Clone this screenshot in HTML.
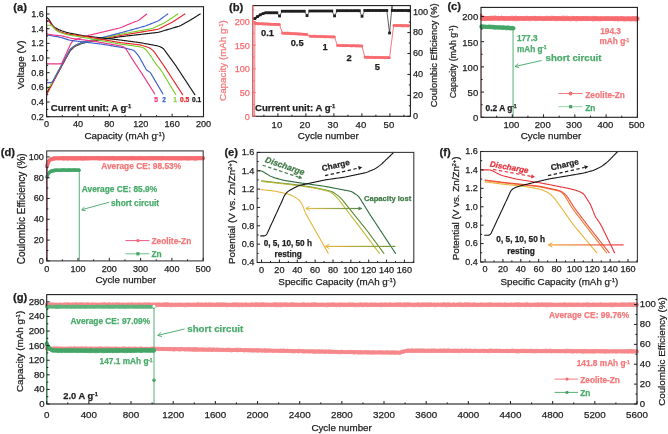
<!DOCTYPE html>
<html><head><meta charset="utf-8"><style>html,body{margin:0;padding:0;background:#fff;width:668px;height:434px;overflow:hidden}</style></head>
<body>
<svg width="668" height="434" viewBox="0 0 668 434" style="display:block;will-change:transform">
<rect width="668" height="434" fill="#fff"/>
<g font-family='"Liberation Sans", sans-serif'>
<text x="13.3" y="11.4" font-size="11.2" fill="#1e1e1e" stroke="#1e1e1e" stroke-width="0.25" font-weight="bold" text-anchor="start">(a)</text>
<path d="M46.6 93.23 L46.99 92.53 L47.38 91.83 L47.77 91.12 L48.16 90.42 L48.55 89.72 L48.93 89.02 L49.32 88.31 L49.71 87.61 L50.1 86.91 L50.49 86.2 L50.88 85.5 L51.27 84.8 L51.66 84.09 L52.05 83.39 L52.44 82.69 L52.82 81.98 L53.21 81.28 L53.6 80.58 L53.99 79.88 L54.38 79.17 L54.77 78.47 L55.16 77.77 L55.55 77.06 L55.94 76.36 L56.33 75.66 L56.71 74.95 L57.1 74.25 L57.49 73.55 L57.88 72.85 L58.27 72.14 L58.66 71.44 L59.05 70.74 L59.44 70.03 L59.83 69.33 L60.22 68.63 L60.6 67.92 L60.99 67.22 L61.38 66.52 L61.77 65.82 L62.16 65.11 L62.55 64.41 L62.94 63.71 L63.33 63 L63.72 62.3 L64.11 61.6 L64.49 60.89 L64.88 60.19 L65.27 59.49 L65.66 58.78 L66.05 58.08 L66.44 57.38 L66.83 56.68 L67.22 55.97 L67.61 55.27 L68 54.57 L68.38 53.86 L68.77 53.16 L69.16 52.46 L69.56 51.76 L70.01 51.1 L70.5 50.48 L71.03 49.88 L71.61 49.32 L72.19 48.77 L72.78 48.22 L73.37 47.67 L73.97 47.14 L74.6 46.66 L75.27 46.23 L75.97 45.85 L76.7 45.53 L77.44 45.22 L78.19 44.91 L78.93 44.6 L79.67 44.29 L80.42 43.98 L81.17 43.7 L81.93 43.44 L82.69 43.22 L83.47 43.02 L84.26 42.85 L85.04 42.68 L85.83 42.51 L86.61 42.34 L87.39 42.17 L88.18 42 L88.96 41.83 L89.75 41.66 L90.53 41.48 L91.32 41.31 L92.1 41.14 L92.89 40.98 L93.68 40.83 L94.47 40.69 L95.27 40.56 L96.07 40.43 L96.87 40.31 L97.66 40.19 L98.46 40.07 L99.26 39.94 L100.06 39.82 L100.86 39.7 L101.66 39.58 L102.46 39.46 L103.26 39.33 L104.05 39.21 L104.85 39.09 L105.65 38.97 L106.45 38.84 L107.25 38.72 L108.05 38.6 L108.85 38.48 L109.65 38.36 L110.44 38.23 L111.24 38.11 L112.04 37.99 L112.84 37.87 L113.64 37.74 L114.44 37.62 L115.24 37.5 L116.04 37.38 L116.83 37.26 L117.63 37.13 L118.43 37.01 L119.23 36.89 L120.03 36.78 L120.82 36.68 L121.62 36.58 L122.42 36.49 L123.21 36.4 L124.01 36.31 L124.8 36.22 L125.6 36.12 L126.4 36.03 L127.19 35.94 L127.99 35.85 L128.78 35.76 L129.58 35.67 L130.38 35.57 L131.17 35.48 L131.97 35.39 L132.76 35.3 L133.56 35.21 L134.36 35.12 L135.15 35.02 L135.95 34.93 L136.74 34.84 L137.54 34.75 L138.34 34.66 L139.13 34.57 L139.93 34.47 L140.72 34.38 L141.52 34.29 L142.32 34.2 L143.11 34.11 L143.91 34.02 L144.7 33.92 L145.5 33.83 L146.3 33.74 L147.09 33.65 L147.89 33.56 L148.68 33.47 L149.48 33.37 L150.27 33.28 L151.07 33.19 L151.87 33.1 L152.66 33.01 L153.46 32.92 L154.25 32.82 L155.05 32.73 L155.85 32.64 L156.64 32.55 L157.43 32.44 L158.22 32.29 L159 32.12 L159.78 31.91 L160.55 31.68 L161.32 31.46 L162.09 31.23 L162.86 31 L163.63 30.77 L164.4 30.54 L165.17 30.32 L165.94 30.09 L166.71 29.86 L167.48 29.63 L168.25 29.4 L169.02 29.18 L169.79 28.95 L170.56 28.72 L171.33 28.49 L172.1 28.27 L172.87 28.04 L173.64 27.81 L174.41 27.58 L175.19 27.35 L175.96 27.13 L176.73 26.9 L177.5 26.67 L178.27 26.44 L179.03 26.19 L179.77 25.9 L180.5 25.57 L181.21 25.21 L181.92 24.82 L182.62 24.43 L183.32 24.04 L184.03 23.65 L184.73 23.26 L185.43 22.87 L186.14 22.48 L186.84 22.09 L187.54 21.7 L188.25 21.31 L188.95 20.92 L189.65 20.52 L190.34 20.12 L191.03 19.7 L191.71 19.28 L192.39 18.85 L193.07 18.43 L193.75 18 L194.43 17.58 L195.11 17.15 L195.79 16.72 L196.47 16.3 L197.15 15.87 L197.83 15.45 L198.51 15.02 L199.19 14.6 L199.87 14.17 L200.21 13.96" fill="none" stroke="#161616" stroke-width="1.15" stroke-linejoin="round" stroke-linecap="round"/>
<path d="M46.6 94.7 L46.97 93.99 L47.35 93.28 L47.72 92.57 L48.09 91.86 L48.47 91.15 L48.84 90.44 L49.22 89.73 L49.59 89.02 L49.96 88.31 L50.34 87.6 L50.71 86.89 L51.08 86.18 L51.46 85.47 L51.83 84.76 L52.2 84.05 L52.58 83.34 L52.95 82.63 L53.32 81.92 L53.7 81.21 L54.07 80.5 L54.45 79.79 L54.82 79.08 L55.19 78.37 L55.57 77.66 L55.94 76.95 L56.31 76.24 L56.69 75.53 L57.06 74.82 L57.43 74.11 L57.81 73.4 L58.18 72.69 L58.55 71.98 L58.93 71.27 L59.3 70.56 L59.68 69.85 L60.05 69.14 L60.42 68.43 L60.8 67.72 L61.17 67.01 L61.54 66.3 L61.92 65.59 L62.29 64.88 L62.66 64.17 L63.04 63.46 L63.41 62.75 L63.78 62.04 L64.16 61.33 L64.53 60.62 L64.91 59.91 L65.28 59.2 L65.65 58.49 L66.03 57.78 L66.4 57.07 L66.77 56.36 L67.15 55.65 L67.52 54.94 L67.89 54.23 L68.27 53.52 L68.64 52.81 L69.01 52.1 L69.39 51.39 L69.8 50.71 L70.28 50.06 L70.8 49.46 L71.39 48.89 L72.02 48.35 L72.65 47.82 L73.27 47.28 L73.91 46.75 L74.57 46.27 L75.25 45.82 L75.96 45.42 L76.7 45.06 L77.44 44.72 L78.19 44.37 L78.93 44.02 L79.67 43.68 L80.42 43.33 L81.17 43.01 L81.94 42.74 L82.73 42.51 L83.53 42.33 L84.34 42.18 L85.15 42.03 L85.96 41.87 L86.77 41.72 L87.58 41.57 L88.39 41.42 L89.21 41.27 L90.02 41.12 L90.83 40.96 L91.64 40.81 L92.45 40.66 L93.26 40.51 L94.07 40.36 L94.87 40.21 L95.67 40.07 L96.47 39.92 L97.26 39.77 L98.06 39.63 L98.86 39.48 L99.66 39.33 L100.46 39.19 L101.26 39.04 L102.06 38.89 L102.86 38.75 L103.65 38.6 L104.45 38.45 L105.25 38.31 L106.05 38.16 L106.85 38.01 L107.65 37.87 L108.45 37.72 L109.25 37.57 L110.04 37.43 L110.84 37.28 L111.64 37.13 L112.44 36.99 L113.24 36.84 L114.04 36.69 L114.84 36.55 L115.64 36.4 L116.43 36.25 L117.23 36.11 L118.03 35.96 L118.83 35.81 L119.63 35.67 L120.43 35.53 L121.22 35.39 L122.02 35.26 L122.81 35.13 L123.61 35 L124.41 34.86 L125.2 34.73 L126 34.6 L126.79 34.46 L127.59 34.33 L128.39 34.2 L129.18 34.06 L129.98 33.93 L130.77 33.8 L131.57 33.67 L132.37 33.53 L133.16 33.4 L133.96 33.27 L134.75 33.13 L135.55 33 L136.35 32.87 L137.14 32.74 L137.94 32.6 L138.73 32.47 L139.53 32.34 L140.33 32.2 L141.12 32.07 L141.92 31.94 L142.71 31.81 L143.51 31.67 L144.31 31.54 L145.1 31.41 L145.9 31.27 L146.69 31.14 L147.49 31.01 L148.29 30.87 L149.08 30.74 L149.88 30.61 L150.67 30.48 L151.47 30.34 L152.26 30.21 L153.06 30.08 L153.86 29.94 L154.65 29.81 L155.45 29.68 L156.24 29.55 L157.04 29.4 L157.81 29.21 L158.57 28.96 L159.3 28.66 L160.02 28.32 L160.74 27.96 L161.46 27.61 L162.17 27.25 L162.89 26.89 L163.61 26.53 L164.32 26.18 L165.04 25.82 L165.75 25.46 L166.47 25.1 L167.19 24.75 L167.9 24.39 L168.62 24.03 L169.33 23.68 L170.05 23.32 L170.77 22.96 L171.48 22.59 L172.18 22.2 L172.88 21.78 L173.57 21.35 L174.26 20.9 L174.95 20.45 L175.63 20.01 L176.32 19.56 L177.01 19.11 L177.69 18.66 L178.38 18.22 L179.07 17.77 L179.76 17.32 L180.44 16.87 L181.13 16.42 L181.82 15.98 L182.5 15.53 L183.19 15.08 L183.88 14.63 L184.56 14.18 L184.91 13.96" fill="none" stroke="#e8262a" stroke-width="1.15" stroke-linejoin="round" stroke-linecap="round"/>
<path d="M46.6 88.83 L47.38 88.59 L48.1 88.27 L48.73 87.84 L49.27 87.32 L49.72 86.69 L50.11 85.98 L50.49 85.27 L50.88 84.57 L51.26 83.86 L51.65 83.15 L52.03 82.45 L52.42 81.74 L52.8 81.03 L53.19 80.33 L53.57 79.62 L53.96 78.91 L54.35 78.21 L54.73 77.5 L55.12 76.79 L55.5 76.09 L55.89 75.38 L56.27 74.67 L56.66 73.97 L57.04 73.26 L57.43 72.55 L57.81 71.85 L58.2 71.14 L58.58 70.43 L58.97 69.73 L59.35 69.02 L59.74 68.31 L60.12 67.61 L60.51 66.9 L60.89 66.19 L61.28 65.49 L61.66 64.78 L62.05 64.07 L62.43 63.37 L62.82 62.66 L63.2 61.95 L63.59 61.25 L63.97 60.54 L64.36 59.83 L64.74 59.13 L65.13 58.42 L65.51 57.71 L65.9 57.01 L66.28 56.3 L66.67 55.59 L67.05 54.89 L67.44 54.18 L67.82 53.47 L68.21 52.77 L68.59 52.06 L68.98 51.35 L69.36 50.65 L69.8 49.97 L70.29 49.33 L70.86 48.74 L71.48 48.19 L72.15 47.66 L72.82 47.14 L73.5 46.61 L74.18 46.13 L74.88 45.69 L75.6 45.29 L76.33 44.95 L77.07 44.64 L77.81 44.33 L78.56 44.02 L79.3 43.71 L80.04 43.41 L80.79 43.1 L81.54 42.83 L82.31 42.59 L83.08 42.38 L83.86 42.21 L84.65 42.03 L85.43 41.86 L86.22 41.69 L87 41.52 L87.79 41.35 L88.57 41.18 L89.36 41.01 L90.14 40.84 L90.92 40.67 L91.71 40.49 L92.49 40.32 L93.28 40.15 L94.06 39.98 L94.85 39.81 L95.64 39.63 L96.42 39.46 L97.21 39.29 L98 39.12 L98.78 38.94 L99.57 38.77 L100.36 38.6 L101.14 38.42 L101.93 38.25 L102.72 38.08 L103.51 37.9 L104.29 37.73 L105.08 37.56 L105.87 37.39 L106.65 37.21 L107.44 37.04 L108.23 36.87 L109.01 36.69 L109.8 36.52 L110.59 36.35 L111.37 36.18 L112.16 36 L112.95 35.83 L113.73 35.66 L114.52 35.48 L115.31 35.31 L116.09 35.14 L116.88 34.97 L117.67 34.79 L118.46 34.62 L119.24 34.45 L120.03 34.29 L120.82 34.14 L121.62 33.99 L122.41 33.85 L123.21 33.71 L124 33.57 L124.8 33.43 L125.59 33.29 L126.38 33.14 L127.18 33 L127.97 32.86 L128.77 32.72 L129.56 32.58 L130.36 32.44 L131.15 32.3 L131.94 32.16 L132.74 32.01 L133.53 31.87 L134.33 31.73 L135.12 31.59 L135.92 31.45 L136.71 31.31 L137.5 31.17 L138.3 31.03 L139.09 30.89 L139.89 30.74 L140.68 30.6 L141.48 30.46 L142.27 30.32 L143.06 30.18 L143.86 30.04 L144.65 29.9 L145.45 29.76 L146.24 29.61 L147.04 29.47 L147.83 29.33 L148.62 29.19 L149.42 29.05 L150.21 28.91 L151 28.73 L151.78 28.52 L152.54 28.25 L153.3 27.95 L154.04 27.6 L154.79 27.26 L155.54 26.92 L156.29 26.58 L157.03 26.24 L157.78 25.9 L158.53 25.56 L159.28 25.22 L160.02 24.88 L160.77 24.54 L161.52 24.2 L162.27 23.86 L163.02 23.51 L163.75 23.16 L164.47 22.78 L165.17 22.37 L165.85 21.95 L166.52 21.5 L167.19 21.06 L167.86 20.61 L168.53 20.17 L169.21 19.73 L169.88 19.28 L170.55 18.84 L171.22 18.4 L171.89 17.95 L172.56 17.51 L173.23 17.07 L173.9 16.62 L174.57 16.18 L175.24 15.73 L175.91 15.29 L176.58 14.85 L177.25 14.4 L177.93 13.96" fill="none" stroke="#7ccd2c" stroke-width="1.15" stroke-linejoin="round" stroke-linecap="round"/>
<path d="M46.6 82.6 L47.44 82.6 L48.29 82.6 L49.13 82.6 L49.98 82.6 L50.8 82.56 L51.52 82.36 L52.13 82.01 L52.64 81.5 L53.05 80.83 L53.44 80.12 L53.82 79.41 L54.2 78.7 L54.59 77.99 L54.97 77.28 L55.35 76.57 L55.74 75.86 L56.12 75.15 L56.51 74.44 L56.89 73.73 L57.27 73.02 L57.66 72.31 L58.04 71.6 L58.43 70.89 L58.81 70.18 L59.19 69.47 L59.58 68.76 L59.96 68.05 L60.35 67.34 L60.73 66.63 L61.11 65.92 L61.5 65.21 L61.88 64.5 L62.26 63.79 L62.65 63.08 L63.03 62.37 L63.42 61.66 L63.8 60.95 L64.18 60.24 L64.57 59.53 L64.95 58.82 L65.34 58.11 L65.72 57.4 L66.1 56.69 L66.49 55.98 L66.87 55.27 L67.26 54.56 L67.64 53.85 L68.02 53.14 L68.41 52.43 L68.79 51.72 L69.18 51.01 L69.58 50.31 L70.04 49.65 L70.57 49.03 L71.16 48.46 L71.82 47.92 L72.49 47.4 L73.16 46.88 L73.84 46.36 L74.53 45.89 L75.24 45.45 L75.96 45.06 L76.7 44.7 L77.44 44.35 L78.19 44 L78.93 43.66 L79.67 43.31 L80.42 42.96 L81.17 42.64 L81.93 42.36 L82.69 42.12 L83.47 41.92 L84.26 41.75 L85.04 41.58 L85.83 41.41 L86.61 41.24 L87.39 41.07 L88.18 40.9 L88.96 40.73 L89.75 40.56 L90.53 40.38 L91.32 40.21 L92.1 40.04 L92.89 39.87 L93.67 39.68 L94.46 39.5 L95.24 39.3 L96.03 39.1 L96.82 38.9 L97.6 38.7 L98.39 38.5 L99.18 38.31 L99.96 38.11 L100.75 37.91 L101.54 37.71 L102.33 37.51 L103.11 37.31 L103.9 37.11 L104.69 36.91 L105.47 36.71 L106.26 36.51 L107.05 36.31 L107.83 36.11 L108.62 35.92 L109.41 35.72 L110.19 35.52 L110.98 35.32 L111.77 35.12 L112.55 34.92 L113.34 34.72 L114.13 34.52 L114.91 34.32 L115.7 34.12 L116.49 33.92 L117.28 33.72 L118.06 33.52 L118.85 33.32 L119.63 33.12 L120.42 32.91 L121.2 32.7 L121.98 32.49 L122.77 32.27 L123.55 32.05 L124.33 31.84 L125.11 31.62 L125.89 31.4 L126.68 31.19 L127.46 30.97 L128.24 30.75 L129.02 30.54 L129.81 30.32 L130.59 30.1 L131.37 29.89 L132.15 29.67 L132.93 29.45 L133.72 29.24 L134.5 29.02 L135.28 28.8 L136.06 28.59 L136.84 28.37 L137.63 28.15 L138.41 27.94 L139.19 27.72 L139.97 27.5 L140.75 27.29 L141.54 27.07 L142.32 26.85 L143.1 26.64 L143.88 26.42 L144.66 26.19 L145.43 25.94 L146.19 25.68 L146.95 25.39 L147.7 25.09 L148.46 24.8 L149.21 24.5 L149.96 24.2 L150.71 23.9 L151.46 23.61 L152.22 23.31 L152.97 23.01 L153.72 22.71 L154.47 22.41 L155.23 22.12 L155.98 21.82 L156.73 21.52 L157.47 21.19 L158.18 20.83 L158.87 20.42 L159.54 19.97 L160.2 19.49 L160.85 19 L161.51 18.52 L162.16 18.04 L162.82 17.56 L163.47 17.08 L164.13 16.6 L164.78 16.12 L165.44 15.64 L166.09 15.16 L166.74 14.68 L167.4 14.2 L167.73 13.96" fill="none" stroke="#3d5fcc" stroke-width="1.15" stroke-linejoin="round" stroke-linecap="round"/>
<path d="M46.6 63.9 L47.41 63.9 L48.21 63.9 L49.02 63.9 L49.82 63.9 L50.63 63.9 L51.43 63.9 L52.24 63.9 L53.05 63.9 L53.85 63.9 L54.66 63.9 L55.46 63.9 L56.27 63.9 L57.07 63.9 L57.88 63.9 L58.69 63.9 L59.49 63.9 L60.27 63.86 L60.95 63.66 L61.52 63.29 L61.98 62.76 L62.35 62.07 L62.68 61.33 L63.02 60.6 L63.35 59.87 L63.69 59.13 L64.03 58.4 L64.36 57.67 L64.7 56.93 L65.04 56.2 L65.37 55.47 L65.71 54.73 L66.04 54 L66.38 53.27 L66.72 52.53 L67.05 51.8 L67.39 51.07 L67.73 50.33 L68.06 49.6 L68.4 48.87 L68.73 48.13 L69.07 47.4 L69.41 46.67 L69.74 45.93 L70.08 45.2 L70.43 44.47 L70.81 43.76 L71.24 43.07 L71.71 42.39 L72.23 41.74 L72.79 41.15 L73.41 40.65 L74.07 40.23 L74.79 39.9 L75.56 39.63 L76.32 39.37 L77.08 39.1 L77.84 38.83 L78.6 38.57 L79.36 38.3 L80.12 38.03 L80.88 37.77 L81.64 37.5 L82.4 37.23 L83.16 36.97 L83.92 36.7 L84.69 36.44 L85.45 36.19 L86.23 35.97 L87.01 35.76 L87.79 35.57 L88.58 35.38 L89.36 35.19 L90.15 35 L90.94 34.82 L91.72 34.63 L92.51 34.44 L93.29 34.26 L94.08 34.07 L94.87 33.88 L95.65 33.69 L96.44 33.51 L97.23 33.32 L98.01 33.13 L98.8 32.95 L99.59 32.76 L100.37 32.57 L101.16 32.38 L101.94 32.2 L102.73 32.01 L103.52 31.82 L104.3 31.64 L105.09 31.45 L105.88 31.26 L106.66 31.07 L107.45 30.89 L108.23 30.7 L109.02 30.51 L109.81 30.33 L110.59 30.14 L111.38 29.95 L112.17 29.76 L112.95 29.58 L113.74 29.39 L114.53 29.2 L115.31 29.02 L116.1 28.83 L116.88 28.64 L117.67 28.45 L118.46 28.27 L119.24 28.06 L120 27.83 L120.76 27.57 L121.51 27.28 L122.26 26.97 L123 26.66 L123.74 26.36 L124.48 26.05 L125.23 25.74 L125.97 25.43 L126.71 25.12 L127.45 24.82 L128.2 24.51 L128.94 24.2 L129.68 23.89 L130.42 23.59 L131.17 23.28 L131.91 22.97 L132.65 22.66 L133.39 22.36 L134.14 22.05 L134.92 21.77 L135.72 21.51 L136.54 21.25 L137.33 20.94 L138.08 20.59 L138.77 20.16 L139.42 19.68 L140.05 19.18 L140.69 18.69 L141.32 18.19 L141.95 17.69 L142.59 17.19 L143.22 16.7 L143.85 16.2 L144.49 15.7 L145.12 15.2 L145.75 14.71 L146.39 14.21 L146.7 13.96" fill="none" stroke="#ee3589" stroke-width="1.15" stroke-linejoin="round" stroke-linecap="round"/>
<path d="M46.6 18.43 L47.12 17.85 L47.65 18.19 L48.16 18.51 L48.67 19.17 L49.15 19.9 L49.62 20.63 L50.07 21.37 L50.52 22.1 L50.97 22.83 L51.43 23.56 L51.91 24.27 L52.43 24.96 L52.98 25.62 L53.57 26.26 L54.19 26.83 L54.84 27.35 L55.52 27.82 L56.23 28.23 L56.94 28.63 L57.67 29.02 L58.41 29.39 L59.16 29.74 L59.94 30.08 L60.72 30.4 L61.51 30.71 L62.29 31 L63.07 31.27 L63.86 31.53 L64.64 31.77 L65.43 32.01 L66.21 32.25 L67 32.48 L67.79 32.68 L68.57 32.87 L69.37 33.04 L70.16 33.19 L70.95 33.35 L71.74 33.5 L72.53 33.66 L73.33 33.81 L74.12 33.96 L74.91 34.12 L75.7 34.27 L76.5 34.43 L77.29 34.58 L78.08 34.73 L78.87 34.89 L79.66 35.04 L80.46 35.19 L81.25 35.35 L82.04 35.5 L82.83 35.65 L83.63 35.79 L84.42 35.91 L85.22 36.02 L86.02 36.11 L86.82 36.21 L87.62 36.3 L88.42 36.39 L89.22 36.48 L90.02 36.57 L90.82 36.66 L91.62 36.75 L92.42 36.84 L93.22 36.94 L94.02 37.03 L94.82 37.12 L95.62 37.21 L96.42 37.3 L97.22 37.39 L98.02 37.48 L98.82 37.57 L99.62 37.67 L100.42 37.76 L101.22 37.85 L102.02 37.94 L102.83 38.03 L103.63 38.12 L104.43 38.21 L105.23 38.31 L106.03 38.4 L106.83 38.49 L107.63 38.58 L108.43 38.67 L109.23 38.76 L110.03 38.85 L110.83 38.94 L111.63 39.04 L112.43 39.13 L113.23 39.22 L114.03 39.31 L114.83 39.4 L115.63 39.49 L116.43 39.58 L117.23 39.67 L118.03 39.77 L118.83 39.86 L119.63 39.95 L120.43 40.05 L121.22 40.15 L122.02 40.26 L122.82 40.36 L123.62 40.47 L124.41 40.57 L125.21 40.68 L126.01 40.79 L126.8 40.89 L127.6 41 L128.4 41.1 L129.2 41.21 L129.99 41.31 L130.79 41.42 L131.59 41.52 L132.38 41.63 L133.18 41.74 L133.98 41.84 L134.77 41.95 L135.57 42.05 L136.37 42.16 L137.17 42.26 L137.96 42.37 L138.76 42.48 L139.56 42.59 L140.35 42.72 L141.15 42.86 L141.95 43 L142.75 43.15 L143.55 43.29 L144.34 43.44 L145.14 43.59 L145.94 43.73 L146.74 43.88 L147.54 44.03 L148.33 44.17 L149.13 44.32 L149.93 44.47 L150.73 44.61 L151.52 44.76 L152.32 44.91 L153.12 45.05 L153.92 45.2 L154.72 45.35 L155.51 45.49 L156.31 45.64 L157.11 45.79 L157.9 45.97 L158.68 46.2 L159.44 46.48 L160.2 46.81 L160.94 47.18 L161.69 47.55 L162.39 47.96 L163.03 48.44 L163.61 48.99 L164.14 49.59 L164.62 50.25 L165.1 50.91 L165.58 51.57 L166.06 52.22 L166.54 52.88 L167.02 53.54 L167.5 54.19 L167.98 54.85 L168.46 55.51 L168.94 56.16 L169.42 56.82 L169.9 57.48 L170.38 58.14 L170.86 58.79 L171.34 59.45 L171.82 60.11 L172.3 60.76 L172.78 61.42 L173.26 62.08 L173.74 62.74 L174.22 63.39 L174.69 64.05 L175.16 64.72 L175.62 65.38 L176.06 66.05 L176.51 66.73 L176.95 67.4 L177.39 68.08 L177.83 68.75 L178.28 69.42 L178.72 70.1 L179.16 70.77 L179.6 71.45 L180.05 72.12 L180.49 72.79 L180.93 73.47 L181.37 74.14 L181.82 74.82 L182.26 75.49 L182.7 76.16 L183.14 76.84 L183.59 77.51 L184.03 78.19 L184.47 78.86 L184.91 79.53 L185.36 80.21 L185.8 80.88 L186.24 81.56 L186.68 82.23 L187.13 82.9 L187.57 83.58 L188.01 84.25 L188.45 84.93 L188.9 85.6 L189.34 86.27 L189.78 86.95 L190.22 87.62 L190.67 88.3 L191.11 88.97 L191.55 89.64 L191.99 90.32 L192.44 90.99 L192.88 91.67 L193.32 92.34 L193.76 93.01 L194.21 93.69 L194.65 94.36 L194.87 94.7" fill="none" stroke="#161616" stroke-width="1.15" stroke-linejoin="round" stroke-linecap="round"/>
<path d="M46.6 20.63 L47.48 20.63 L48.21 20.88 L48.86 21.24 L49.42 21.77 L49.88 22.46 L50.34 23.17 L50.81 23.87 L51.31 24.54 L51.83 25.2 L52.37 25.84 L52.93 26.46 L53.52 27.08 L54.13 27.67 L54.76 28.26 L55.4 28.81 L56.07 29.33 L56.75 29.8 L57.46 30.22 L58.19 30.62 L58.91 31.01 L59.64 31.4 L60.38 31.74 L61.13 32.05 L61.9 32.32 L62.68 32.55 L63.47 32.77 L64.25 32.99 L65.04 33.21 L65.82 33.43 L66.6 33.65 L67.39 33.86 L68.18 34.05 L68.98 34.22 L69.79 34.36 L70.6 34.47 L71.41 34.58 L72.23 34.69 L73.04 34.79 L73.85 34.9 L74.67 35.01 L75.48 35.12 L76.29 35.23 L77.11 35.33 L77.92 35.44 L78.73 35.55 L79.55 35.66 L80.36 35.77 L81.17 35.88 L81.99 35.98 L82.8 36.09 L83.61 36.21 L84.41 36.33 L85.2 36.46 L85.99 36.6 L86.78 36.74 L87.57 36.88 L88.36 37.02 L89.15 37.15 L89.94 37.29 L90.73 37.43 L91.52 37.57 L92.31 37.71 L93.1 37.85 L93.89 37.99 L94.68 38.13 L95.47 38.26 L96.26 38.4 L97.05 38.54 L97.84 38.68 L98.63 38.82 L99.42 38.96 L100.21 39.1 L101 39.24 L101.79 39.37 L102.58 39.51 L103.37 39.65 L104.16 39.79 L104.95 39.93 L105.74 40.07 L106.52 40.21 L107.31 40.34 L108.1 40.48 L108.89 40.62 L109.68 40.76 L110.47 40.9 L111.26 41.04 L112.05 41.18 L112.84 41.32 L113.63 41.45 L114.42 41.59 L115.21 41.73 L116 41.87 L116.79 42.01 L117.58 42.15 L118.37 42.29 L119.16 42.42 L119.95 42.55 L120.75 42.66 L121.54 42.77 L122.34 42.86 L123.14 42.95 L123.95 43.04 L124.75 43.13 L125.55 43.22 L126.35 43.31 L127.15 43.4 L127.95 43.49 L128.75 43.58 L129.55 43.67 L130.35 43.76 L131.15 43.85 L131.95 43.94 L132.75 44.03 L133.55 44.11 L134.35 44.2 L135.15 44.29 L135.95 44.38 L136.75 44.47 L137.55 44.56 L138.35 44.65 L139.15 44.77 L139.94 44.92 L140.73 45.1 L141.51 45.31 L142.29 45.55 L143.07 45.8 L143.85 46.04 L144.62 46.28 L145.4 46.52 L146.18 46.76 L146.96 47 L147.74 47.24 L148.51 47.49 L149.25 47.81 L149.96 48.18 L150.64 48.61 L151.28 49.09 L151.93 49.59 L152.56 50.1 L153.15 50.65 L153.7 51.23 L154.21 51.85 L154.68 52.5 L155.14 53.16 L155.6 53.82 L156.05 54.48 L156.51 55.14 L156.97 55.8 L157.43 56.46 L157.89 57.12 L158.35 57.78 L158.81 58.44 L159.27 59.1 L159.73 59.76 L160.19 60.42 L160.65 61.08 L161.11 61.74 L161.57 62.4 L162.03 63.06 L162.49 63.72 L162.94 64.38 L163.39 65.05 L163.83 65.72 L164.27 66.39 L164.71 67.07 L165.15 67.74 L165.59 68.41 L166.03 69.09 L166.47 69.76 L166.91 70.44 L167.35 71.11 L167.79 71.78 L168.22 72.46 L168.66 73.13 L169.1 73.81 L169.54 74.48 L169.98 75.15 L170.42 75.83 L170.86 76.5 L171.3 77.18 L171.74 77.85 L172.18 78.52 L172.61 79.2 L173.05 79.87 L173.49 80.55 L173.93 81.22 L174.37 81.89 L174.81 82.57 L175.25 83.24 L175.69 83.92 L176.13 84.59 L176.57 85.26 L177 85.94 L177.44 86.61 L177.88 87.29 L178.32 87.96 L178.76 88.63 L179.2 89.31 L179.64 89.98 L180.08 90.66 L180.52 91.33 L180.95 92 L181.39 92.68 L181.83 93.35 L182.27 94.03 L182.71 94.7" fill="none" stroke="#e8262a" stroke-width="1.15" stroke-linejoin="round" stroke-linecap="round"/>
<path d="M46.6 25.25 L47.45 25.25 L48.3 25.25 L49.15 25.25 L50 25.25 L50.79 25.37 L51.5 25.63 L52.13 26.04 L52.68 26.61 L53.19 27.27 L53.74 27.92 L54.31 28.54 L54.92 29.14 L55.54 29.73 L56.2 30.28 L56.89 30.78 L57.61 31.23 L58.37 31.63 L59.15 32 L59.94 32.35 L60.72 32.68 L61.51 32.98 L62.29 33.26 L63.07 33.52 L63.86 33.78 L64.64 34.04 L65.43 34.28 L66.22 34.49 L67.01 34.68 L67.8 34.83 L68.59 34.96 L69.38 35.09 L70.17 35.22 L70.96 35.35 L71.75 35.48 L72.54 35.61 L73.34 35.74 L74.13 35.87 L74.92 36 L75.71 36.13 L76.5 36.26 L77.29 36.39 L78.08 36.52 L78.88 36.65 L79.67 36.78 L80.46 36.91 L81.25 37.04 L82.04 37.17 L82.83 37.31 L83.62 37.44 L84.41 37.58 L85.2 37.72 L85.99 37.86 L86.78 38 L87.57 38.15 L88.36 38.29 L89.15 38.43 L89.94 38.58 L90.73 38.72 L91.52 38.86 L92.31 39.01 L93.1 39.15 L93.89 39.29 L94.68 39.44 L95.47 39.58 L96.26 39.72 L97.05 39.87 L97.84 40.01 L98.63 40.15 L99.42 40.3 L100.21 40.44 L101 40.58 L101.79 40.73 L102.58 40.87 L103.37 41.02 L104.16 41.16 L104.95 41.3 L105.74 41.45 L106.52 41.59 L107.31 41.73 L108.1 41.88 L108.89 42.02 L109.68 42.16 L110.47 42.31 L111.26 42.45 L112.05 42.59 L112.84 42.74 L113.63 42.88 L114.42 43.02 L115.21 43.17 L116 43.31 L116.79 43.45 L117.58 43.6 L118.37 43.74 L119.16 43.88 L119.95 44.02 L120.75 44.14 L121.54 44.26 L122.34 44.37 L123.14 44.48 L123.95 44.58 L124.75 44.69 L125.55 44.8 L126.35 44.91 L127.15 45.02 L127.95 45.12 L128.75 45.23 L129.55 45.34 L130.35 45.45 L131.15 45.55 L131.95 45.66 L132.75 45.77 L133.55 45.88 L134.35 45.99 L135.15 46.09 L135.95 46.2 L136.75 46.31 L137.55 46.42 L138.35 46.52 L139.15 46.66 L139.93 46.82 L140.71 47.02 L141.47 47.25 L142.23 47.51 L142.99 47.77 L143.72 48.09 L144.4 48.49 L145.04 48.97 L145.64 49.54 L146.21 50.18 L146.77 50.81 L147.34 51.44 L147.87 52.08 L148.38 52.73 L148.86 53.39 L149.32 54.05 L149.77 54.72 L150.22 55.38 L150.66 56.05 L151.11 56.72 L151.56 57.38 L152.01 58.05 L152.46 58.71 L152.91 59.38 L153.36 60.05 L153.81 60.71 L154.26 61.38 L154.71 62.04 L155.16 62.71 L155.61 63.37 L156.07 64.04 L156.55 64.69 L157.05 65.35 L157.57 65.99 L158.1 66.64 L158.64 67.28 L159.17 67.93 L159.7 68.57 L160.23 69.21 L160.74 69.86 L161.23 70.53 L161.69 71.2 L162.12 71.88 L162.54 72.57 L162.95 73.27 L163.37 73.96 L163.78 74.65 L164.2 75.34 L164.61 76.03 L165.03 76.72 L165.44 77.41 L165.86 78.11 L166.27 78.8 L166.68 79.49 L167.1 80.18 L167.51 80.87 L167.93 81.56 L168.34 82.25 L168.76 82.95 L169.17 83.64 L169.59 84.33 L170 85.02 L170.42 85.71 L170.83 86.4 L171.25 87.09 L171.66 87.79 L172.08 88.48 L172.49 89.17 L172.9 89.86 L173.32 90.55 L173.73 91.24 L174.15 91.93 L174.56 92.63 L174.98 93.32 L175.39 94.01 L175.81 94.7" fill="none" stroke="#7ccd2c" stroke-width="1.15" stroke-linejoin="round" stroke-linecap="round"/>
<path d="M46.6 34.86 L47.39 35 L48.19 35.14 L48.98 35.27 L49.77 35.41 L50.57 35.55 L51.36 35.69 L52.16 35.83 L52.95 35.96 L53.74 36.1 L54.54 36.24 L55.33 36.38 L56.12 36.52 L56.92 36.65 L57.71 36.79 L58.51 36.93 L59.3 37.09 L60.09 37.26 L60.87 37.46 L61.65 37.68 L62.43 37.92 L63.21 38.16 L63.99 38.4 L64.77 38.64 L65.54 38.88 L66.32 39.12 L67.1 39.36 L67.88 39.6 L68.66 39.84 L69.44 40.07 L70.22 40.27 L71.02 40.43 L71.81 40.57 L72.61 40.67 L73.42 40.77 L74.22 40.86 L75.02 40.96 L75.82 41.05 L76.63 41.15 L77.43 41.24 L78.23 41.34 L79.04 41.43 L79.84 41.53 L80.64 41.62 L81.44 41.72 L82.25 41.81 L83.05 41.91 L83.85 42 L84.66 42.1 L85.46 42.2 L86.26 42.29 L87.06 42.39 L87.87 42.48 L88.67 42.58 L89.47 42.67 L90.28 42.77 L91.08 42.86 L91.88 42.96 L92.68 43.05 L93.49 43.15 L94.29 43.24 L95.09 43.34 L95.9 43.43 L96.7 43.53 L97.5 43.62 L98.3 43.72 L99.11 43.81 L99.91 43.91 L100.71 44.01 L101.51 44.12 L102.31 44.24 L103.11 44.36 L103.9 44.49 L104.7 44.62 L105.49 44.76 L106.29 44.89 L107.08 45.02 L107.88 45.15 L108.67 45.28 L109.47 45.41 L110.27 45.54 L111.06 45.67 L111.86 45.81 L112.65 45.94 L113.45 46.07 L114.24 46.2 L115.04 46.33 L115.83 46.46 L116.63 46.59 L117.43 46.72 L118.22 46.86 L119.02 46.99 L119.81 47.12 L120.61 47.25 L121.4 47.38 L122.2 47.51 L122.99 47.65 L123.78 47.8 L124.57 47.96 L125.35 48.14 L126.13 48.34 L126.91 48.54 L127.69 48.74 L128.47 48.94 L129.25 49.14 L130.02 49.34 L130.8 49.54 L131.58 49.73 L132.36 49.93 L133.1 50.2 L133.78 50.57 L134.41 51.02 L134.98 51.57 L135.51 52.19 L136.04 52.81 L136.57 53.43 L137.11 54.05 L137.64 54.67 L138.15 55.3 L138.62 55.96 L139.07 56.63 L139.49 57.33 L139.88 58.04 L140.28 58.75 L140.67 59.47 L141.07 60.18 L141.46 60.89 L141.85 61.6 L142.25 62.31 L142.64 63.03 L143.04 63.74 L143.43 64.45 L143.82 65.16 L144.22 65.87 L144.61 66.58 L145.01 67.3 L145.4 68.01 L145.8 68.72 L146.21 69.41 L146.72 70.03 L147.32 70.57 L148.01 71.03 L148.77 71.44 L149.46 71.89 L150.07 72.43 L150.59 73.03 L151.02 73.71 L151.44 74.41 L151.85 75.11 L152.26 75.81 L152.67 76.51 L153.08 77.2 L153.49 77.9 L153.9 78.6 L154.31 79.3 L154.72 80 L155.13 80.7 L155.54 81.4 L155.96 82.09 L156.37 82.79 L156.78 83.49 L157.19 84.19 L157.6 84.89 L158.01 85.59 L158.42 86.28 L158.83 86.98 L159.24 87.68 L159.65 88.38 L160.06 89.08 L160.48 89.78 L160.89 90.47 L161.3 91.17 L161.71 91.87 L162.12 92.57 L162.53 93.27 L162.94 93.97" fill="none" stroke="#3d5fcc" stroke-width="1.15" stroke-linejoin="round" stroke-linecap="round"/>
<path d="M46.6 26.5 L46.6 27.31 L46.6 28.13 L46.6 28.94 L46.6 29.76 L46.6 30.57 L46.6 31.39 L46.6 32.2 L46.74 32.92 L47.07 33.5 L47.59 33.94 L48.3 34.25 L49.14 34.42 L49.97 34.57 L50.79 34.7 L51.6 34.8 L52.41 34.89 L53.22 34.98 L54.03 35.07 L54.84 35.16 L55.65 35.25 L56.46 35.35 L57.27 35.44 L58.08 35.53 L58.88 35.62 L59.69 35.71 L60.5 35.8 L61.31 35.9 L62.12 36.02 L62.93 36.17 L63.73 36.34 L64.54 36.54 L65.34 36.74 L66.14 36.94 L66.95 37.14 L67.75 37.34 L68.56 37.55 L69.36 37.75 L70.16 37.95 L70.97 38.15 L71.77 38.32 L72.57 38.47 L73.37 38.6 L74.17 38.7 L74.96 38.81 L75.76 38.91 L76.55 39.01 L77.35 39.11 L78.15 39.21 L78.94 39.31 L79.74 39.41 L80.53 39.51 L81.33 39.61 L82.13 39.71 L82.92 39.81 L83.72 39.91 L84.51 40.01 L85.31 40.11 L86.11 40.21 L86.9 40.31 L87.7 40.41 L88.5 40.51 L89.29 40.61 L90.09 40.71 L90.88 40.81 L91.68 40.92 L92.48 41.02 L93.27 41.13 L94.07 41.25 L94.86 41.38 L95.66 41.52 L96.45 41.66 L97.25 41.8 L98.04 41.94 L98.84 42.08 L99.63 42.22 L100.43 42.36 L101.22 42.5 L102.02 42.64 L102.82 42.78 L103.61 42.92 L104.41 43.07 L105.2 43.21 L106 43.35 L106.79 43.49 L107.59 43.63 L108.38 43.77 L109.18 43.91 L109.97 44.05 L110.77 44.19 L111.56 44.33 L112.36 44.47 L113.15 44.61 L113.95 44.75 L114.74 44.89 L115.54 45.03 L116.33 45.17 L117.13 45.32 L117.93 45.46 L118.72 45.6 L119.52 45.74 L120.31 45.88 L121.11 46.02 L121.88 46.22 L122.64 46.51 L123.38 46.88 L124.09 47.34 L124.77 47.87 L125.4 48.45 L125.96 49.06 L126.46 49.71 L126.91 50.39 L127.34 51.09 L127.76 51.79 L128.19 52.49 L128.62 53.19 L129.05 53.89 L129.48 54.59 L129.91 55.29 L130.34 55.99 L130.77 56.69 L131.2 57.39 L131.63 58.08 L132.06 58.77 L132.5 59.46 L132.94 60.14 L133.39 60.81 L133.84 61.49 L134.29 62.16 L134.74 62.83 L135.18 63.5 L135.63 64.17 L136.08 64.84 L136.53 65.52 L136.98 66.19 L137.43 66.86 L137.88 67.53 L138.33 68.2 L138.78 68.88 L139.22 69.55 L139.67 70.22 L140.12 70.89 L140.57 71.56 L141.02 72.24 L141.46 72.91 L141.91 73.58 L142.34 74.26 L142.77 74.94 L143.2 75.62 L143.63 76.3 L144.06 76.98 L144.49 77.66 L144.92 78.34 L145.35 79.02 L145.78 79.7 L146.21 80.38 L146.63 81.06 L147.06 81.73 L147.49 82.41 L147.92 83.09 L148.35 83.77 L148.78 84.45 L149.21 85.13 L149.64 85.81 L150.07 86.49 L150.49 87.17 L150.92 87.85 L151.35 88.53 L151.78 89.21 L152.21 89.89 L152.64 90.57 L153.07 91.25 L153.5 91.93 L153.92 92.61 L154.35 93.29 L154.78 93.97" fill="none" stroke="#ee3589" stroke-width="1.15" stroke-linejoin="round" stroke-linecap="round"/>
<path d="M46.6 27.23 L46.6 33.83" fill="none" stroke="#ee3589" stroke-width="1.0" stroke-linejoin="round" stroke-linecap="round"/>
<rect x="46.6" y="6.7" width="156.9" height="110" fill="none" stroke="#1e1e1e" stroke-width="1.1"/>
<line x1="46.6" y1="116.7" x2="46.6" y2="113.7" stroke="#1e1e1e" stroke-width="1"/>
<text x="46.6" y="127" font-size="9.1" fill="#1e1e1e" stroke="#1e1e1e" stroke-width="0.25" font-weight="normal" text-anchor="middle">0</text>
<line x1="77.98" y1="116.7" x2="77.98" y2="113.7" stroke="#1e1e1e" stroke-width="1"/>
<text x="77.98" y="127" font-size="9.1" fill="#1e1e1e" stroke="#1e1e1e" stroke-width="0.25" font-weight="normal" text-anchor="middle">40</text>
<line x1="109.36" y1="116.7" x2="109.36" y2="113.7" stroke="#1e1e1e" stroke-width="1"/>
<text x="109.36" y="127" font-size="9.1" fill="#1e1e1e" stroke="#1e1e1e" stroke-width="0.25" font-weight="normal" text-anchor="middle">80</text>
<line x1="140.74" y1="116.7" x2="140.74" y2="113.7" stroke="#1e1e1e" stroke-width="1"/>
<text x="140.74" y="127" font-size="9.1" fill="#1e1e1e" stroke="#1e1e1e" stroke-width="0.25" font-weight="normal" text-anchor="middle">120</text>
<line x1="172.12" y1="116.7" x2="172.12" y2="113.7" stroke="#1e1e1e" stroke-width="1"/>
<text x="172.12" y="127" font-size="9.1" fill="#1e1e1e" stroke="#1e1e1e" stroke-width="0.25" font-weight="normal" text-anchor="middle">160</text>
<line x1="203.5" y1="116.7" x2="203.5" y2="113.7" stroke="#1e1e1e" stroke-width="1"/>
<text x="203.5" y="127" font-size="9.1" fill="#1e1e1e" stroke="#1e1e1e" stroke-width="0.25" font-weight="normal" text-anchor="middle">200</text>
<line x1="62.29" y1="116.7" x2="62.29" y2="115.1" stroke="#1e1e1e" stroke-width="1"/>
<line x1="93.67" y1="116.7" x2="93.67" y2="115.1" stroke="#1e1e1e" stroke-width="1"/>
<line x1="125.05" y1="116.7" x2="125.05" y2="115.1" stroke="#1e1e1e" stroke-width="1"/>
<line x1="156.43" y1="116.7" x2="156.43" y2="115.1" stroke="#1e1e1e" stroke-width="1"/>
<line x1="187.81" y1="116.7" x2="187.81" y2="115.1" stroke="#1e1e1e" stroke-width="1"/>
<line x1="46.6" y1="116.7" x2="49.6" y2="116.7" stroke="#1e1e1e" stroke-width="1"/>
<text x="43.8" y="119.6" font-size="9.1" fill="#1e1e1e" stroke="#1e1e1e" stroke-width="0.25" font-weight="normal" text-anchor="end">0.2</text>
<line x1="46.6" y1="102.03" x2="49.6" y2="102.03" stroke="#1e1e1e" stroke-width="1"/>
<text x="43.8" y="104.93" font-size="9.1" fill="#1e1e1e" stroke="#1e1e1e" stroke-width="0.25" font-weight="normal" text-anchor="end">0.4</text>
<line x1="46.6" y1="87.37" x2="49.6" y2="87.37" stroke="#1e1e1e" stroke-width="1"/>
<text x="43.8" y="90.27" font-size="9.1" fill="#1e1e1e" stroke="#1e1e1e" stroke-width="0.25" font-weight="normal" text-anchor="end">0.6</text>
<line x1="46.6" y1="72.7" x2="49.6" y2="72.7" stroke="#1e1e1e" stroke-width="1"/>
<text x="43.8" y="75.6" font-size="9.1" fill="#1e1e1e" stroke="#1e1e1e" stroke-width="0.25" font-weight="normal" text-anchor="end">0.8</text>
<line x1="46.6" y1="58.03" x2="49.6" y2="58.03" stroke="#1e1e1e" stroke-width="1"/>
<text x="43.8" y="60.93" font-size="9.1" fill="#1e1e1e" stroke="#1e1e1e" stroke-width="0.25" font-weight="normal" text-anchor="end">1.0</text>
<line x1="46.6" y1="43.37" x2="49.6" y2="43.37" stroke="#1e1e1e" stroke-width="1"/>
<text x="43.8" y="46.27" font-size="9.1" fill="#1e1e1e" stroke="#1e1e1e" stroke-width="0.25" font-weight="normal" text-anchor="end">1.2</text>
<line x1="46.6" y1="28.7" x2="49.6" y2="28.7" stroke="#1e1e1e" stroke-width="1"/>
<text x="43.8" y="31.6" font-size="9.1" fill="#1e1e1e" stroke="#1e1e1e" stroke-width="0.25" font-weight="normal" text-anchor="end">1.4</text>
<line x1="46.6" y1="14.03" x2="49.6" y2="14.03" stroke="#1e1e1e" stroke-width="1"/>
<text x="43.8" y="16.93" font-size="9.1" fill="#1e1e1e" stroke="#1e1e1e" stroke-width="0.25" font-weight="normal" text-anchor="end">1.6</text>
<line x1="46.6" y1="109.37" x2="48.2" y2="109.37" stroke="#1e1e1e" stroke-width="1"/>
<line x1="46.6" y1="94.7" x2="48.2" y2="94.7" stroke="#1e1e1e" stroke-width="1"/>
<line x1="46.6" y1="80.03" x2="48.2" y2="80.03" stroke="#1e1e1e" stroke-width="1"/>
<line x1="46.6" y1="65.37" x2="48.2" y2="65.37" stroke="#1e1e1e" stroke-width="1"/>
<line x1="46.6" y1="50.7" x2="48.2" y2="50.7" stroke="#1e1e1e" stroke-width="1"/>
<line x1="46.6" y1="36.03" x2="48.2" y2="36.03" stroke="#1e1e1e" stroke-width="1"/>
<line x1="46.6" y1="21.37" x2="48.2" y2="21.37" stroke="#1e1e1e" stroke-width="1"/>
<text x="84.5" y="139.4" font-size="9.8" fill="#1e1e1e" stroke="#1e1e1e" stroke-width="0.25" font-weight="normal" text-anchor="start"><tspan>Capacity (mAh g</tspan><tspan font-size="5.88" dy="-2.94" dx="-0.3">-1</tspan><tspan dy="2.94">&#8203;</tspan><tspan>)</tspan></text>
<text x="24.2" y="64.7" font-size="9.8" fill="#1e1e1e" stroke="#1e1e1e" stroke-width="0.25" font-weight="normal" text-anchor="middle" transform="rotate(-90 24.2 64.7)"><tspan>Voltage (V)</tspan></text>
<text x="50.8" y="110.9" font-size="9.6" fill="#1e1e1e" stroke="#1e1e1e" stroke-width="0.25" font-weight="bold" text-anchor="start"><tspan>Current unit: A g</tspan><tspan font-size="5.76" dy="-2.88" dx="-0.3">-1</tspan><tspan dy="2.88">&#8203;</tspan></text>
<text x="154.3" y="101.6" font-size="6.6" fill="#ee3589" stroke="#ee3589" stroke-width="0.25" font-weight="bold" text-anchor="start">5</text>
<text x="162.2" y="101.6" font-size="6.6" fill="#3d5fcc" stroke="#3d5fcc" stroke-width="0.25" font-weight="bold" text-anchor="start">2</text>
<text x="173.3" y="101.6" font-size="6.6" fill="#8fd14f" stroke="#8fd14f" stroke-width="0.25" font-weight="bold" text-anchor="start">1</text>
<text x="180" y="101.6" font-size="6.6" fill="#e8262a" stroke="#e8262a" stroke-width="0.25" font-weight="bold" text-anchor="start">0.5</text>
<text x="192" y="101.6" font-size="6.6" fill="#161616" stroke="#161616" stroke-width="0.25" font-weight="bold" text-anchor="start">0.1</text>
<text x="229" y="10.8" font-size="11.2" fill="#1e1e1e" stroke="#1e1e1e" stroke-width="0.25" font-weight="bold" text-anchor="start">(b)</text>
<line x1="254.6" y1="116.3" x2="254.9" y2="22.8" stroke="#f76a6e" stroke-width="0.9"/>
<path d="M254.8 23.6 L279.55 24.6" fill="none" stroke="#f76a6e" stroke-width="2.4800000000000004" stroke-linejoin="round" stroke-linecap="round" stroke-linecap="butt"/>
<path d="M254.8 22.58 L256.26 22.79 L257.71 22.76 L259.17 22.94 L260.62 23.01 L262.08 22.79 L263.54 22.82 L264.99 23.29 L266.45 23.06 L267.9 23.11 L269.36 23.55 L270.81 23.34 L272.27 23.58 L273.73 23.46 L275.18 23.6 L276.64 23.42 L278.09 23.72 L279.55 23.71" fill="none" stroke="#f76a6e" stroke-width="0.9" stroke-linejoin="round" stroke-linecap="round"/>
<path d="M254.8 24.67 L256.26 24.56 L257.71 24.73 L259.17 24.75 L260.62 24.51 L262.08 24.91 L263.54 24.89 L264.99 24.8 L266.45 24.73 L267.9 25.2 L269.36 25.06 L270.81 25.25 L272.27 25.39 L273.73 25.36 L275.18 25.52 L276.64 25.32 L278.09 25.58 L279.55 25.49" fill="none" stroke="#f76a6e" stroke-width="0.9" stroke-linejoin="round" stroke-linecap="round"/>
<line x1="279.55" y1="24.6" x2="282.3" y2="33" stroke="#f76a6e" stroke-width="0.9"/>
<path d="M282.3 33 L307.05 34.4" fill="none" stroke="#f76a6e" stroke-width="2.4800000000000004" stroke-linejoin="round" stroke-linecap="round" stroke-linecap="butt"/>
<path d="M282.3 32.08 L283.76 32.41 L285.21 32.46 L286.67 32.16 L288.12 32.26 L289.58 32.38 L291.04 32.84 L292.49 32.65 L293.95 32.83 L295.4 32.75 L296.86 32.94 L298.31 32.96 L299.77 33.02 L301.23 33.22 L302.68 33.31 L304.14 33.55 L305.59 33.52 L307.05 33.51" fill="none" stroke="#f76a6e" stroke-width="0.9" stroke-linejoin="round" stroke-linecap="round"/>
<path d="M282.3 34.1 L283.76 34.15 L285.21 34.3 L286.67 34.22 L288.12 34.05 L289.58 34.48 L291.04 34.62 L292.49 34.67 L293.95 34.58 L295.4 34.74 L296.86 34.57 L298.31 34.96 L299.77 34.92 L301.23 34.85 L302.68 34.82 L304.14 35.3 L305.59 35.45 L307.05 35.29" fill="none" stroke="#f76a6e" stroke-width="0.9" stroke-linejoin="round" stroke-linecap="round"/>
<line x1="307.05" y1="34.4" x2="309.8" y2="36.2" stroke="#f76a6e" stroke-width="0.9"/>
<path d="M309.8 36.2 L334.55 36.9" fill="none" stroke="#f76a6e" stroke-width="2.4800000000000004" stroke-linejoin="round" stroke-linecap="round" stroke-linecap="butt"/>
<path d="M309.8 35.1 L311.26 35.5 L312.71 35.35 L314.17 35.26 L315.62 35.37 L317.08 35.65 L318.54 35.74 L319.99 35.37 L321.45 35.7 L322.9 35.45 L324.36 35.83 L325.81 35.68 L327.27 35.99 L328.73 36.09 L330.18 35.89 L331.64 36.18 L333.09 35.87 L334.55 36.01" fill="none" stroke="#f76a6e" stroke-width="0.9" stroke-linejoin="round" stroke-linecap="round"/>
<path d="M309.8 36.88 L311.26 37.18 L312.71 36.94 L314.17 37.06 L315.62 37.21 L317.08 37.35 L318.54 37.17 L319.99 37.15 L321.45 37.6 L322.9 37.37 L324.36 37.73 L325.81 37.74 L327.27 37.52 L328.73 37.61 L330.18 37.68 L331.64 37.78 L333.09 37.8 L334.55 37.79" fill="none" stroke="#f76a6e" stroke-width="0.9" stroke-linejoin="round" stroke-linecap="round"/>
<line x1="334.55" y1="36.9" x2="337.3" y2="45.4" stroke="#f76a6e" stroke-width="0.9"/>
<path d="M337.3 45.4 L362.05 46" fill="none" stroke="#f76a6e" stroke-width="2.4800000000000004" stroke-linejoin="round" stroke-linecap="round" stroke-linecap="butt"/>
<path d="M337.3 44.54 L338.76 44.61 L340.21 44.8 L341.67 44.62 L343.12 44.62 L344.58 44.8 L346.04 44.59 L347.49 44.66 L348.95 45.03 L350.4 44.84 L351.86 44.89 L353.31 44.65 L354.77 44.89 L356.23 45.01 L357.68 44.76 L359.14 45.1 L360.59 45.14 L362.05 45.11" fill="none" stroke="#f76a6e" stroke-width="0.9" stroke-linejoin="round" stroke-linecap="round"/>
<path d="M337.3 46.07 L338.76 46.39 L340.21 46.34 L341.67 46.49 L343.12 46.36 L344.58 46.57 L346.04 46.62 L347.49 46.3 L348.95 46.35 L350.4 46.7 L351.86 46.87 L353.31 46.55 L354.77 46.69 L356.23 46.8 L357.68 46.69 L359.14 46.75 L360.59 46.76 L362.05 46.89" fill="none" stroke="#f76a6e" stroke-width="0.9" stroke-linejoin="round" stroke-linecap="round"/>
<line x1="362.05" y1="46" x2="364.8" y2="57.2" stroke="#f76a6e" stroke-width="0.9"/>
<path d="M364.8 57.2 L389.55 57.7" fill="none" stroke="#f76a6e" stroke-width="2.4800000000000004" stroke-linejoin="round" stroke-linecap="round" stroke-linecap="butt"/>
<path d="M364.8 56.24 L366.26 56.39 L367.71 56.27 L369.17 56.34 L370.62 56.56 L372.08 56.22 L373.54 56.52 L374.99 56.63 L376.45 56.45 L377.9 56.44 L379.36 56.76 L380.81 56.5 L382.27 56.51 L383.73 56.66 L385.18 56.82 L386.64 56.55 L388.09 56.69 L389.55 56.81" fill="none" stroke="#f76a6e" stroke-width="0.9" stroke-linejoin="round" stroke-linecap="round"/>
<path d="M364.8 58.01 L366.26 58.29 L367.71 58.12 L369.17 58.36 L370.62 58.04 L372.08 58.16 L373.54 58.34 L374.99 58.49 L376.45 58.3 L377.9 58.22 L379.36 58.19 L380.81 58.43 L382.27 58.29 L383.73 58.63 L385.18 58.67 L386.64 58.37 L388.09 58.45 L389.55 58.59" fill="none" stroke="#f76a6e" stroke-width="0.9" stroke-linejoin="round" stroke-linecap="round"/>
<line x1="389.55" y1="57.7" x2="393.68" y2="25.4" stroke="#f76a6e" stroke-width="0.9"/>
<path d="M393.68 25.4 L408.8 25.8" fill="none" stroke="#f76a6e" stroke-width="2.4800000000000004" stroke-linejoin="round" stroke-linecap="round" stroke-linecap="butt"/>
<path d="M393.68 24.66 L395.19 24.62 L396.7 24.74 L398.21 24.55 L399.73 24.48 L401.24 24.61 L402.75 24.9 L404.26 24.68 L405.78 24.75 L407.29 24.83 L408.8 24.91" fill="none" stroke="#f76a6e" stroke-width="0.9" stroke-linejoin="round" stroke-linecap="round"/>
<path d="M393.68 26.25 L395.19 26.28 L396.7 26.58 L398.21 26.24 L399.73 26.2 L401.24 26.71 L402.75 26.72 L404.26 26.81 L405.78 26.58 L407.29 26.88 L408.8 26.69" fill="none" stroke="#f76a6e" stroke-width="0.9" stroke-linejoin="round" stroke-linecap="round"/>
<path d="M254.8 18.6 L257.55 16.6 L260.3 14.8 L263.05 13.6 L265.8 12.8 L268.55 12.8 L271.3 12.8 L274.05 12.8 L276.8 12.8" fill="none" stroke="#1e1e1e" stroke-width="2.0" stroke-linejoin="round" stroke-linecap="round"/>
<path d="M282.3 11.2 L285.05 11.2 L287.8 11.2 L290.55 11.2 L293.3 11.2 L296.05 11.2 L298.8 11.2 L301.55 11.2 L304.3 11.2" fill="none" stroke="#1e1e1e" stroke-width="2.0" stroke-linejoin="round" stroke-linecap="round"/>
<path d="M309.8 11 L312.55 11 L315.3 11 L318.05 11 L320.8 11 L323.55 11 L326.3 11 L329.05 11 L331.8 11" fill="none" stroke="#1e1e1e" stroke-width="2.0" stroke-linejoin="round" stroke-linecap="round"/>
<path d="M337.3 10.7 L340.05 10.7 L342.8 10.7 L345.55 10.7 L348.3 10.7 L351.05 10.7 L353.8 10.7 L356.55 10.7 L359.3 10.7" fill="none" stroke="#1e1e1e" stroke-width="2.0" stroke-linejoin="round" stroke-linecap="round"/>
<path d="M364.8 10.5 L367.55 10.5 L370.3 10.5 L373.05 10.5 L375.8 10.5 L378.55 10.5 L381.3 10.5 L384.05 10.5 L386.8 10.5" fill="none" stroke="#1e1e1e" stroke-width="2.0" stroke-linejoin="round" stroke-linecap="round"/>
<path d="M392.3 10.5 L395.05 10.5 L397.8 10.5 L400.55 10.5 L403.3 10.5 L406.05 10.5 L408.8 10.5" fill="none" stroke="#1e1e1e" stroke-width="2.0" stroke-linejoin="round" stroke-linecap="round"/>
<path d="M276.8 12.8 L279.55 16 L282.3 11.2" fill="none" stroke="#1e1e1e" stroke-width="0.7" stroke-linejoin="round" stroke-linecap="round"/>
<path d="M304.3 11.2 L307.05 15.6 L309.8 11" fill="none" stroke="#1e1e1e" stroke-width="0.7" stroke-linejoin="round" stroke-linecap="round"/>
<path d="M331.8 11 L334.55 15.9 L337.3 10.7" fill="none" stroke="#1e1e1e" stroke-width="0.7" stroke-linejoin="round" stroke-linecap="round"/>
<path d="M359.3 10.7 L362.05 16.3 L364.8 10.5" fill="none" stroke="#1e1e1e" stroke-width="0.7" stroke-linejoin="round" stroke-linecap="round"/>
<path d="M386.8 10.5 L389.55 33 L392 6.1 L392.3 10.5" fill="none" stroke="#1e1e1e" stroke-width="0.7" stroke-linejoin="round" stroke-linecap="round"/>
<rect x="253.4" y="17.2" width="2.8" height="2.8" fill="#1e1e1e"/>
<rect x="256.15" y="15.2" width="2.8" height="2.8" fill="#1e1e1e"/>
<rect x="258.9" y="13.4" width="2.8" height="2.8" fill="#1e1e1e"/>
<rect x="261.65" y="12.2" width="2.8" height="2.8" fill="#1e1e1e"/>
<rect x="264.4" y="11.4" width="2.8" height="2.8" fill="#1e1e1e"/>
<rect x="267.15" y="11.4" width="2.8" height="2.8" fill="#1e1e1e"/>
<rect x="269.9" y="11.4" width="2.8" height="2.8" fill="#1e1e1e"/>
<rect x="272.65" y="11.4" width="2.8" height="2.8" fill="#1e1e1e"/>
<rect x="275.4" y="11.4" width="2.8" height="2.8" fill="#1e1e1e"/>
<rect x="278.15" y="14.6" width="2.8" height="2.8" fill="#1e1e1e"/>
<rect x="280.9" y="9.8" width="2.8" height="2.8" fill="#1e1e1e"/>
<rect x="283.65" y="9.8" width="2.8" height="2.8" fill="#1e1e1e"/>
<rect x="286.4" y="9.8" width="2.8" height="2.8" fill="#1e1e1e"/>
<rect x="289.15" y="9.8" width="2.8" height="2.8" fill="#1e1e1e"/>
<rect x="291.9" y="9.8" width="2.8" height="2.8" fill="#1e1e1e"/>
<rect x="294.65" y="9.8" width="2.8" height="2.8" fill="#1e1e1e"/>
<rect x="297.4" y="9.8" width="2.8" height="2.8" fill="#1e1e1e"/>
<rect x="300.15" y="9.8" width="2.8" height="2.8" fill="#1e1e1e"/>
<rect x="302.9" y="9.8" width="2.8" height="2.8" fill="#1e1e1e"/>
<rect x="305.65" y="14.2" width="2.8" height="2.8" fill="#1e1e1e"/>
<rect x="308.4" y="9.6" width="2.8" height="2.8" fill="#1e1e1e"/>
<rect x="311.15" y="9.6" width="2.8" height="2.8" fill="#1e1e1e"/>
<rect x="313.9" y="9.6" width="2.8" height="2.8" fill="#1e1e1e"/>
<rect x="316.65" y="9.6" width="2.8" height="2.8" fill="#1e1e1e"/>
<rect x="319.4" y="9.6" width="2.8" height="2.8" fill="#1e1e1e"/>
<rect x="322.15" y="9.6" width="2.8" height="2.8" fill="#1e1e1e"/>
<rect x="324.9" y="9.6" width="2.8" height="2.8" fill="#1e1e1e"/>
<rect x="327.65" y="9.6" width="2.8" height="2.8" fill="#1e1e1e"/>
<rect x="330.4" y="9.6" width="2.8" height="2.8" fill="#1e1e1e"/>
<rect x="333.15" y="14.5" width="2.8" height="2.8" fill="#1e1e1e"/>
<rect x="335.9" y="9.3" width="2.8" height="2.8" fill="#1e1e1e"/>
<rect x="338.65" y="9.3" width="2.8" height="2.8" fill="#1e1e1e"/>
<rect x="341.4" y="9.3" width="2.8" height="2.8" fill="#1e1e1e"/>
<rect x="344.15" y="9.3" width="2.8" height="2.8" fill="#1e1e1e"/>
<rect x="346.9" y="9.3" width="2.8" height="2.8" fill="#1e1e1e"/>
<rect x="349.65" y="9.3" width="2.8" height="2.8" fill="#1e1e1e"/>
<rect x="352.4" y="9.3" width="2.8" height="2.8" fill="#1e1e1e"/>
<rect x="355.15" y="9.3" width="2.8" height="2.8" fill="#1e1e1e"/>
<rect x="357.9" y="9.3" width="2.8" height="2.8" fill="#1e1e1e"/>
<rect x="360.65" y="14.9" width="2.8" height="2.8" fill="#1e1e1e"/>
<rect x="363.4" y="9.1" width="2.8" height="2.8" fill="#1e1e1e"/>
<rect x="366.15" y="9.1" width="2.8" height="2.8" fill="#1e1e1e"/>
<rect x="368.9" y="9.1" width="2.8" height="2.8" fill="#1e1e1e"/>
<rect x="371.65" y="9.1" width="2.8" height="2.8" fill="#1e1e1e"/>
<rect x="374.4" y="9.1" width="2.8" height="2.8" fill="#1e1e1e"/>
<rect x="377.15" y="9.1" width="2.8" height="2.8" fill="#1e1e1e"/>
<rect x="379.9" y="9.1" width="2.8" height="2.8" fill="#1e1e1e"/>
<rect x="382.65" y="9.1" width="2.8" height="2.8" fill="#1e1e1e"/>
<rect x="385.4" y="9.1" width="2.8" height="2.8" fill="#1e1e1e"/>
<rect x="388.15" y="31.6" width="2.8" height="2.8" fill="#1e1e1e"/>
<rect x="390.9" y="9.1" width="2.8" height="2.8" fill="#1e1e1e"/>
<rect x="393.65" y="9.1" width="2.8" height="2.8" fill="#1e1e1e"/>
<rect x="396.4" y="9.1" width="2.8" height="2.8" fill="#1e1e1e"/>
<rect x="399.15" y="9.1" width="2.8" height="2.8" fill="#1e1e1e"/>
<rect x="401.9" y="9.1" width="2.8" height="2.8" fill="#1e1e1e"/>
<rect x="404.65" y="9.1" width="2.8" height="2.8" fill="#1e1e1e"/>
<rect x="407.4" y="9.1" width="2.8" height="2.8" fill="#1e1e1e"/>
<rect x="252.7" y="5.6" width="157.7" height="110.7" fill="none" stroke="#1e1e1e" stroke-width="1.1"/>
<line x1="252.7" y1="5.1" x2="252.7" y2="116.8" stroke="#f76a6e" stroke-width="1.1"/>
<line x1="277.9" y1="116.3" x2="277.9" y2="113.3" stroke="#1e1e1e" stroke-width="1"/>
<line x1="305.9" y1="116.3" x2="305.9" y2="113.3" stroke="#1e1e1e" stroke-width="1"/>
<line x1="333.9" y1="116.3" x2="333.9" y2="113.3" stroke="#1e1e1e" stroke-width="1"/>
<line x1="361.9" y1="116.3" x2="361.9" y2="113.3" stroke="#1e1e1e" stroke-width="1"/>
<line x1="389.9" y1="116.3" x2="389.9" y2="113.3" stroke="#1e1e1e" stroke-width="1"/>
<line x1="263.9" y1="116.3" x2="263.9" y2="114.7" stroke="#1e1e1e" stroke-width="1"/>
<line x1="291.9" y1="116.3" x2="291.9" y2="114.7" stroke="#1e1e1e" stroke-width="1"/>
<line x1="319.9" y1="116.3" x2="319.9" y2="114.7" stroke="#1e1e1e" stroke-width="1"/>
<line x1="347.9" y1="116.3" x2="347.9" y2="114.7" stroke="#1e1e1e" stroke-width="1"/>
<line x1="375.9" y1="116.3" x2="375.9" y2="114.7" stroke="#1e1e1e" stroke-width="1"/>
<line x1="403.9" y1="116.3" x2="403.9" y2="114.7" stroke="#1e1e1e" stroke-width="1"/>
<text x="276.9" y="127.7" font-size="9.5" fill="#1e1e1e" stroke="#1e1e1e" stroke-width="0.25" font-weight="normal" text-anchor="middle">10</text>
<text x="304.9" y="127.7" font-size="9.5" fill="#1e1e1e" stroke="#1e1e1e" stroke-width="0.25" font-weight="normal" text-anchor="middle">20</text>
<text x="332.9" y="127.7" font-size="9.5" fill="#1e1e1e" stroke="#1e1e1e" stroke-width="0.25" font-weight="normal" text-anchor="middle">30</text>
<text x="360.9" y="127.7" font-size="9.5" fill="#1e1e1e" stroke="#1e1e1e" stroke-width="0.25" font-weight="normal" text-anchor="middle">40</text>
<text x="388.9" y="127.7" font-size="9.5" fill="#1e1e1e" stroke="#1e1e1e" stroke-width="0.25" font-weight="normal" text-anchor="middle">50</text>
<line x1="252.7" y1="116.3" x2="255.7" y2="116.3" stroke="#f76a6e" stroke-width="1"/>
<text x="249.9" y="119.9" font-size="9.1" fill="#f76a6e" stroke="#f76a6e" stroke-width="0.25" font-weight="normal" text-anchor="end">0</text>
<line x1="252.7" y1="92.6" x2="255.7" y2="92.6" stroke="#f76a6e" stroke-width="1"/>
<text x="249.9" y="96.2" font-size="9.1" fill="#f76a6e" stroke="#f76a6e" stroke-width="0.25" font-weight="normal" text-anchor="end">50</text>
<line x1="252.7" y1="68.89" x2="255.7" y2="68.89" stroke="#f76a6e" stroke-width="1"/>
<text x="249.9" y="72.49" font-size="9.1" fill="#f76a6e" stroke="#f76a6e" stroke-width="0.25" font-weight="normal" text-anchor="end">100</text>
<line x1="252.7" y1="45.19" x2="255.7" y2="45.19" stroke="#f76a6e" stroke-width="1"/>
<text x="249.9" y="48.79" font-size="9.1" fill="#f76a6e" stroke="#f76a6e" stroke-width="0.25" font-weight="normal" text-anchor="end">150</text>
<line x1="252.7" y1="21.48" x2="255.7" y2="21.48" stroke="#f76a6e" stroke-width="1"/>
<text x="249.9" y="25.08" font-size="9.1" fill="#f76a6e" stroke="#f76a6e" stroke-width="0.25" font-weight="normal" text-anchor="end">200</text>
<line x1="252.7" y1="104.45" x2="254.3" y2="104.45" stroke="#f76a6e" stroke-width="1"/>
<line x1="252.7" y1="80.74" x2="254.3" y2="80.74" stroke="#f76a6e" stroke-width="1"/>
<line x1="252.7" y1="57.04" x2="254.3" y2="57.04" stroke="#f76a6e" stroke-width="1"/>
<line x1="252.7" y1="33.33" x2="254.3" y2="33.33" stroke="#f76a6e" stroke-width="1"/>
<line x1="252.7" y1="9.63" x2="254.3" y2="9.63" stroke="#f76a6e" stroke-width="1"/>
<line x1="410.4" y1="116.3" x2="407.4" y2="116.3" stroke="#1e1e1e" stroke-width="1"/>
<text x="413" y="119.2" font-size="9.1" fill="#1e1e1e" stroke="#1e1e1e" stroke-width="0.25" font-weight="normal" text-anchor="start">0</text>
<line x1="410.4" y1="95.37" x2="407.4" y2="95.37" stroke="#1e1e1e" stroke-width="1"/>
<text x="413" y="98.27" font-size="9.1" fill="#1e1e1e" stroke="#1e1e1e" stroke-width="0.25" font-weight="normal" text-anchor="start">20</text>
<line x1="410.4" y1="74.45" x2="407.4" y2="74.45" stroke="#1e1e1e" stroke-width="1"/>
<text x="413" y="77.35" font-size="9.1" fill="#1e1e1e" stroke="#1e1e1e" stroke-width="0.25" font-weight="normal" text-anchor="start">40</text>
<line x1="410.4" y1="53.52" x2="407.4" y2="53.52" stroke="#1e1e1e" stroke-width="1"/>
<text x="413" y="56.42" font-size="9.1" fill="#1e1e1e" stroke="#1e1e1e" stroke-width="0.25" font-weight="normal" text-anchor="start">60</text>
<line x1="410.4" y1="32.59" x2="407.4" y2="32.59" stroke="#1e1e1e" stroke-width="1"/>
<text x="413" y="35.49" font-size="9.1" fill="#1e1e1e" stroke="#1e1e1e" stroke-width="0.25" font-weight="normal" text-anchor="start">80</text>
<line x1="410.4" y1="11.67" x2="407.4" y2="11.67" stroke="#1e1e1e" stroke-width="1"/>
<text x="413" y="14.57" font-size="9.1" fill="#1e1e1e" stroke="#1e1e1e" stroke-width="0.25" font-weight="normal" text-anchor="start">100</text>
<line x1="410.4" y1="105.84" x2="408.8" y2="105.84" stroke="#1e1e1e" stroke-width="1"/>
<line x1="410.4" y1="84.91" x2="408.8" y2="84.91" stroke="#1e1e1e" stroke-width="1"/>
<line x1="410.4" y1="63.98" x2="408.8" y2="63.98" stroke="#1e1e1e" stroke-width="1"/>
<line x1="410.4" y1="43.06" x2="408.8" y2="43.06" stroke="#1e1e1e" stroke-width="1"/>
<line x1="410.4" y1="22.13" x2="408.8" y2="22.13" stroke="#1e1e1e" stroke-width="1"/>
<text x="226.2" y="60.6" font-size="9.8" fill="#f4797b" stroke="#f4797b" stroke-width="0.25" font-weight="normal" text-anchor="middle" transform="rotate(-90 226.2 60.6)"><tspan>Capacity (mAh g</tspan><tspan font-size="5.88" dy="-2.94" dx="-0.3">-1</tspan><tspan dy="2.94">&#8203;</tspan><tspan>)</tspan></text>
<text x="436.9" y="55.3" font-size="9.4" fill="#1e1e1e" stroke="#1e1e1e" stroke-width="0.25" font-weight="normal" text-anchor="middle" transform="rotate(-90 436.9 55.3)"><tspan>Coulombic Efficiency (%)</tspan></text>
<text x="328.3" y="138.7" font-size="9.9" fill="#1e1e1e" stroke="#1e1e1e" stroke-width="0.25" font-weight="normal" text-anchor="middle"><tspan>Cycle number</tspan></text>
<text x="255" y="110.8" font-size="9.6" fill="#1e1e1e" stroke="#1e1e1e" stroke-width="0.25" font-weight="bold" text-anchor="start"><tspan>Current unit: A g</tspan><tspan font-size="5.76" dy="-2.88" dx="-0.3">-1</tspan><tspan dy="2.88">&#8203;</tspan></text>
<text x="261" y="36.4" font-size="9.3" fill="#1e1e1e" stroke="#1e1e1e" stroke-width="0.25" font-weight="bold" text-anchor="start">0.1</text>
<text x="290.7" y="45.7" font-size="9.3" fill="#1e1e1e" stroke="#1e1e1e" stroke-width="0.25" font-weight="bold" text-anchor="start">0.5</text>
<text x="322.6" y="49.5" font-size="9.3" fill="#1e1e1e" stroke="#1e1e1e" stroke-width="0.25" font-weight="bold" text-anchor="start">1</text>
<text x="346.4" y="60.6" font-size="9.3" fill="#1e1e1e" stroke="#1e1e1e" stroke-width="0.25" font-weight="bold" text-anchor="start">2</text>
<text x="374.8" y="70.3" font-size="9.3" fill="#1e1e1e" stroke="#1e1e1e" stroke-width="0.25" font-weight="bold" text-anchor="start">5</text>
<text x="447.4" y="9.9" font-size="11.2" fill="#1e1e1e" stroke="#1e1e1e" stroke-width="0.25" font-weight="bold" text-anchor="start">(c)</text>
<path d="M481.94 18.3 L637.4 18.8" fill="none" stroke="#f76a6e" stroke-width="4.4799999999999995" stroke-linejoin="round" stroke-linecap="round" stroke-linecap="butt"/>
<path d="M481.94 16.84 L483.45 16.14 L484.96 16.67 L486.47 16.76 L487.98 16.59 L489.49 16.45 L490.99 16.23 L492.5 16.29 L494.01 16.18 L495.52 16.02 L497.03 16.55 L498.54 16.25 L500.05 16.78 L501.56 16.02 L503.07 16.88 L504.58 16.68 L506.09 16.91 L507.6 16.89 L509.11 16.9 L510.62 16.58 L512.13 16.02 L513.63 16.76 L515.14 16.19 L516.65 16.32 L518.16 16.69 L519.67 16.56 L521.18 16.45 L522.69 16.98 L524.2 16.66 L525.71 16.39 L527.22 16.31 L528.73 16.92 L530.24 16.54 L531.75 16.85 L533.26 16.43 L534.77 16.28 L536.27 16.62 L537.78 16.91 L539.29 16.27 L540.8 16.89 L542.31 17.03 L543.82 16.92 L545.33 16.94 L546.84 16.13 L548.35 16.75 L549.86 16.99 L551.37 16.18 L552.88 16.41 L554.39 16.41 L555.9 16.68 L557.41 16.58 L558.91 16.63 L560.42 16.94 L561.93 16.17 L563.44 16.23 L564.95 16.3 L566.46 16.31 L567.97 16.26 L569.48 17.17 L570.99 17.05 L572.5 16.29 L574.01 16.71 L575.52 16.53 L577.03 16.53 L578.54 16.57 L580.05 16.87 L581.55 16.82 L583.06 16.6 L584.57 16.43 L586.08 16.57 L587.59 16.37 L589.1 16.81 L590.61 16.98 L592.12 16.64 L593.63 16.35 L595.14 16.45 L596.65 16.65 L598.16 16.89 L599.67 17.07 L601.18 16.67 L602.69 17.1 L604.19 16.93 L605.7 16.74 L607.21 16.69 L608.72 16.81 L610.23 17.03 L611.74 16.75 L613.25 17.03 L614.76 16.8 L616.27 16.59 L617.78 16.88 L619.29 17.05 L620.8 16.43 L622.31 16.79 L623.82 16.79 L625.33 17.25 L626.83 17.31 L628.34 16.76 L629.85 17.28 L631.36 17.18 L632.87 16.66 L634.38 16.86 L635.89 16.53 L637.4 16.91" fill="none" stroke="#f76a6e" stroke-width="0.9" stroke-linejoin="round" stroke-linecap="round"/>
<path d="M481.94 20.5 L483.45 20.36 L484.96 20.59 L486.47 20.5 L487.98 20.38 L489.49 20.45 L490.99 20.28 L492.5 19.83 L494.01 20.32 L495.52 19.74 L497.03 19.88 L498.54 20.52 L500.05 19.79 L501.56 19.84 L503.07 19.86 L504.58 20.64 L506.09 19.95 L507.6 19.8 L509.11 20.62 L510.62 19.9 L512.13 20.63 L513.63 20.47 L515.14 20.63 L516.65 20.75 L518.16 20.39 L519.67 20.61 L521.18 19.85 L522.69 20.59 L524.2 20.34 L525.71 20.55 L527.22 19.94 L528.73 20.59 L530.24 20.78 L531.75 19.91 L533.26 20.18 L534.77 20.42 L536.27 20.69 L537.78 20.11 L539.29 20.05 L540.8 20.13 L542.31 20.5 L543.82 20.64 L545.33 20.29 L546.84 20.27 L548.35 20.3 L549.86 20.26 L551.37 20.33 L552.88 20 L554.39 20.42 L555.9 20.9 L557.41 20.35 L558.91 20.68 L560.42 20.1 L561.93 20.64 L563.44 20.71 L564.95 20.63 L566.46 20.48 L567.97 20.45 L569.48 20.61 L570.99 20.87 L572.5 20.13 L574.01 20.08 L575.52 20.74 L577.03 20.91 L578.54 20.52 L580.05 20.45 L581.55 20.73 L583.06 20.2 L584.57 20.29 L586.08 20.22 L587.59 20.62 L589.1 20.35 L590.61 20.27 L592.12 20.74 L593.63 21 L595.14 20.35 L596.65 20.76 L598.16 20.48 L599.67 20.92 L601.18 20.66 L602.69 20.35 L604.19 20.3 L605.7 20.11 L607.21 20.57 L608.72 20.48 L610.23 20.27 L611.74 20.47 L613.25 20.43 L614.76 20.89 L616.27 20.27 L617.78 21.12 L619.29 20.61 L620.8 20.74 L622.31 20.61 L623.82 20.98 L625.33 20.97 L626.83 20.71 L628.34 20.64 L629.85 20.89 L631.36 21.03 L632.87 20.58 L634.38 20.91 L635.89 21.15 L637.4 20.69" fill="none" stroke="#f76a6e" stroke-width="0.9" stroke-linejoin="round" stroke-linecap="round"/>
<path d="M481.16 15 L481.94 18.3" fill="none" stroke="#f76a6e" stroke-width="2.4000000000000004" stroke-linejoin="round" stroke-linecap="round" stroke-linecap="butt"/>
<path d="M481.16 14.14 L481.94 17.45" fill="none" stroke="#f76a6e" stroke-width="0.9" stroke-linejoin="round" stroke-linecap="round"/>
<path d="M481.16 15.8 L481.94 19.15" fill="none" stroke="#f76a6e" stroke-width="0.9" stroke-linejoin="round" stroke-linecap="round"/>
<path d="M481.31 26.6 L513.53 28.2" fill="none" stroke="#43a566" stroke-width="4.0" stroke-linejoin="round" stroke-linecap="round" stroke-linecap="butt"/>
<path d="M481.31 24.74 L482.85 25.2 L484.38 25.24 L485.92 25.55 L487.45 25.54 L488.98 25.12 L490.52 25.16 L492.05 25.29 L493.59 25.31 L495.12 25.8 L496.65 26 L498.19 26.11 L499.72 25.67 L501.26 26.23 L502.79 25.87 L504.33 26.03 L505.86 26.35 L507.39 25.91 L508.93 26 L510.46 26.66 L512 26.31 L513.53 26.55" fill="none" stroke="#43a566" stroke-width="0.9" stroke-linejoin="round" stroke-linecap="round"/>
<path d="M481.31 28.14 L482.85 28.39 L484.38 28.54 L485.92 28.08 L487.45 28.42 L488.98 28.58 L490.52 28.7 L492.05 28.55 L493.59 28.93 L495.12 29.3 L496.65 28.92 L498.19 29.12 L499.72 28.86 L501.26 29.06 L502.79 29.45 L504.33 29.08 L505.86 29.78 L507.39 29.87 L508.93 29.3 L510.46 30.05 L512 29.67 L513.53 29.85" fill="none" stroke="#43a566" stroke-width="0.9" stroke-linejoin="round" stroke-linecap="round"/>
<line x1="513.06" y1="28" x2="513.06" y2="117.3" stroke="#43a566" stroke-width="0.9"/>
<line x1="481.38" y1="48" x2="481.38" y2="117" stroke="#f76a6e" stroke-width="0.7" stroke-opacity="0.6"/>
<rect x="481" y="7.4" width="156.4" height="109.9" fill="none" stroke="#1e1e1e" stroke-width="1.1"/>
<line x1="512.28" y1="117.3" x2="512.28" y2="114.3" stroke="#1e1e1e" stroke-width="1"/>
<line x1="543.56" y1="117.3" x2="543.56" y2="114.3" stroke="#1e1e1e" stroke-width="1"/>
<line x1="574.84" y1="117.3" x2="574.84" y2="114.3" stroke="#1e1e1e" stroke-width="1"/>
<line x1="606.12" y1="117.3" x2="606.12" y2="114.3" stroke="#1e1e1e" stroke-width="1"/>
<line x1="637.4" y1="117.3" x2="637.4" y2="114.3" stroke="#1e1e1e" stroke-width="1"/>
<line x1="496.64" y1="117.3" x2="496.64" y2="115.7" stroke="#1e1e1e" stroke-width="1"/>
<line x1="527.92" y1="117.3" x2="527.92" y2="115.7" stroke="#1e1e1e" stroke-width="1"/>
<line x1="559.2" y1="117.3" x2="559.2" y2="115.7" stroke="#1e1e1e" stroke-width="1"/>
<line x1="590.48" y1="117.3" x2="590.48" y2="115.7" stroke="#1e1e1e" stroke-width="1"/>
<line x1="621.76" y1="117.3" x2="621.76" y2="115.7" stroke="#1e1e1e" stroke-width="1"/>
<text x="511.48" y="128.3" font-size="9.5" fill="#1e1e1e" stroke="#1e1e1e" stroke-width="0.25" font-weight="normal" text-anchor="middle">100</text>
<text x="542.76" y="128.3" font-size="9.5" fill="#1e1e1e" stroke="#1e1e1e" stroke-width="0.25" font-weight="normal" text-anchor="middle">200</text>
<text x="574.04" y="128.3" font-size="9.5" fill="#1e1e1e" stroke="#1e1e1e" stroke-width="0.25" font-weight="normal" text-anchor="middle">300</text>
<text x="605.32" y="128.3" font-size="9.5" fill="#1e1e1e" stroke="#1e1e1e" stroke-width="0.25" font-weight="normal" text-anchor="middle">400</text>
<text x="636.6" y="128.3" font-size="9.5" fill="#1e1e1e" stroke="#1e1e1e" stroke-width="0.25" font-weight="normal" text-anchor="middle">500</text>
<line x1="481" y1="117.3" x2="484" y2="117.3" stroke="#1e1e1e" stroke-width="1"/>
<text x="478.2" y="121.3" font-size="9.5" fill="#1e1e1e" stroke="#1e1e1e" stroke-width="0.25" font-weight="normal" text-anchor="end">0</text>
<line x1="481" y1="92.09" x2="484" y2="92.09" stroke="#1e1e1e" stroke-width="1"/>
<text x="478.2" y="96.09" font-size="9.5" fill="#1e1e1e" stroke="#1e1e1e" stroke-width="0.25" font-weight="normal" text-anchor="end">50</text>
<line x1="481" y1="66.89" x2="484" y2="66.89" stroke="#1e1e1e" stroke-width="1"/>
<text x="478.2" y="70.89" font-size="9.5" fill="#1e1e1e" stroke="#1e1e1e" stroke-width="0.25" font-weight="normal" text-anchor="end">100</text>
<line x1="481" y1="41.68" x2="484" y2="41.68" stroke="#1e1e1e" stroke-width="1"/>
<text x="478.2" y="45.68" font-size="9.5" fill="#1e1e1e" stroke="#1e1e1e" stroke-width="0.25" font-weight="normal" text-anchor="end">150</text>
<line x1="481" y1="16.47" x2="484" y2="16.47" stroke="#1e1e1e" stroke-width="1"/>
<text x="478.2" y="20.47" font-size="9.5" fill="#1e1e1e" stroke="#1e1e1e" stroke-width="0.25" font-weight="normal" text-anchor="end">200</text>
<line x1="481" y1="104.7" x2="482.6" y2="104.7" stroke="#1e1e1e" stroke-width="1"/>
<line x1="481" y1="79.49" x2="482.6" y2="79.49" stroke="#1e1e1e" stroke-width="1"/>
<line x1="481" y1="54.28" x2="482.6" y2="54.28" stroke="#1e1e1e" stroke-width="1"/>
<line x1="481" y1="29.08" x2="482.6" y2="29.08" stroke="#1e1e1e" stroke-width="1"/>
<text x="482.5" y="127.6" font-size="8.4" fill="#1e1e1e" stroke="#1e1e1e" stroke-width="0.25" font-weight="normal" text-anchor="start"></text>
<text x="551" y="138.5" font-size="9.8" fill="#1e1e1e" stroke="#1e1e1e" stroke-width="0.25" font-weight="normal" text-anchor="middle"><tspan>Cycle number</tspan></text>
<text x="455.6" y="61.8" font-size="8.9" fill="#1e1e1e" stroke="#1e1e1e" stroke-width="0.25" font-weight="normal" text-anchor="middle" transform="rotate(-90 455.6 61.8)"><tspan>Capacity (mAh g</tspan><tspan font-size="5.34" dy="-2.67" dx="-0.3">-1</tspan><tspan dy="2.67">&#8203;</tspan><tspan>)</tspan></text>
<text x="600.2" y="34" font-size="8.3" fill="#f4797b" stroke="#f4797b" stroke-width="0.25" font-weight="bold" text-anchor="start">194.3</text>
<text x="599.4" y="44.4" font-size="8.3" fill="#f4797b" stroke="#f4797b" stroke-width="0.25" font-weight="bold" text-anchor="start"><tspan>mAh g</tspan><tspan font-size="4.98" dy="-2.49" dx="-0.3">-1</tspan><tspan dy="2.49">&#8203;</tspan></text>
<text x="517" y="40.5" font-size="8.2" fill="#4aab6b" stroke="#4aab6b" stroke-width="0.25" font-weight="bold" text-anchor="start">177.3</text>
<text x="517" y="51.7" font-size="8.2" fill="#4aab6b" stroke="#4aab6b" stroke-width="0.25" font-weight="bold" text-anchor="start"><tspan>mAh g</tspan><tspan font-size="4.92" dy="-2.46" dx="-0.3">-1</tspan><tspan dy="2.46">&#8203;</tspan></text>
<text x="545.5" y="61.3" font-size="9.7" fill="#4aab6b" stroke="#4aab6b" stroke-width="0.25" font-weight="bold" text-anchor="start">short circuit</text>
<line x1="541.6" y1="60.5" x2="515.5" y2="66.4" stroke="#43a566" stroke-width="0.9"/>
<path d="M517.98 63.84 L515 66.5 L518.84 67.59" fill="none" stroke="#43a566" stroke-width="0.9" stroke-linejoin="round" stroke-linecap="round"/>
<text x="485.6" y="110.7" font-size="8.4" fill="#1e1e1e" stroke="#1e1e1e" stroke-width="0.25" font-weight="bold" text-anchor="start"><tspan>0.2 A g</tspan><tspan font-size="5.04" dy="-2.52" dx="-0.3">-1</tspan><tspan dy="2.52">&#8203;</tspan></text>
<line x1="558.4" y1="93.5" x2="582.7" y2="93.5" stroke="#f76a6e" stroke-width="0.9"/>
<circle cx="570.6" cy="93.5" r="1.9" fill="#f76a6e"/>
<line x1="558.4" y1="106.7" x2="582.7" y2="106.7" stroke="#8fcf9f" stroke-width="0.9"/>
<rect x="569" y="105.1" width="3.2" height="3.2" fill="#43a566"/>
<text x="585.3" y="97.5" font-size="8.3" fill="#f4797b" stroke="#f4797b" stroke-width="0.25" font-weight="bold" text-anchor="start">Zeolite-Zn</text>
<text x="585.3" y="110.7" font-size="8.3" fill="#4aab6b" stroke="#4aab6b" stroke-width="0.25" font-weight="bold" text-anchor="start">Zn</text>
<text x="0.7" y="156.3" font-size="11.2" fill="#1e1e1e" stroke="#1e1e1e" stroke-width="0.25" font-weight="bold" text-anchor="start">(d)</text>
<path d="M46.86 166.6 L47.33 164.76 L47.95 162.93 L48.89 161.1 L49.83 159.99 L51.4 159.02 L53.59 158.51 L56.09 158.34 L60.79 158.29 L65.48 158.28 L74.87 158.28 L87.39 158.28 L109.3 158.28 L140.6 158.28 L171.9 158.28 L203.2 158.28" fill="none" stroke="#f76a6e" stroke-width="3.84" stroke-linejoin="round" stroke-linecap="round" stroke-linecap="butt"/>
<path d="M46.86 165.22 L47.33 163.37 L47.95 161.21 L48.89 159.65 L49.83 158.53 L51.4 157.67 L53.59 156.78 L56.09 156.95 L57.66 157.08 L59.22 156.86 L60.79 156.74 L62.35 156.44 L63.92 156.71 L65.48 156.61 L67.05 156.86 L68.61 156.84 L70.18 156.76 L71.74 156.49 L73.31 156.81 L74.87 156.8 L76.44 156.49 L78 156.98 L79.57 156.82 L81.13 156.45 L82.7 157.01 L84.26 156.46 L85.83 156.59 L87.39 156.87 L88.96 156.78 L90.52 156.75 L92.09 156.82 L93.65 156.68 L95.22 156.58 L96.78 156.49 L98.35 156.41 L99.91 156.86 L101.48 156.89 L103.04 156.74 L104.61 156.88 L106.17 156.61 L107.74 156.55 L109.3 156.63 L110.87 156.97 L112.43 156.39 L114 156.72 L115.56 156.53 L117.12 156.9 L118.69 156.61 L120.26 156.59 L121.82 156.64 L123.39 156.74 L124.95 156.9 L126.52 156.61 L128.08 156.95 L129.65 156.44 L131.21 156.55 L132.78 156.43 L134.34 156.44 L135.91 156.91 L137.47 156.87 L139.03 156.49 L140.6 156.49 L142.16 156.65 L143.73 156.88 L145.29 156.93 L146.86 156.89 L148.43 156.78 L149.99 156.46 L151.56 156.64 L153.12 156.5 L154.69 156.73 L156.25 156.76 L157.81 156.5 L159.38 156.54 L160.94 156.91 L162.51 156.38 L164.07 156.92 L165.64 156.99 L167.21 157.03 L168.77 156.63 L170.34 156.75 L171.9 156.77 L173.47 156.81 L175.03 157.05 L176.59 156.84 L178.16 156.57 L179.72 156.96 L181.29 156.7 L182.85 156.78 L184.42 156.87 L185.98 156.36 L187.55 156.9 L189.12 156.83 L190.68 156.71 L192.25 156.73 L193.81 156.68 L195.38 156.5 L196.94 156.73 L198.5 156.39 L200.07 156.71 L201.63 156.81 L203.2 156.71" fill="none" stroke="#f76a6e" stroke-width="0.9" stroke-linejoin="round" stroke-linecap="round"/>
<path d="M46.86 168.13 L47.33 166.38 L47.95 164.82 L48.89 162.94 L49.83 161.31 L51.4 160.8 L53.59 160.17 L56.09 159.6 L57.66 159.8 L59.22 159.69 L60.79 159.56 L62.35 159.88 L63.92 160.15 L65.48 159.73 L67.05 160.11 L68.61 159.99 L70.18 159.6 L71.74 160.1 L73.31 159.92 L74.87 160.15 L76.44 160 L78 160.02 L79.57 159.74 L81.13 160.07 L82.7 160.15 L84.26 160.1 L85.83 159.81 L87.39 160.03 L88.96 159.84 L90.52 159.58 L92.09 159.53 L93.65 159.56 L95.22 159.64 L96.78 159.61 L98.35 159.85 L99.91 159.99 L101.48 159.88 L103.04 159.8 L104.61 159.96 L106.17 159.72 L107.74 159.83 L109.3 160.03 L110.87 159.78 L112.43 159.63 L114 160.13 L115.56 160.01 L117.12 159.76 L118.69 159.76 L120.26 159.87 L121.82 159.92 L123.39 159.66 L124.95 159.5 L126.52 159.65 L128.08 160.05 L129.65 159.6 L131.21 159.82 L132.78 159.64 L134.34 159.65 L135.91 159.62 L137.47 159.78 L139.03 159.62 L140.6 159.52 L142.16 159.58 L143.73 159.62 L145.29 159.85 L146.86 159.54 L148.43 159.52 L149.99 159.82 L151.56 159.79 L153.12 159.99 L154.69 159.54 L156.25 159.78 L157.81 159.78 L159.38 159.52 L160.94 160.18 L162.51 159.66 L164.07 159.57 L165.64 159.83 L167.21 159.62 L168.77 159.94 L170.34 159.74 L171.9 159.59 L173.47 159.54 L175.03 160.01 L176.59 159.69 L178.16 160.05 L179.72 159.83 L181.29 160.15 L182.85 159.71 L184.42 159.68 L185.98 159.69 L187.55 160.07 L189.12 159.94 L190.68 159.74 L192.25 159.57 L193.81 159.98 L195.38 160.18 L196.94 159.92 L198.5 159.5 L200.07 159.52 L201.63 159.57 L203.2 159.85" fill="none" stroke="#f76a6e" stroke-width="0.9" stroke-linejoin="round" stroke-linecap="round"/>
<path d="M46.86 177.2 L47.33 175.84 L47.95 174.42 L48.89 172.93 L49.83 171.95 L51.4 171.02 L53.59 170.46 L56.09 170.24 L60.79 170.15 L65.48 170.14 L71.74 170.13 L79.25 170.13" fill="none" stroke="#43a566" stroke-width="3.3600000000000003" stroke-linejoin="round" stroke-linecap="round" stroke-linecap="butt"/>
<path d="M46.86 175.67 L47.33 174.23 L47.95 172.82 L48.89 171.69 L49.83 170.86 L51.4 169.52 L53.59 169.42 L56.09 168.89 L57.66 169.06 L59.22 169.1 L60.79 169.08 L62.35 168.53 L63.92 168.69 L65.48 168.87 L67.05 169.07 L68.61 168.56 L70.18 168.68 L71.74 169.01 L73.24 168.57 L74.74 168.74 L76.25 168.7 L77.75 168.91 L79.25 168.8" fill="none" stroke="#43a566" stroke-width="0.9" stroke-linejoin="round" stroke-linecap="round"/>
<path d="M46.86 178.79 L47.33 176.97 L47.95 175.89 L48.89 174.4 L49.83 173.48 L51.4 172.39 L53.59 172.05 L56.09 171.49 L57.66 171.49 L59.22 171.35 L60.79 171.64 L62.35 171.46 L63.92 171.33 L65.48 171.27 L67.05 171.6 L68.61 171.53 L70.18 171.59 L71.74 171.4 L73.24 171.46 L74.74 171.26 L76.25 171.59 L77.75 171.18 L79.25 171.46" fill="none" stroke="#43a566" stroke-width="0.9" stroke-linejoin="round" stroke-linecap="round"/>
<line x1="79.25" y1="170.45" x2="79.25" y2="260.9" stroke="#43a566" stroke-width="0.9"/>
<line x1="47.1" y1="167.33" x2="47.1" y2="260.9" stroke="#9c2a5a" stroke-width="1.0"/>
<rect x="46.7" y="150.9" width="156.5" height="110" fill="none" stroke="#3a3a3a" stroke-width="1.1"/>
<line x1="46.7" y1="260.9" x2="46.7" y2="257.9" stroke="#1e1e1e" stroke-width="1"/>
<text x="46.7" y="272.2" font-size="9.1" fill="#1e1e1e" stroke="#1e1e1e" stroke-width="0.25" font-weight="normal" text-anchor="middle">0</text>
<line x1="78" y1="260.9" x2="78" y2="257.9" stroke="#1e1e1e" stroke-width="1"/>
<text x="78" y="272.2" font-size="9.1" fill="#1e1e1e" stroke="#1e1e1e" stroke-width="0.25" font-weight="normal" text-anchor="middle">100</text>
<line x1="109.3" y1="260.9" x2="109.3" y2="257.9" stroke="#1e1e1e" stroke-width="1"/>
<text x="109.3" y="272.2" font-size="9.1" fill="#1e1e1e" stroke="#1e1e1e" stroke-width="0.25" font-weight="normal" text-anchor="middle">200</text>
<line x1="140.6" y1="260.9" x2="140.6" y2="257.9" stroke="#1e1e1e" stroke-width="1"/>
<text x="140.6" y="272.2" font-size="9.1" fill="#1e1e1e" stroke="#1e1e1e" stroke-width="0.25" font-weight="normal" text-anchor="middle">300</text>
<line x1="171.9" y1="260.9" x2="171.9" y2="257.9" stroke="#1e1e1e" stroke-width="1"/>
<text x="171.9" y="272.2" font-size="9.1" fill="#1e1e1e" stroke="#1e1e1e" stroke-width="0.25" font-weight="normal" text-anchor="middle">400</text>
<line x1="203.2" y1="260.9" x2="203.2" y2="257.9" stroke="#1e1e1e" stroke-width="1"/>
<text x="203.2" y="272.2" font-size="9.1" fill="#1e1e1e" stroke="#1e1e1e" stroke-width="0.25" font-weight="normal" text-anchor="middle">500</text>
<line x1="62.35" y1="260.9" x2="62.35" y2="259.3" stroke="#1e1e1e" stroke-width="1"/>
<line x1="93.65" y1="260.9" x2="93.65" y2="259.3" stroke="#1e1e1e" stroke-width="1"/>
<line x1="124.95" y1="260.9" x2="124.95" y2="259.3" stroke="#1e1e1e" stroke-width="1"/>
<line x1="156.25" y1="260.9" x2="156.25" y2="259.3" stroke="#1e1e1e" stroke-width="1"/>
<line x1="187.55" y1="260.9" x2="187.55" y2="259.3" stroke="#1e1e1e" stroke-width="1"/>
<line x1="46.7" y1="260.9" x2="49.7" y2="260.9" stroke="#1e1e1e" stroke-width="1"/>
<text x="43.9" y="263.8" font-size="9.1" fill="#1e1e1e" stroke="#1e1e1e" stroke-width="0.25" font-weight="normal" text-anchor="end">0</text>
<line x1="46.7" y1="240.11" x2="49.7" y2="240.11" stroke="#1e1e1e" stroke-width="1"/>
<text x="43.9" y="243.01" font-size="9.1" fill="#1e1e1e" stroke="#1e1e1e" stroke-width="0.25" font-weight="normal" text-anchor="end">20</text>
<line x1="46.7" y1="219.31" x2="49.7" y2="219.31" stroke="#1e1e1e" stroke-width="1"/>
<text x="43.9" y="222.21" font-size="9.1" fill="#1e1e1e" stroke="#1e1e1e" stroke-width="0.25" font-weight="normal" text-anchor="end">40</text>
<line x1="46.7" y1="198.52" x2="49.7" y2="198.52" stroke="#1e1e1e" stroke-width="1"/>
<text x="43.9" y="201.42" font-size="9.1" fill="#1e1e1e" stroke="#1e1e1e" stroke-width="0.25" font-weight="normal" text-anchor="end">60</text>
<line x1="46.7" y1="177.72" x2="49.7" y2="177.72" stroke="#1e1e1e" stroke-width="1"/>
<text x="43.9" y="180.62" font-size="9.1" fill="#1e1e1e" stroke="#1e1e1e" stroke-width="0.25" font-weight="normal" text-anchor="end">80</text>
<line x1="46.7" y1="156.93" x2="49.7" y2="156.93" stroke="#1e1e1e" stroke-width="1"/>
<text x="43.9" y="159.83" font-size="9.1" fill="#1e1e1e" stroke="#1e1e1e" stroke-width="0.25" font-weight="normal" text-anchor="end">100</text>
<line x1="46.7" y1="250.5" x2="48.3" y2="250.5" stroke="#1e1e1e" stroke-width="1"/>
<line x1="46.7" y1="229.71" x2="48.3" y2="229.71" stroke="#1e1e1e" stroke-width="1"/>
<line x1="46.7" y1="208.92" x2="48.3" y2="208.92" stroke="#1e1e1e" stroke-width="1"/>
<line x1="46.7" y1="188.12" x2="48.3" y2="188.12" stroke="#1e1e1e" stroke-width="1"/>
<line x1="46.7" y1="167.33" x2="48.3" y2="167.33" stroke="#1e1e1e" stroke-width="1"/>
<text x="125.7" y="283.2" font-size="9.8" fill="#1e1e1e" stroke="#1e1e1e" stroke-width="0.25" font-weight="normal" text-anchor="middle"><tspan>Cycle number</tspan></text>
<text x="25.4" y="208.8" font-size="10.0" fill="#1e1e1e" stroke="#1e1e1e" stroke-width="0.25" font-weight="normal" text-anchor="middle" transform="rotate(-90 25.4 208.8)"><tspan>Coulombic Efficiency (%)</tspan></text>
<text x="101.2" y="169" font-size="8.35" fill="#f4797b" stroke="#f4797b" stroke-width="0.25" font-weight="bold" text-anchor="start">Average CE: 98.53%</text>
<text x="81.8" y="191.6" font-size="8.35" fill="#4aab6b" stroke="#4aab6b" stroke-width="0.25" font-weight="bold" text-anchor="start">Average CE: 85.9%</text>
<text x="110.9" y="205.6" font-size="8.35" fill="#4aab6b" stroke="#4aab6b" stroke-width="0.25" font-weight="bold" text-anchor="start">short circuit</text>
<line x1="109.2" y1="202.2" x2="82.2" y2="209.6" stroke="#43a566" stroke-width="0.9"/>
<path d="M84.29 207.17 L81.6 209.8 L85.27 210.67" fill="none" stroke="#43a566" stroke-width="0.9" stroke-linejoin="round" stroke-linecap="round"/>
<line x1="125.5" y1="240.6" x2="149.4" y2="240.6" stroke="#e8457a" stroke-width="0.9"/>
<circle cx="137.9" cy="240.6" r="1.7" fill="#f76a6e"/>
<line x1="125.5" y1="253.8" x2="149.4" y2="253.8" stroke="#5fb87a" stroke-width="0.9"/>
<rect x="136.3" y="252.2" width="3.2" height="3.2" fill="#43a566"/>
<text x="151.4" y="244.4" font-size="8.35" fill="#f4797b" stroke="#f4797b" stroke-width="0.25" font-weight="bold" text-anchor="start">Zeolite-Zn</text>
<text x="151.4" y="256.8" font-size="8.35" fill="#4aab6b" stroke="#4aab6b" stroke-width="0.25" font-weight="bold" text-anchor="start">Zn</text>
<text x="224.4" y="156" font-size="11.2" fill="#1e1e1e" stroke="#1e1e1e" stroke-width="0.25" font-weight="bold" text-anchor="start">(e)</text>
<path d="M257.55 170.75 L258.35 170.75 L259.15 170.75 L259.94 170.8 L260.72 170.91 L261.47 171.09 L262.21 171.34 L262.92 171.65 L263.62 172.02 L264.31 172.44 L265 172.87 L265.69 173.29 L266.37 173.71 L267.06 174.14 L267.75 174.56 L268.43 174.98 L269.13 175.39 L269.84 175.78 L270.56 176.14 L271.29 176.48 L272.04 176.8 L272.8 177.1 L273.57 177.38 L274.35 177.65 L275.13 177.91 L275.91 178.16 L276.7 178.4 L277.49 178.63 L278.29 178.85 L279.09 179.07 L279.89 179.29 L280.69 179.51 L281.49 179.73 L282.29 179.94 L283.09 180.13 L283.88 180.31 L284.68 180.47 L285.48 180.62 L286.27 180.76 L287.06 180.88 L287.86 181 L288.65 181.13 L289.45 181.25 L290.24 181.37 L291.04 181.5 L291.83 181.62 L292.63 181.75 L293.42 181.87 L294.22 181.99 L295.01 182.12 L295.81 182.24 L296.6 182.37 L297.4 182.49 L298.19 182.61 L298.99 182.73 L299.78 182.85 L300.58 182.97 L301.38 183.08 L302.18 183.19 L302.98 183.3 L303.78 183.41 L304.58 183.53 L305.37 183.64 L306.17 183.75 L306.97 183.86 L307.77 183.97 L308.57 184.08 L309.37 184.19 L310.17 184.3 L310.97 184.41 L311.77 184.52 L312.57 184.63 L313.37 184.74 L314.17 184.85 L314.97 184.96 L315.77 185.07 L316.57 185.19 L317.36 185.3 L318.16 185.41 L318.96 185.52 L319.76 185.63 L320.56 185.74 L321.36 185.85 L322.16 185.96 L322.96 186.07 L323.76 186.19 L324.56 186.32 L325.36 186.45 L326.15 186.59 L326.95 186.73 L327.75 186.88 L328.54 187.04 L329.34 187.19 L330.14 187.34 L330.94 187.5 L331.73 187.65 L332.53 187.8 L333.33 187.96 L334.12 188.11 L334.92 188.26 L335.72 188.42 L336.51 188.57 L337.31 188.72 L338.11 188.88 L338.9 189.03 L339.7 189.18 L340.5 189.34 L341.3 189.49 L342.09 189.65 L342.89 189.8 L343.69 189.95 L344.48 190.11 L345.28 190.26 L346.08 190.41 L346.87 190.57 L347.67 190.72 L348.47 190.87 L349.26 191.03 L350.05 191.22 L350.83 191.46 L351.59 191.76 L352.34 192.1 L353.08 192.5 L353.8 192.95 L354.52 193.44 L355.25 193.92 L355.97 194.4 L356.69 194.89 L357.36 195.41 L357.99 195.96 L358.57 196.54 L359.1 197.16 L359.59 197.81 L360.03 198.5 L360.46 199.19 L360.88 199.88 L361.31 200.57 L361.74 201.27 L362.17 201.96 L362.6 202.65 L363.02 203.34 L363.45 204.04 L363.88 204.73 L364.31 205.42 L364.74 206.11 L365.16 206.81 L365.59 207.5 L366.02 208.19 L366.45 208.88 L366.88 209.58 L367.3 210.27 L367.73 210.96 L368.16 211.65 L368.59 212.35 L369.02 213.04 L369.45 213.72 L369.88 214.41 L370.32 215.09 L370.76 215.76 L371.2 216.44 L371.64 217.11 L372.08 217.78 L372.52 218.45 L372.96 219.12 L373.4 219.79 L373.85 220.46 L374.29 221.13 L374.73 221.8 L375.17 222.47 L375.61 223.14 L376.06 223.81 L376.5 224.48 L376.94 225.15 L377.38 225.83 L377.82 226.5 L378.27 227.17 L378.71 227.84 L379.15 228.51 L379.59 229.18 L380.03 229.85 L380.47 230.52 L380.92 231.19 L381.36 231.86 L381.8 232.53 L382.24 233.2 L382.68 233.87 L383.13 234.54 L383.57 235.22 L384.01 235.89 L384.45 236.56 L384.89 237.23 L385.33 237.9 L385.78 238.57 L386.22 239.24 L386.66 239.91 L387.1 240.58 L387.54 241.25 L387.99 241.92 L388.43 242.59 L388.87 243.26 L389.31 243.93 L389.75 244.61 L390.19 245.28 L390.64 245.95 L391.08 246.62 L391.52 247.29 L391.96 247.96 L392.4 248.63 L392.85 249.3 L393.29 249.97 L393.73 250.64 L394.17 251.31 L394.61 251.98 L395.05 252.65 L395.5 253.33" fill="none" stroke="#2f6d3d" stroke-width="1.1" stroke-linejoin="round" stroke-linecap="round"/>
<path d="M261.56 180.84 L262.38 180.94 L263.19 181.03 L264 181.13 L264.81 181.23 L265.62 181.32 L266.43 181.42 L267.25 181.51 L268.06 181.61 L268.87 181.71 L269.68 181.8 L270.49 181.9 L271.3 181.99 L272.12 182.09 L272.93 182.19 L273.74 182.28 L274.55 182.38 L275.36 182.47 L276.18 182.57 L276.99 182.66 L277.8 182.76 L278.61 182.85 L279.41 182.95 L280.22 183.04 L281.02 183.12 L281.82 183.21 L282.62 183.3 L283.41 183.38 L284.21 183.47 L285.01 183.56 L285.81 183.64 L286.61 183.73 L287.41 183.82 L288.2 183.9 L289 183.99 L289.8 184.08 L290.6 184.16 L291.4 184.25 L292.2 184.33 L292.99 184.42 L293.79 184.51 L294.59 184.59 L295.39 184.68 L296.19 184.77 L296.99 184.85 L297.78 184.94 L298.58 185.04 L299.39 185.14 L300.19 185.25 L300.99 185.37 L301.8 185.49 L302.61 185.63 L303.42 185.76 L304.23 185.9 L305.03 186.03 L305.84 186.17 L306.65 186.3 L307.46 186.44 L308.27 186.57 L309.07 186.71 L309.88 186.84 L310.69 186.98 L311.5 187.12 L312.31 187.25 L313.12 187.39 L313.92 187.53 L314.72 187.68 L315.52 187.83 L316.31 188 L317.1 188.16 L317.88 188.34 L318.67 188.51 L319.45 188.69 L320.24 188.86 L321.02 189.04 L321.81 189.21 L322.59 189.39 L323.38 189.56 L324.16 189.74 L324.95 189.91 L325.73 190.09 L326.52 190.26 L327.3 190.44 L328.09 190.61 L328.87 190.79 L329.66 190.96 L330.43 191.17 L331.2 191.43 L331.94 191.73 L332.68 192.08 L333.4 192.48 L334.11 192.93 L334.81 193.41 L335.5 193.89 L336.17 194.38 L336.83 194.88 L337.48 195.38 L338.11 195.89 L338.73 196.4 L339.35 196.92 L339.96 197.44 L340.55 197.99 L341.11 198.55 L341.67 199.13 L342.2 199.72 L342.72 200.33 L343.22 200.96 L343.72 201.58 L344.22 202.21 L344.72 202.83 L345.23 203.46 L345.73 204.08 L346.23 204.71 L346.73 205.33 L347.23 205.96 L347.74 206.58 L348.24 207.21 L348.74 207.83 L349.24 208.46 L349.75 209.08 L350.25 209.71 L350.75 210.33 L351.25 210.96 L351.75 211.58 L352.26 212.21 L352.76 212.83 L353.26 213.46 L353.76 214.08 L354.26 214.71 L354.77 215.33 L355.27 215.96 L355.77 216.58 L356.27 217.21 L356.78 217.83 L357.28 218.46 L357.78 219.08 L358.28 219.71 L358.78 220.33 L359.29 220.96 L359.79 221.58 L360.29 222.21 L360.79 222.83 L361.29 223.46 L361.8 224.08 L362.3 224.71 L362.8 225.33 L363.3 225.96 L363.81 226.58 L364.31 227.21 L364.81 227.83 L365.31 228.46 L365.81 229.09 L366.3 229.72 L366.8 230.36 L367.28 231 L367.77 231.64 L368.25 232.29 L368.73 232.93 L369.21 233.58 L369.69 234.23 L370.18 234.88 L370.66 235.52 L371.14 236.17 L371.62 236.82 L372.1 237.46 L372.58 238.11 L373.06 238.76 L373.54 239.41 L374.02 240.05 L374.51 240.7 L374.99 241.35 L375.47 242 L375.95 242.64 L376.43 243.29 L376.91 243.94 L377.39 244.59 L377.87 245.23 L378.36 245.88 L378.84 246.53 L379.32 247.18 L379.8 247.82 L380.28 248.47 L380.76 249.12 L381.24 249.76 L381.72 250.41 L382.2 251.06 L382.69 251.71 L383.17 252.35 L383.65 253 L383.89 253.33" fill="none" stroke="#5f8d33" stroke-width="1.1" stroke-linejoin="round" stroke-linecap="round"/>
<path d="M261.56 181.48 L262.38 181.57 L263.19 181.66 L264 181.75 L264.81 181.84 L265.62 181.92 L266.43 182.01 L267.25 182.1 L268.06 182.19 L268.87 182.27 L269.68 182.36 L270.49 182.45 L271.3 182.54 L272.12 182.62 L272.93 182.71 L273.74 182.8 L274.55 182.89 L275.36 182.97 L276.18 183.06 L276.99 183.15 L277.8 183.24 L278.61 183.33 L279.41 183.42 L280.22 183.51 L281.02 183.6 L281.82 183.69 L282.62 183.79 L283.41 183.88 L284.21 183.97 L285.01 184.07 L285.81 184.16 L286.61 184.25 L287.41 184.35 L288.2 184.44 L289 184.53 L289.8 184.63 L290.6 184.72 L291.4 184.81 L292.2 184.91 L292.99 185 L293.79 185.1 L294.59 185.19 L295.39 185.28 L296.19 185.38 L296.99 185.47 L297.78 185.56 L298.58 185.66 L299.39 185.77 L300.19 185.88 L300.99 185.99 L301.8 186.11 L302.61 186.24 L303.42 186.36 L304.23 186.49 L305.03 186.61 L305.84 186.74 L306.65 186.86 L307.46 186.99 L308.27 187.12 L309.07 187.24 L309.88 187.37 L310.69 187.49 L311.5 187.62 L312.31 187.74 L313.12 187.87 L313.92 188.01 L314.72 188.15 L315.52 188.3 L316.31 188.46 L317.1 188.63 L317.89 188.81 L318.68 188.99 L319.46 189.16 L320.25 189.34 L321.04 189.52 L321.82 189.7 L322.61 189.88 L323.4 190.06 L324.18 190.24 L324.97 190.41 L325.76 190.59 L326.54 190.77 L327.33 190.95 L328.1 191.16 L328.85 191.42 L329.58 191.73 L330.28 192.08 L330.97 192.48 L331.63 192.93 L332.27 193.41 L332.91 193.91 L333.54 194.43 L334.17 194.97 L334.78 195.52 L335.4 196.09 L336 196.68 L336.59 197.28 L337.17 197.88 L337.72 198.49 L338.26 199.11 L338.78 199.74 L339.28 200.37 L339.76 201.01 L340.25 201.65 L340.74 202.28 L341.23 202.92 L341.71 203.56 L342.2 204.2 L342.69 204.83 L343.17 205.47 L343.66 206.11 L344.15 206.75 L344.63 207.39 L345.12 208.02 L345.61 208.66 L346.1 209.3 L346.58 209.94 L347.07 210.57 L347.56 211.21 L348.04 211.85 L348.53 212.49 L349.02 213.12 L349.5 213.76 L349.99 214.4 L350.48 215.04 L350.97 215.67 L351.45 216.31 L351.94 216.95 L352.43 217.59 L352.91 218.22 L353.4 218.86 L353.89 219.5 L354.37 220.14 L354.86 220.78 L355.35 221.41 L355.84 222.05 L356.32 222.69 L356.81 223.33 L357.3 223.96 L357.78 224.6 L358.27 225.24 L358.76 225.88 L359.25 226.51 L359.73 227.15 L360.22 227.79 L360.71 228.43 L361.19 229.07 L361.68 229.71 L362.17 230.35 L362.65 230.99 L363.14 231.64 L363.63 232.29 L364.11 232.93 L364.6 233.58 L365.08 234.23 L365.57 234.88 L366.06 235.52 L366.54 236.17 L367.03 236.82 L367.51 237.46 L368 238.11 L368.49 238.76 L368.97 239.41 L369.46 240.05 L369.94 240.7 L370.43 241.35 L370.92 242 L371.4 242.64 L371.89 243.29 L372.38 243.94 L372.86 244.59 L373.35 245.23 L373.83 245.88 L374.32 246.53 L374.81 247.18 L375.29 247.82 L375.78 248.47 L376.26 249.12 L376.75 249.76 L377.24 250.41 L377.72 251.06 L378.21 251.71 L378.7 252.35 L379.18 253 L379.42 253.33" fill="none" stroke="#bdb936" stroke-width="1.1" stroke-linejoin="round" stroke-linecap="round"/>
<path d="M261.12 189.56 L261.93 189.65 L262.75 189.74 L263.56 189.83 L264.37 189.93 L265.19 190.02 L266 190.11 L266.82 190.2 L267.63 190.29 L268.44 190.38 L269.26 190.48 L270.07 190.57 L270.89 190.66 L271.7 190.75 L272.52 190.84 L273.33 190.94 L274.14 191.06 L274.94 191.19 L275.74 191.33 L276.54 191.49 L277.34 191.65 L278.13 191.83 L278.93 192.01 L279.72 192.19 L280.51 192.37 L281.31 192.55 L282.1 192.72 L282.89 192.9 L283.69 193.08 L284.48 193.26 L285.28 193.44 L286.07 193.62 L286.86 193.79 L287.65 193.99 L288.43 194.22 L289.2 194.47 L289.96 194.75 L290.71 195.06 L291.45 195.4 L292.18 195.75 L292.92 196.11 L293.65 196.47 L294.37 196.86 L295.08 197.27 L295.77 197.71 L296.46 198.16 L297.13 198.65 L297.79 199.16 L298.44 199.67 L299.06 200.21 L299.64 200.78 L300.18 201.39 L300.67 202.03 L301.12 202.7 L301.52 203.41 L301.88 204.15 L302.23 204.89 L302.57 205.63 L302.89 206.37 L303.21 207.12 L303.5 207.87 L303.79 208.62 L304.08 209.37 L304.37 210.12 L304.66 210.88 L304.95 211.62 L305.26 212.37 L305.59 213.1 L305.93 213.82 L306.29 214.54 L306.67 215.25 L307.06 215.95 L307.46 216.65 L307.85 217.35 L308.25 218.05 L308.64 218.74 L309.04 219.44 L309.44 220.14 L309.83 220.84 L310.23 221.54 L310.63 222.24 L311.02 222.94 L311.42 223.64 L311.82 224.33 L312.21 225.03 L312.61 225.73 L313 226.43 L313.4 227.13 L313.8 227.83 L314.19 228.53 L314.59 229.22 L314.99 229.92 L315.38 230.62 L315.78 231.32 L316.17 232.02 L316.57 232.72 L316.97 233.42 L317.36 234.11 L317.76 234.81 L318.16 235.51 L318.55 236.21 L318.95 236.91 L319.35 237.61 L319.74 238.31 L320.14 239 L320.53 239.7 L320.93 240.4 L321.33 241.1 L321.72 241.8 L322.12 242.5 L322.52 243.2 L322.91 243.89 L323.31 244.59 L323.7 245.29 L324.1 245.99 L324.5 246.69 L324.89 247.39 L325.29 248.09 L325.69 248.78 L326.08 249.48 L326.48 250.18 L326.88 250.88 L327.27 251.58 L327.67 252.28 L328.06 252.98 L328.26 253.33" fill="none" stroke="#e8b33c" stroke-width="1.1" stroke-linejoin="round" stroke-linecap="round"/>
<path d="M260.67 235.89 L261.5 235.89 L262.32 235.89 L263.14 235.89 L263.95 235.86 L264.68 235.72 L265.33 235.47 L265.91 235.11 L266.42 234.63 L266.85 234.04 L267.2 233.34 L267.54 232.61 L267.87 231.88 L268.21 231.15 L268.54 230.42 L268.88 229.69 L269.21 228.96 L269.55 228.22 L269.88 227.49 L270.22 226.76 L270.56 226.03 L270.89 225.3 L271.23 224.57 L271.56 223.84 L271.9 223.11 L272.23 222.38 L272.57 221.65 L272.9 220.92 L273.24 220.19 L273.57 219.46 L273.91 218.73 L274.24 218 L274.58 217.27 L274.91 216.54 L275.25 215.81 L275.58 215.08 L275.92 214.35 L276.25 213.62 L276.59 212.89 L276.93 212.16 L277.26 211.43 L277.6 210.7 L277.93 209.97 L278.27 209.24 L278.6 208.51 L278.94 207.78 L279.27 207.05 L279.61 206.32 L279.94 205.59 L280.28 204.86 L280.61 204.13 L280.95 203.4 L281.28 202.67 L281.62 201.93 L281.95 201.19 L282.29 200.44 L282.62 199.68 L282.95 198.92 L283.29 198.14 L283.62 197.36 L283.96 196.58 L284.34 195.82 L284.77 195.1 L285.23 194.4 L285.73 193.73 L286.28 193.08 L286.87 192.47 L287.49 191.91 L288.12 191.38 L288.78 190.89 L289.45 190.44 L290.14 190.03 L290.85 189.65 L291.57 189.28 L292.28 188.92 L292.99 188.55 L293.71 188.18 L294.42 187.82 L295.14 187.45 L295.85 187.08 L296.57 186.71 L297.28 186.36 L298.01 186.03 L298.75 185.73 L299.5 185.46 L300.26 185.23 L301.03 185.02 L301.81 184.85 L302.6 184.68 L303.38 184.51 L304.17 184.35 L304.95 184.18 L305.73 184.01 L306.52 183.85 L307.3 183.68 L308.09 183.51 L308.87 183.34 L309.66 183.18 L310.44 183.01 L311.23 182.84 L312.01 182.68 L312.8 182.51 L313.58 182.34 L314.37 182.18 L315.15 182.01 L315.94 181.84 L316.72 181.68 L317.5 181.51 L318.29 181.34 L319.07 181.18 L319.86 181.01 L320.64 180.84 L321.43 180.68 L322.21 180.51 L323 180.34 L323.79 180.19 L324.58 180.04 L325.37 179.9 L326.17 179.77 L326.96 179.65 L327.76 179.53 L328.57 179.42 L329.37 179.31 L330.17 179.19 L330.97 179.08 L331.77 178.97 L332.58 178.86 L333.38 178.75 L334.18 178.63 L334.98 178.52 L335.78 178.41 L336.58 178.3 L337.39 178.18 L338.19 178.07 L338.99 177.96 L339.79 177.85 L340.59 177.73 L341.39 177.62 L342.2 177.51 L343 177.39 L343.8 177.26 L344.6 177.13 L345.39 176.98 L346.19 176.83 L346.98 176.66 L347.78 176.49 L348.57 176.32 L349.36 176.15 L350.16 175.98 L350.95 175.81 L351.75 175.64 L352.54 175.47 L353.33 175.3 L354.13 175.13 L354.92 174.96 L355.71 174.79 L356.51 174.62 L357.3 174.45 L358.09 174.28 L358.89 174.11 L359.68 173.94 L360.48 173.77 L361.27 173.6 L362.06 173.43 L362.86 173.26 L363.65 173.09 L364.44 172.91 L365.22 172.7 L365.99 172.48 L366.76 172.23 L367.51 171.96 L368.26 171.67 L369.01 171.36 L369.75 171.06 L370.5 170.75 L371.24 170.44 L371.98 170.14 L372.73 169.83 L373.46 169.51 L374.19 169.16 L374.9 168.79 L375.6 168.4 L376.29 167.98 L376.97 167.54 L377.64 167.08 L378.31 166.62 L378.97 166.15 L379.61 165.67 L380.25 165.16 L380.87 164.65 L381.47 164.12 L382.06 163.57 L382.65 163.01 L383.23 162.45 L383.81 161.89 L384.39 161.34 L384.98 160.78 L385.56 160.22 L386.14 159.66 L386.72 159.1 L387.3 158.54 L387.89 157.98 L388.47 157.43 L389.05 156.87 L389.63 156.31 L390.22 155.75 L390.8 155.19 L391.38 154.63 L391.96 154.08 L392.55 153.52 L393.13 152.96 L393.71 152.4" fill="none" stroke="#161616" stroke-width="1.1" stroke-linejoin="round" stroke-linecap="round"/>
<rect x="257.1" y="152.4" width="156.7" height="110.1" fill="none" stroke="#3a3a3a" stroke-width="1.1"/>
<line x1="261.56" y1="262.5" x2="261.56" y2="259.5" stroke="#1e1e1e" stroke-width="1"/>
<text x="261.56" y="272.8" font-size="9.1" fill="#1e1e1e" stroke="#1e1e1e" stroke-width="0.25" font-weight="normal" text-anchor="middle">0</text>
<line x1="279.42" y1="262.5" x2="279.42" y2="259.5" stroke="#1e1e1e" stroke-width="1"/>
<text x="279.42" y="272.8" font-size="9.1" fill="#1e1e1e" stroke="#1e1e1e" stroke-width="0.25" font-weight="normal" text-anchor="middle">20</text>
<line x1="297.28" y1="262.5" x2="297.28" y2="259.5" stroke="#1e1e1e" stroke-width="1"/>
<text x="297.28" y="272.8" font-size="9.1" fill="#1e1e1e" stroke="#1e1e1e" stroke-width="0.25" font-weight="normal" text-anchor="middle">40</text>
<line x1="315.14" y1="262.5" x2="315.14" y2="259.5" stroke="#1e1e1e" stroke-width="1"/>
<text x="315.14" y="272.8" font-size="9.1" fill="#1e1e1e" stroke="#1e1e1e" stroke-width="0.25" font-weight="normal" text-anchor="middle">60</text>
<line x1="332.99" y1="262.5" x2="332.99" y2="259.5" stroke="#1e1e1e" stroke-width="1"/>
<text x="332.99" y="272.8" font-size="9.1" fill="#1e1e1e" stroke="#1e1e1e" stroke-width="0.25" font-weight="normal" text-anchor="middle">80</text>
<line x1="350.85" y1="262.5" x2="350.85" y2="259.5" stroke="#1e1e1e" stroke-width="1"/>
<text x="350.85" y="272.8" font-size="9.1" fill="#1e1e1e" stroke="#1e1e1e" stroke-width="0.25" font-weight="normal" text-anchor="middle">100</text>
<line x1="368.71" y1="262.5" x2="368.71" y2="259.5" stroke="#1e1e1e" stroke-width="1"/>
<text x="368.71" y="272.8" font-size="9.1" fill="#1e1e1e" stroke="#1e1e1e" stroke-width="0.25" font-weight="normal" text-anchor="middle">120</text>
<line x1="386.57" y1="262.5" x2="386.57" y2="259.5" stroke="#1e1e1e" stroke-width="1"/>
<text x="386.57" y="272.8" font-size="9.1" fill="#1e1e1e" stroke="#1e1e1e" stroke-width="0.25" font-weight="normal" text-anchor="middle">140</text>
<line x1="404.42" y1="262.5" x2="404.42" y2="259.5" stroke="#1e1e1e" stroke-width="1"/>
<text x="404.42" y="272.8" font-size="9.1" fill="#1e1e1e" stroke="#1e1e1e" stroke-width="0.25" font-weight="normal" text-anchor="middle">160</text>
<line x1="270.49" y1="262.5" x2="270.49" y2="260.9" stroke="#1e1e1e" stroke-width="1"/>
<line x1="288.35" y1="262.5" x2="288.35" y2="260.9" stroke="#1e1e1e" stroke-width="1"/>
<line x1="306.21" y1="262.5" x2="306.21" y2="260.9" stroke="#1e1e1e" stroke-width="1"/>
<line x1="324.07" y1="262.5" x2="324.07" y2="260.9" stroke="#1e1e1e" stroke-width="1"/>
<line x1="341.92" y1="262.5" x2="341.92" y2="260.9" stroke="#1e1e1e" stroke-width="1"/>
<line x1="359.78" y1="262.5" x2="359.78" y2="260.9" stroke="#1e1e1e" stroke-width="1"/>
<line x1="377.64" y1="262.5" x2="377.64" y2="260.9" stroke="#1e1e1e" stroke-width="1"/>
<line x1="395.5" y1="262.5" x2="395.5" y2="260.9" stroke="#1e1e1e" stroke-width="1"/>
<line x1="413.35" y1="262.5" x2="413.35" y2="260.9" stroke="#1e1e1e" stroke-width="1"/>
<line x1="257.1" y1="262.5" x2="260.1" y2="262.5" stroke="#1e1e1e" stroke-width="1"/>
<text x="254.3" y="265.4" font-size="9.1" fill="#1e1e1e" stroke="#1e1e1e" stroke-width="0.25" font-weight="normal" text-anchor="end">0.4</text>
<line x1="257.1" y1="244.15" x2="260.1" y2="244.15" stroke="#1e1e1e" stroke-width="1"/>
<text x="254.3" y="247.05" font-size="9.1" fill="#1e1e1e" stroke="#1e1e1e" stroke-width="0.25" font-weight="normal" text-anchor="end">0.6</text>
<line x1="257.1" y1="225.8" x2="260.1" y2="225.8" stroke="#1e1e1e" stroke-width="1"/>
<text x="254.3" y="228.7" font-size="9.1" fill="#1e1e1e" stroke="#1e1e1e" stroke-width="0.25" font-weight="normal" text-anchor="end">0.8</text>
<line x1="257.1" y1="207.45" x2="260.1" y2="207.45" stroke="#1e1e1e" stroke-width="1"/>
<text x="254.3" y="210.35" font-size="9.1" fill="#1e1e1e" stroke="#1e1e1e" stroke-width="0.25" font-weight="normal" text-anchor="end">1.0</text>
<line x1="257.1" y1="189.1" x2="260.1" y2="189.1" stroke="#1e1e1e" stroke-width="1"/>
<text x="254.3" y="192" font-size="9.1" fill="#1e1e1e" stroke="#1e1e1e" stroke-width="0.25" font-weight="normal" text-anchor="end">1.2</text>
<line x1="257.1" y1="170.75" x2="260.1" y2="170.75" stroke="#1e1e1e" stroke-width="1"/>
<text x="254.3" y="173.65" font-size="9.1" fill="#1e1e1e" stroke="#1e1e1e" stroke-width="0.25" font-weight="normal" text-anchor="end">1.4</text>
<line x1="257.1" y1="152.4" x2="260.1" y2="152.4" stroke="#1e1e1e" stroke-width="1"/>
<text x="254.3" y="155.3" font-size="9.1" fill="#1e1e1e" stroke="#1e1e1e" stroke-width="0.25" font-weight="normal" text-anchor="end">1.6</text>
<line x1="257.1" y1="253.33" x2="258.7" y2="253.33" stroke="#1e1e1e" stroke-width="1"/>
<line x1="257.1" y1="234.98" x2="258.7" y2="234.98" stroke="#1e1e1e" stroke-width="1"/>
<line x1="257.1" y1="216.62" x2="258.7" y2="216.62" stroke="#1e1e1e" stroke-width="1"/>
<line x1="257.1" y1="198.28" x2="258.7" y2="198.28" stroke="#1e1e1e" stroke-width="1"/>
<line x1="257.1" y1="179.93" x2="258.7" y2="179.93" stroke="#1e1e1e" stroke-width="1"/>
<line x1="257.1" y1="161.57" x2="258.7" y2="161.57" stroke="#1e1e1e" stroke-width="1"/>
<text x="337.2" y="284.5" font-size="9.8" fill="#1e1e1e" stroke="#1e1e1e" stroke-width="0.25" font-weight="normal" text-anchor="middle"><tspan>Specific Capacity (mAh g</tspan><tspan font-size="5.88" dy="-2.94" dx="-0.3">-1</tspan><tspan dy="2.94">&#8203;</tspan><tspan>)</tspan></text>
<text x="235.4" y="212" font-size="9.8" fill="#1e1e1e" stroke="#1e1e1e" stroke-width="0.25" font-weight="normal" text-anchor="middle" transform="rotate(-90 235.4 212)"><tspan>Potential (V vs. Zn/Zn</tspan><tspan font-size="5.88" dy="-2.94" dx="-0.3">2+</tspan><tspan dy="2.94">&#8203;</tspan><tspan>)</tspan></text>
<defs><linearGradient id="ga1" x1="0" x2="1" y1="0" y2="0"><stop offset="0" stop-color="#e8c050"/><stop offset="1" stop-color="#4f8a45"/></linearGradient><linearGradient id="ga2" x1="0" x2="1" y1="0" y2="0"><stop offset="0" stop-color="#e8b83c"/><stop offset="1" stop-color="#6f9a38"/></linearGradient><linearGradient id="ga3" x1="0" x2="1" y1="0" y2="0"><stop offset="0" stop-color="#f4a030"/><stop offset="1" stop-color="#ee3a4a"/></linearGradient></defs>
<rect x="306" y="207.9" width="55.5" height="1.2" fill="url(#ga1)"/>
<path d="M309.4 206.52 L305.8 208.5 L309.4 210.48" fill="none" stroke="#e6c050" stroke-width="1.0" stroke-linejoin="round" stroke-linecap="round"/>
<path d="M362.3 208.5 L358.5 210.59 L358.5 206.41 Z" fill="#4f8a45"/>
<rect x="325.6" y="245.8" width="69.8" height="1.2" fill="url(#ga2)"/>
<path d="M329 244.42 L325.4 246.4 L329 248.38" fill="none" stroke="#e8b83c" stroke-width="1.0" stroke-linejoin="round" stroke-linecap="round"/>
<text x="263.7" y="245.7" font-size="8.2" fill="#1e1e1e" stroke="#1e1e1e" stroke-width="0.25" font-weight="bold" text-anchor="start">0, 5, 10, 50 h</text>
<text x="274.5" y="256.9" font-size="8.2" fill="#1e1e1e" stroke="#1e1e1e" stroke-width="0.25" font-weight="bold" text-anchor="start">resting</text>
<text x="364" y="201.2" font-size="7.6" fill="#3f7a45" stroke="#3f7a45" stroke-width="0.25" font-weight="bold" text-anchor="start">Capacity lost</text>
<text x="264.6" y="162" font-size="8.5" fill="#3f7a45" stroke="#3f7a45" stroke-width="0.25" font-weight="bold" text-anchor="start" font-style="italic" transform="rotate(19 264.6 162)">Discharge</text>
<line x1="262.6" y1="165.2" x2="298.8" y2="177.2" stroke="#3f7a45" stroke-width="1.2" stroke-dasharray="3.4 2.4"/>
<path d="M302.3 178.3 L298.37 179.03 L299.58 175.37 Z" fill="#3f7a45"/>
<text x="322.6" y="171.2" font-size="8.2" fill="#1e1e1e" stroke="#1e1e1e" stroke-width="0.25" font-weight="bold" text-anchor="start" transform="rotate(-13 322.6 171.2)">Charge</text>
<line x1="325" y1="175.6" x2="358.4" y2="168.1" stroke="#1e1e1e" stroke-width="1.25" stroke-dasharray="3.4 2.4"/>
<path d="M362.2 167.2 L358.95 170.07 L358.03 166 Z" fill="#1e1e1e"/>
<text x="439.5" y="156.3" font-size="11.2" fill="#1e1e1e" stroke="#1e1e1e" stroke-width="0.25" font-weight="bold" text-anchor="start">(f)</text>
<path d="M485.07 181.89 L485.86 181.99 L486.66 182.09 L487.45 182.19 L488.24 182.3 L489.04 182.4 L489.83 182.5 L490.63 182.6 L491.42 182.71 L492.21 182.81 L493.01 182.91 L493.8 183.01 L494.6 183.12 L495.39 183.22 L496.19 183.32 L496.98 183.42 L497.77 183.52 L498.57 183.63 L499.36 183.73 L500.16 183.83 L500.95 183.93 L501.75 184.03 L502.54 184.13 L503.34 184.22 L504.13 184.31 L504.93 184.39 L505.73 184.48 L506.53 184.56 L507.32 184.64 L508.12 184.72 L508.92 184.81 L509.72 184.89 L510.51 184.97 L511.31 185.05 L512.11 185.14 L512.91 185.22 L513.71 185.3 L514.5 185.38 L515.3 185.46 L516.1 185.55 L516.9 185.63 L517.69 185.71 L518.49 185.79 L519.29 185.88 L520.09 185.96 L520.88 186.04 L521.68 186.12 L522.48 186.2 L523.28 186.29 L524.08 186.38 L524.87 186.49 L525.67 186.6 L526.47 186.72 L527.26 186.85 L528.06 187 L528.86 187.14 L529.66 187.29 L530.45 187.43 L531.25 187.57 L532.05 187.72 L532.84 187.86 L533.64 188.01 L534.44 188.15 L535.23 188.3 L536.03 188.44 L536.83 188.58 L537.62 188.73 L538.42 188.89 L539.22 189.08 L540.02 189.28 L540.82 189.51 L541.62 189.77 L542.42 190.05 L543.21 190.37 L543.98 190.69 L544.75 191.03 L545.51 191.38 L546.26 191.74 L547 192.11 L547.72 192.5 L548.43 192.93 L549.12 193.38 L549.79 193.87 L550.44 194.39 L551.08 194.94 L551.69 195.52 L552.31 196.1 L552.91 196.7 L553.49 197.31 L554.05 197.94 L554.6 198.58 L555.12 199.23 L555.63 199.91 L556.14 200.58 L556.65 201.26 L557.15 201.93 L557.65 202.6 L558.14 203.27 L558.62 203.93 L559.1 204.6 L559.57 205.25 L560.04 205.91 L560.5 206.56 L560.96 207.22 L561.42 207.87 L561.88 208.53 L562.34 209.18 L562.81 209.84 L563.27 210.49 L563.73 211.15 L564.19 211.8 L564.65 212.45 L565.12 213.11 L565.58 213.76 L566.04 214.42 L566.5 215.07 L566.96 215.73 L567.43 216.38 L567.89 217.04 L568.35 217.69 L568.81 218.35 L569.27 219 L569.73 219.65 L570.2 220.31 L570.66 220.96 L571.12 221.62 L571.58 222.27 L572.04 222.93 L572.51 223.58 L572.99 224.22 L573.47 224.86 L573.97 225.5 L574.47 226.13 L574.98 226.75 L575.5 227.37 L576.02 227.99 L576.54 228.61 L577.06 229.23 L577.57 229.85 L578.09 230.47 L578.61 231.09 L579.13 231.71 L579.65 232.33 L580.17 232.95 L580.68 233.57 L581.2 234.19 L581.72 234.81 L582.24 235.43 L582.76 236.05 L583.27 236.67 L583.79 237.29 L584.31 237.91 L584.83 238.53 L585.35 239.15 L585.87 239.77 L586.38 240.39 L586.9 241.01 L587.42 241.63 L587.94 242.25 L588.46 242.87 L588.98 243.49 L589.49 244.11 L590.01 244.73 L590.53 245.35 L591.05 245.97 L591.57 246.59 L592.08 247.21 L592.6 247.83 L593.12 248.45 L593.64 249.07 L594.16 249.69 L594.68 250.31 L595.19 250.93 L595.71 251.55 L596.23 252.17 L596.75 252.79" fill="none" stroke="#e8b43c" stroke-width="1.1" stroke-linejoin="round" stroke-linecap="round"/>
<path d="M485.07 180.51 L485.86 180.61 L486.66 180.71 L487.45 180.81 L488.24 180.92 L489.04 181.02 L489.83 181.12 L490.63 181.22 L491.42 181.32 L492.21 181.43 L493.01 181.53 L493.8 181.63 L494.6 181.73 L495.39 181.84 L496.19 181.94 L496.98 182.04 L497.77 182.14 L498.57 182.25 L499.36 182.35 L500.16 182.45 L500.95 182.55 L501.75 182.65 L502.54 182.75 L503.34 182.84 L504.13 182.93 L504.93 183.01 L505.73 183.1 L506.53 183.18 L507.32 183.26 L508.12 183.34 L508.92 183.42 L509.72 183.51 L510.51 183.59 L511.31 183.67 L512.11 183.75 L512.91 183.84 L513.71 183.92 L514.5 184 L515.3 184.08 L516.1 184.16 L516.9 184.25 L517.69 184.33 L518.49 184.41 L519.29 184.49 L520.09 184.58 L520.88 184.66 L521.68 184.74 L522.48 184.82 L523.28 184.91 L524.08 184.99 L524.87 185.08 L525.67 185.16 L526.47 185.26 L527.26 185.35 L528.06 185.44 L528.86 185.54 L529.66 185.63 L530.45 185.73 L531.25 185.82 L532.05 185.91 L532.84 186.01 L533.64 186.1 L534.44 186.2 L535.23 186.29 L536.03 186.39 L536.83 186.48 L537.62 186.58 L538.42 186.68 L539.21 186.8 L540 186.92 L540.79 187.06 L541.58 187.22 L542.36 187.38 L543.14 187.55 L543.93 187.73 L544.71 187.9 L545.49 188.08 L546.27 188.25 L547.05 188.42 L547.84 188.6 L548.62 188.77 L549.4 188.94 L550.18 189.12 L550.96 189.29 L551.75 189.47 L552.53 189.64 L553.31 189.81 L554.09 189.99 L554.88 190.16 L555.66 190.33 L556.44 190.51 L557.22 190.68 L558 190.86 L558.78 191.04 L559.52 191.29 L560.23 191.6 L560.92 191.98 L561.57 192.41 L562.19 192.9 L562.77 193.46 L563.32 194.05 L563.85 194.67 L564.35 195.3 L564.83 195.96 L565.28 196.63 L565.71 197.33 L566.13 198.03 L566.55 198.74 L566.98 199.44 L567.4 200.14 L567.82 200.84 L568.25 201.55 L568.67 202.25 L569.09 202.95 L569.52 203.66 L569.94 204.36 L570.36 205.06 L570.79 205.76 L571.21 206.46 L571.65 207.15 L572.09 207.84 L572.55 208.51 L573.01 209.17 L573.49 209.82 L573.98 210.47 L574.46 211.11 L574.95 211.75 L575.44 212.39 L575.93 213.03 L576.42 213.67 L576.9 214.31 L577.39 214.95 L577.88 215.6 L578.37 216.24 L578.86 216.88 L579.34 217.52 L579.83 218.16 L580.32 218.8 L580.81 219.44 L581.29 220.08 L581.78 220.72 L582.27 221.36 L582.76 222.01 L583.25 222.65 L583.73 223.29 L584.22 223.93 L584.71 224.57 L585.2 225.2 L585.69 225.84 L586.18 226.48 L586.67 227.11 L587.17 227.74 L587.66 228.38 L588.15 229.01 L588.64 229.65 L589.13 230.28 L589.62 230.91 L590.11 231.55 L590.61 232.18 L591.1 232.82 L591.59 233.45 L592.08 234.09 L592.57 234.72 L593.06 235.35 L593.55 235.99 L594.05 236.62 L594.54 237.26 L595.03 237.89 L595.52 238.52 L596.01 239.16 L596.5 239.79 L596.99 240.43 L597.49 241.06 L597.98 241.69 L598.47 242.33 L598.96 242.96 L599.45 243.6 L599.94 244.23 L600.43 244.87 L600.93 245.5 L601.42 246.13 L601.91 246.77 L602.4 247.4 L602.89 248.04 L603.38 248.67 L603.87 249.3 L604.36 249.94 L604.86 250.57 L605.35 251.21 L605.84 251.84 L606.33 252.47 L606.58 252.79" fill="none" stroke="#f27a2e" stroke-width="1.1" stroke-linejoin="round" stroke-linecap="round"/>
<path d="M485.07 180.05 L485.86 180.15 L486.66 180.25 L487.45 180.35 L488.24 180.46 L489.04 180.56 L489.83 180.66 L490.63 180.76 L491.42 180.86 L492.21 180.97 L493.01 181.07 L493.8 181.17 L494.6 181.27 L495.39 181.38 L496.19 181.48 L496.98 181.58 L497.77 181.68 L498.57 181.79 L499.36 181.89 L500.16 181.99 L500.95 182.09 L501.75 182.19 L502.54 182.29 L503.34 182.38 L504.13 182.47 L504.93 182.55 L505.73 182.64 L506.53 182.72 L507.32 182.8 L508.12 182.88 L508.92 182.96 L509.72 183.05 L510.51 183.13 L511.31 183.21 L512.11 183.29 L512.91 183.38 L513.71 183.46 L514.5 183.54 L515.3 183.62 L516.1 183.7 L516.9 183.79 L517.69 183.87 L518.49 183.95 L519.29 184.03 L520.09 184.12 L520.88 184.2 L521.68 184.28 L522.48 184.36 L523.28 184.44 L524.08 184.53 L524.87 184.61 L525.67 184.7 L526.47 184.79 L527.26 184.87 L528.06 184.96 L528.86 185.05 L529.66 185.14 L530.45 185.23 L531.25 185.32 L532.05 185.41 L532.84 185.5 L533.64 185.59 L534.44 185.68 L535.23 185.77 L536.03 185.86 L536.83 185.95 L537.62 186.04 L538.42 186.14 L539.21 186.25 L540 186.37 L540.79 186.51 L541.58 186.66 L542.36 186.82 L543.14 186.99 L543.93 187.16 L544.71 187.33 L545.49 187.5 L546.27 187.67 L547.05 187.84 L547.84 188.01 L548.62 188.18 L549.4 188.35 L550.18 188.52 L550.96 188.69 L551.75 188.86 L552.53 189.03 L553.31 189.2 L554.09 189.37 L554.88 189.54 L555.66 189.71 L556.44 189.88 L557.22 190.05 L558 190.22 L558.78 190.41 L559.54 190.65 L560.27 190.94 L560.99 191.28 L561.68 191.68 L562.35 192.14 L563 192.65 L563.65 193.17 L564.29 193.69 L564.93 194.22 L565.53 194.77 L566.11 195.35 L566.65 195.95 L567.15 196.58 L567.63 197.24 L568.07 197.92 L568.51 198.61 L568.94 199.29 L569.37 199.98 L569.81 200.67 L570.24 201.35 L570.68 202.04 L571.11 202.73 L571.55 203.42 L571.98 204.1 L572.42 204.79 L572.85 205.48 L573.29 206.16 L573.73 206.84 L574.18 207.52 L574.63 208.19 L575.1 208.85 L575.57 209.5 L576.05 210.15 L576.54 210.79 L577.03 211.43 L577.52 212.07 L578.01 212.71 L578.49 213.35 L578.98 213.99 L579.47 214.63 L579.96 215.27 L580.45 215.92 L580.93 216.56 L581.42 217.2 L581.91 217.84 L582.4 218.48 L582.89 219.12 L583.37 219.76 L583.86 220.4 L584.35 221.04 L584.84 221.69 L585.33 222.33 L585.81 222.97 L586.3 223.61 L586.79 224.25 L587.29 224.88 L587.78 225.52 L588.28 226.16 L588.78 226.79 L589.28 227.43 L589.78 228.06 L590.27 228.7 L590.77 229.33 L591.27 229.96 L591.77 230.6 L592.27 231.23 L592.77 231.87 L593.27 232.5 L593.77 233.13 L594.27 233.77 L594.77 234.4 L595.27 235.04 L595.77 235.67 L596.27 236.3 L596.77 236.94 L597.27 237.57 L597.77 238.21 L598.27 238.84 L598.77 239.48 L599.27 240.11 L599.77 240.74 L600.27 241.38 L600.76 242.01 L601.26 242.65 L601.76 243.28 L602.26 243.91 L602.76 244.55 L603.26 245.18 L603.76 245.82 L604.26 246.45 L604.76 247.08 L605.26 247.72 L605.76 248.35 L606.26 248.99 L606.76 249.62 L607.26 250.26 L607.76 250.89 L608.26 251.52 L608.76 252.16 L609.26 252.79" fill="none" stroke="#ee4f3c" stroke-width="1.1" stroke-linejoin="round" stroke-linecap="round"/>
<path d="M481.14 169.92 L481.95 169.92 L482.77 169.92 L483.58 169.92 L484.4 169.92 L485.21 169.92 L486.03 169.92 L486.84 169.92 L487.65 169.92 L488.47 169.92 L489.28 169.93 L490.07 170.01 L490.84 170.16 L491.59 170.37 L492.32 170.65 L493.03 171 L493.73 171.4 L494.42 171.82 L495.12 172.22 L495.82 172.61 L496.53 172.99 L497.24 173.36 L497.97 173.72 L498.69 174.06 L499.42 174.41 L500.15 174.73 L500.9 175.04 L501.65 175.32 L502.42 175.58 L503.2 175.82 L503.99 176.04 L504.78 176.24 L505.58 176.44 L506.38 176.64 L507.17 176.84 L507.97 177.03 L508.77 177.23 L509.56 177.43 L510.36 177.63 L511.16 177.83 L511.96 178.03 L512.75 178.23 L513.55 178.43 L514.35 178.62 L515.14 178.81 L515.94 178.98 L516.74 179.14 L517.54 179.3 L518.34 179.43 L519.15 179.56 L519.95 179.69 L520.75 179.81 L521.55 179.94 L522.36 180.06 L523.16 180.19 L523.96 180.31 L524.77 180.44 L525.57 180.56 L526.37 180.69 L527.17 180.81 L527.98 180.94 L528.78 181.06 L529.58 181.19 L530.38 181.31 L531.19 181.43 L531.99 181.56 L532.79 181.68 L533.59 181.81 L534.4 181.93 L535.2 182.06 L536 182.18 L536.8 182.31 L537.61 182.43 L538.41 182.56 L539.21 182.7 L540.01 182.83 L540.8 182.98 L541.6 183.12 L542.39 183.28 L543.19 183.43 L543.98 183.59 L544.77 183.74 L545.56 183.9 L546.36 184.05 L547.15 184.21 L547.94 184.36 L548.73 184.52 L549.53 184.68 L550.32 184.83 L551.11 184.99 L551.91 185.14 L552.7 185.3 L553.49 185.45 L554.28 185.61 L555.08 185.77 L555.87 185.92 L556.66 186.08 L557.46 186.23 L558.25 186.39 L559.04 186.54 L559.83 186.7 L560.63 186.85 L561.42 187.01 L562.21 187.17 L563 187.32 L563.8 187.48 L564.59 187.63 L565.38 187.79 L566.18 187.95 L566.97 188.11 L567.76 188.28 L568.55 188.46 L569.34 188.64 L570.12 188.83 L570.91 189.03 L571.7 189.23 L572.48 189.43 L573.27 189.63 L574.05 189.83 L574.84 190.02 L575.63 190.22 L576.41 190.44 L577.17 190.69 L577.93 190.96 L578.67 191.25 L579.41 191.58 L580.13 191.92 L580.84 192.29 L581.56 192.66 L582.24 193.07 L582.88 193.52 L583.47 194.02 L584.02 194.57 L584.53 195.17 L584.99 195.82 L585.42 196.51 L585.85 197.19 L586.28 197.88 L586.71 198.56 L587.14 199.25 L587.57 199.93 L588 200.61 L588.43 201.3 L588.86 201.98 L589.29 202.67 L589.71 203.36 L590.1 204.07 L590.48 204.79 L590.84 205.52 L591.18 206.27 L591.49 207.03 L591.8 207.79 L592.1 208.56 L592.41 209.33 L592.71 210.1 L593.01 210.86 L593.32 211.63 L593.62 212.4 L593.92 213.17 L594.23 213.93 L594.55 214.69 L594.89 215.43 L595.26 216.15 L595.64 216.86 L596.05 217.55 L596.48 218.23 L596.93 218.9 L597.37 219.56 L597.82 220.23 L598.27 220.9 L598.71 221.56 L599.16 222.23 L599.61 222.89 L600.04 223.57 L600.47 224.25 L600.87 224.94 L601.27 225.64 L601.65 226.35 L602.01 227.06 L602.37 227.79 L602.72 228.51 L603.08 229.24 L603.43 229.96 L603.79 230.69 L604.14 231.41 L604.5 232.14 L604.85 232.86 L605.21 233.59 L605.56 234.31 L605.92 235.04 L606.27 235.76 L606.63 236.49 L606.98 237.21 L607.34 237.94 L607.69 238.66 L608.05 239.38 L608.4 240.11 L608.76 240.83 L609.11 241.56 L609.47 242.28 L609.82 243.01 L610.18 243.73 L610.53 244.46 L610.89 245.18 L611.24 245.91 L611.6 246.63 L611.95 247.36 L612.31 248.08 L612.66 248.81 L613.02 249.53 L613.37 250.26 L613.73 250.98 L614.08 251.7 L614.44 252.43 L614.62 252.79" fill="none" stroke="#e93238" stroke-width="1.1" stroke-linejoin="round" stroke-linecap="round"/>
<path d="M484.62 235.3 L485.47 235.3 L486.32 235.3 L487.18 235.3 L488.01 235.27 L488.76 235.13 L489.44 234.88 L490.04 234.51 L490.55 234.03 L490.99 233.45 L491.35 232.74 L491.69 232.02 L492.03 231.29 L492.37 230.56 L492.71 229.83 L493.06 229.1 L493.4 228.37 L493.74 227.64 L494.08 226.91 L494.42 226.18 L494.76 225.45 L495.1 224.73 L495.44 224 L495.78 223.27 L496.12 222.54 L496.46 221.81 L496.8 221.08 L497.14 220.35 L497.48 219.62 L497.82 218.89 L498.16 218.16 L498.51 217.44 L498.85 216.71 L499.19 215.98 L499.53 215.25 L499.87 214.52 L500.21 213.79 L500.55 213.06 L500.89 212.33 L501.23 211.6 L501.57 210.87 L501.91 210.15 L502.25 209.42 L502.59 208.69 L502.93 207.96 L503.27 207.23 L503.61 206.5 L503.96 205.77 L504.3 205.04 L504.64 204.31 L504.98 203.58 L505.32 202.86 L505.66 202.13 L506 201.39 L506.34 200.66 L506.68 199.92 L507.02 199.17 L507.36 198.43 L507.69 197.68 L508.03 196.93 L508.37 196.18 L508.71 195.43 L509.05 194.68 L509.38 193.93 L509.72 193.18 L510.06 192.43 L510.41 191.69 L510.83 191.01 L511.3 190.38 L511.83 189.8 L512.43 189.27 L513.08 188.8 L513.79 188.38 L514.52 187.98 L515.26 187.61 L516.02 187.27 L516.78 186.96 L517.56 186.67 L518.35 186.42 L519.15 186.2 L519.96 185.99 L520.76 185.77 L521.56 185.56 L522.36 185.35 L523.16 185.14 L523.96 184.94 L524.75 184.74 L525.54 184.54 L526.33 184.35 L527.12 184.16 L527.9 183.97 L528.69 183.78 L529.48 183.59 L530.26 183.4 L531.05 183.21 L531.84 183.02 L532.62 182.83 L533.41 182.64 L534.2 182.45 L534.98 182.26 L535.77 182.07 L536.56 181.88 L537.34 181.69 L538.13 181.5 L538.92 181.31 L539.7 181.12 L540.49 180.93 L541.28 180.74 L542.06 180.55 L542.85 180.36 L543.64 180.17 L544.43 179.98 L545.21 179.79 L546 179.6 L546.79 179.42 L547.58 179.25 L548.37 179.09 L549.17 178.94 L549.96 178.79 L550.76 178.66 L551.56 178.52 L552.36 178.39 L553.16 178.25 L553.96 178.12 L554.76 177.99 L555.56 177.85 L556.36 177.72 L557.16 177.58 L557.96 177.45 L558.76 177.32 L559.55 177.18 L560.35 177.05 L561.15 176.91 L561.95 176.78 L562.75 176.65 L563.55 176.51 L564.35 176.38 L565.15 176.25 L565.95 176.11 L566.75 175.98 L567.55 175.84 L568.35 175.71 L569.15 175.57 L569.96 175.44 L570.76 175.3 L571.57 175.16 L572.38 175.02 L573.19 174.88 L574.01 174.74 L574.82 174.6 L575.63 174.47 L576.44 174.33 L577.25 174.19 L578.07 174.05 L578.88 173.91 L579.69 173.77 L580.5 173.63 L581.32 173.49 L582.12 173.33 L582.93 173.17 L583.73 172.99 L584.53 172.8 L585.32 172.61 L586.11 172.4 L586.9 172.18 L587.69 171.97 L588.48 171.76 L589.27 171.55 L590.06 171.33 L590.85 171.12 L591.64 170.9 L592.42 170.66 L593.19 170.4 L593.94 170.12 L594.69 169.82 L595.43 169.49 L596.15 169.15 L596.88 168.8 L597.6 168.45 L598.32 168.1 L599.05 167.75 L599.76 167.38 L600.47 166.99 L601.16 166.58 L601.85 166.14 L602.52 165.69 L603.19 165.21 L603.85 164.72 L604.51 164.22 L605.17 163.73 L605.82 163.23 L606.46 162.72 L607.09 162.19 L607.7 161.65 L608.31 161.1 L608.89 160.54 L609.47 159.96 L610.04 159.37 L610.61 158.79 L611.18 158.21 L611.75 157.62 L612.32 157.04 L612.89 156.46 L613.46 155.87 L614.03 155.29 L614.6 154.71 L615.18 154.12 L615.75 153.54 L616.32 152.96 L616.89 152.37 L617.46 151.79 L617.74 151.5" fill="none" stroke="#161616" stroke-width="1.1" stroke-linejoin="round" stroke-linecap="round"/>
<rect x="480.6" y="151.5" width="156.8" height="110.5" fill="none" stroke="#3a3a3a" stroke-width="1.1"/>
<line x1="485.07" y1="262" x2="485.07" y2="259" stroke="#1e1e1e" stroke-width="1"/>
<text x="485.07" y="272.3" font-size="9.1" fill="#1e1e1e" stroke="#1e1e1e" stroke-width="0.25" font-weight="normal" text-anchor="middle">0</text>
<line x1="502.94" y1="262" x2="502.94" y2="259" stroke="#1e1e1e" stroke-width="1"/>
<text x="502.94" y="272.3" font-size="9.1" fill="#1e1e1e" stroke="#1e1e1e" stroke-width="0.25" font-weight="normal" text-anchor="middle">20</text>
<line x1="520.81" y1="262" x2="520.81" y2="259" stroke="#1e1e1e" stroke-width="1"/>
<text x="520.81" y="272.3" font-size="9.1" fill="#1e1e1e" stroke="#1e1e1e" stroke-width="0.25" font-weight="normal" text-anchor="middle">40</text>
<line x1="538.67" y1="262" x2="538.67" y2="259" stroke="#1e1e1e" stroke-width="1"/>
<text x="538.67" y="272.3" font-size="9.1" fill="#1e1e1e" stroke="#1e1e1e" stroke-width="0.25" font-weight="normal" text-anchor="middle">60</text>
<line x1="556.54" y1="262" x2="556.54" y2="259" stroke="#1e1e1e" stroke-width="1"/>
<text x="556.54" y="272.3" font-size="9.1" fill="#1e1e1e" stroke="#1e1e1e" stroke-width="0.25" font-weight="normal" text-anchor="middle">80</text>
<line x1="574.41" y1="262" x2="574.41" y2="259" stroke="#1e1e1e" stroke-width="1"/>
<text x="574.41" y="272.3" font-size="9.1" fill="#1e1e1e" stroke="#1e1e1e" stroke-width="0.25" font-weight="normal" text-anchor="middle">100</text>
<line x1="592.28" y1="262" x2="592.28" y2="259" stroke="#1e1e1e" stroke-width="1"/>
<text x="592.28" y="272.3" font-size="9.1" fill="#1e1e1e" stroke="#1e1e1e" stroke-width="0.25" font-weight="normal" text-anchor="middle">120</text>
<line x1="610.15" y1="262" x2="610.15" y2="259" stroke="#1e1e1e" stroke-width="1"/>
<text x="610.15" y="272.3" font-size="9.1" fill="#1e1e1e" stroke="#1e1e1e" stroke-width="0.25" font-weight="normal" text-anchor="middle">140</text>
<line x1="628.02" y1="262" x2="628.02" y2="259" stroke="#1e1e1e" stroke-width="1"/>
<text x="628.02" y="272.3" font-size="9.1" fill="#1e1e1e" stroke="#1e1e1e" stroke-width="0.25" font-weight="normal" text-anchor="middle">160</text>
<line x1="494" y1="262" x2="494" y2="260.4" stroke="#1e1e1e" stroke-width="1"/>
<line x1="511.87" y1="262" x2="511.87" y2="260.4" stroke="#1e1e1e" stroke-width="1"/>
<line x1="529.74" y1="262" x2="529.74" y2="260.4" stroke="#1e1e1e" stroke-width="1"/>
<line x1="547.61" y1="262" x2="547.61" y2="260.4" stroke="#1e1e1e" stroke-width="1"/>
<line x1="565.48" y1="262" x2="565.48" y2="260.4" stroke="#1e1e1e" stroke-width="1"/>
<line x1="583.35" y1="262" x2="583.35" y2="260.4" stroke="#1e1e1e" stroke-width="1"/>
<line x1="601.22" y1="262" x2="601.22" y2="260.4" stroke="#1e1e1e" stroke-width="1"/>
<line x1="619.08" y1="262" x2="619.08" y2="260.4" stroke="#1e1e1e" stroke-width="1"/>
<line x1="636.95" y1="262" x2="636.95" y2="260.4" stroke="#1e1e1e" stroke-width="1"/>
<line x1="480.6" y1="262" x2="483.6" y2="262" stroke="#1e1e1e" stroke-width="1"/>
<text x="477.8" y="264.9" font-size="9.1" fill="#1e1e1e" stroke="#1e1e1e" stroke-width="0.25" font-weight="normal" text-anchor="end">0.4</text>
<line x1="480.6" y1="243.58" x2="483.6" y2="243.58" stroke="#1e1e1e" stroke-width="1"/>
<text x="477.8" y="246.48" font-size="9.1" fill="#1e1e1e" stroke="#1e1e1e" stroke-width="0.25" font-weight="normal" text-anchor="end">0.6</text>
<line x1="480.6" y1="225.17" x2="483.6" y2="225.17" stroke="#1e1e1e" stroke-width="1"/>
<text x="477.8" y="228.07" font-size="9.1" fill="#1e1e1e" stroke="#1e1e1e" stroke-width="0.25" font-weight="normal" text-anchor="end">0.8</text>
<line x1="480.6" y1="206.75" x2="483.6" y2="206.75" stroke="#1e1e1e" stroke-width="1"/>
<text x="477.8" y="209.65" font-size="9.1" fill="#1e1e1e" stroke="#1e1e1e" stroke-width="0.25" font-weight="normal" text-anchor="end">1.0</text>
<line x1="480.6" y1="188.33" x2="483.6" y2="188.33" stroke="#1e1e1e" stroke-width="1"/>
<text x="477.8" y="191.23" font-size="9.1" fill="#1e1e1e" stroke="#1e1e1e" stroke-width="0.25" font-weight="normal" text-anchor="end">1.2</text>
<line x1="480.6" y1="169.92" x2="483.6" y2="169.92" stroke="#1e1e1e" stroke-width="1"/>
<text x="477.8" y="172.82" font-size="9.1" fill="#1e1e1e" stroke="#1e1e1e" stroke-width="0.25" font-weight="normal" text-anchor="end">1.4</text>
<line x1="480.6" y1="151.5" x2="483.6" y2="151.5" stroke="#1e1e1e" stroke-width="1"/>
<text x="477.8" y="154.4" font-size="9.1" fill="#1e1e1e" stroke="#1e1e1e" stroke-width="0.25" font-weight="normal" text-anchor="end">1.6</text>
<line x1="480.6" y1="252.79" x2="482.2" y2="252.79" stroke="#1e1e1e" stroke-width="1"/>
<line x1="480.6" y1="234.38" x2="482.2" y2="234.38" stroke="#1e1e1e" stroke-width="1"/>
<line x1="480.6" y1="215.96" x2="482.2" y2="215.96" stroke="#1e1e1e" stroke-width="1"/>
<line x1="480.6" y1="197.54" x2="482.2" y2="197.54" stroke="#1e1e1e" stroke-width="1"/>
<line x1="480.6" y1="179.12" x2="482.2" y2="179.12" stroke="#1e1e1e" stroke-width="1"/>
<line x1="480.6" y1="160.71" x2="482.2" y2="160.71" stroke="#1e1e1e" stroke-width="1"/>
<text x="559.4" y="284.5" font-size="9.8" fill="#1e1e1e" stroke="#1e1e1e" stroke-width="0.25" font-weight="normal" text-anchor="middle"><tspan>Specific Capacity (mAh g</tspan><tspan font-size="5.88" dy="-2.94" dx="-0.3">-1</tspan><tspan dy="2.94">&#8203;</tspan><tspan>)</tspan></text>
<text x="459.2" y="208.4" font-size="9.8" fill="#1e1e1e" stroke="#1e1e1e" stroke-width="0.25" font-weight="normal" text-anchor="middle" transform="rotate(-90 459.2 208.4)"><tspan>Potential (V vs. Zn/Zn</tspan><tspan font-size="5.88" dy="-2.94" dx="-0.3">2+</tspan><tspan dy="2.94">&#8203;</tspan><tspan>)</tspan></text>
<rect x="548.6" y="244.3" width="75" height="1.2" fill="url(#ga3)"/>
<path d="M552 242.92 L548.4 244.9 L552 246.88" fill="none" stroke="#f4a030" stroke-width="1.0" stroke-linejoin="round" stroke-linecap="round"/>
<text x="496.3" y="242.2" font-size="8.3" fill="#1e1e1e" stroke="#1e1e1e" stroke-width="0.25" font-weight="bold" text-anchor="start">0, 5, 10, 50 h</text>
<text x="507.2" y="253.6" font-size="8.3" fill="#1e1e1e" stroke="#1e1e1e" stroke-width="0.25" font-weight="bold" text-anchor="start">resting</text>
<text x="489.5" y="166.5" font-size="8.1" fill="#e8343f" stroke="#e8343f" stroke-width="0.25" font-weight="bold" text-anchor="start" font-style="italic" transform="rotate(10 489.5 166.5)">Discharge</text>
<line x1="493.2" y1="169.4" x2="531.2" y2="176.4" stroke="#e8343f" stroke-width="1.2" stroke-dasharray="3.4 2.4"/>
<path d="M535 177.1 L530.89 178.47 L531.64 174.36 Z" fill="#e8343f"/>
<text x="551.4" y="170.6" font-size="8.3" fill="#1e1e1e" stroke="#1e1e1e" stroke-width="0.25" font-weight="bold" text-anchor="start" transform="rotate(-13 551.4 170.6)">Charge</text>
<line x1="548" y1="175.6" x2="584.6" y2="167.4" stroke="#1e1e1e" stroke-width="1.25" stroke-dasharray="3.4 2.4"/>
<path d="M588.4 166.5 L585.15 169.37 L584.24 165.29 Z" fill="#1e1e1e"/>
<text x="13" y="300.5" font-size="11.2" fill="#1e1e1e" stroke="#1e1e1e" stroke-width="0.25" font-weight="bold" text-anchor="start">(g)</text>
<path d="M46.7 304.8 L637 304.8" fill="none" stroke="#f6888b" stroke-width="4.0" stroke-linejoin="round" stroke-linecap="round" stroke-linecap="butt"/>
<path d="M46.7 303.12 L48.2 303.38 L49.7 303.31 L51.21 302.79 L52.71 302.91 L54.21 303.46 L55.71 303.28 L57.21 303.49 L58.72 303.49 L60.22 303.1 L61.72 303.51 L63.22 303.36 L64.72 303 L66.23 303.03 L67.73 302.76 L69.23 303.06 L70.73 303.56 L72.23 302.79 L73.74 303.21 L75.24 302.8 L76.74 302.77 L78.24 303.28 L79.74 302.92 L81.25 302.74 L82.75 302.84 L84.25 303.28 L85.75 303.23 L87.25 302.71 L88.76 302.91 L90.26 303.57 L91.76 302.9 L93.26 303.21 L94.77 303.08 L96.27 303.4 L97.77 303.24 L99.27 303.41 L100.77 303.18 L102.28 302.87 L103.78 302.86 L105.28 302.77 L106.78 303.44 L108.28 302.8 L109.79 302.72 L111.29 303.57 L112.79 302.88 L114.29 303.5 L115.79 302.78 L117.3 303.12 L118.8 302.9 L120.3 303.45 L121.8 303.25 L123.3 303.28 L124.81 303.39 L126.31 303.48 L127.81 303.01 L129.31 303.24 L130.81 303.1 L132.32 302.8 L133.82 303.45 L135.32 303.23 L136.82 303.43 L138.32 302.89 L139.83 303.19 L141.33 303.12 L142.83 303.36 L144.33 302.77 L145.83 303.01 L147.34 303.14 L148.84 302.76 L150.34 303.2 L151.84 303.36 L153.34 303.08 L154.85 303.28 L156.35 303.25 L157.85 302.89 L159.35 303.02 L160.85 303.6 L162.36 303 L163.86 303.09 L165.36 302.78 L166.86 302.9 L168.36 302.85 L169.87 303.54 L171.37 303.35 L172.87 303.49 L174.37 303.59 L175.88 303.25 L177.38 303.54 L178.88 303.18 L180.38 303.08 L181.88 303.55 L183.39 303.51 L184.89 303.55 L186.39 303.14 L187.89 303.4 L189.39 303.07 L190.9 303.6 L192.4 303.53 L193.9 302.96 L195.4 303.54 L196.9 302.87 L198.41 302.79 L199.91 303.35 L201.41 302.96 L202.91 303.17 L204.41 303.28 L205.92 302.74 L207.42 303.37 L208.92 302.95 L210.42 303.09 L211.92 303.01 L213.43 303.37 L214.93 303.37 L216.43 302.96 L217.93 302.79 L219.43 302.97 L220.94 303.07 L222.44 302.77 L223.94 302.84 L225.44 303.39 L226.94 303.33 L228.45 303.58 L229.95 303.58 L231.45 303.49 L232.95 303.04 L234.45 302.85 L235.96 302.98 L237.46 303.12 L238.96 303.17 L240.46 303.19 L241.96 303.02 L243.47 303.47 L244.97 302.96 L246.47 303.12 L247.97 303.5 L249.47 303.43 L250.98 302.97 L252.48 302.92 L253.98 303.43 L255.48 302.71 L256.98 302.82 L258.49 303.18 L259.99 303.18 L261.49 302.85 L262.99 302.75 L264.5 302.88 L266 303.39 L267.5 303.12 L269 303.58 L270.5 303.41 L272.01 303.58 L273.51 302.73 L275.01 302.87 L276.51 302.71 L278.01 303.09 L279.52 303 L281.02 302.75 L282.52 303.19 L284.02 302.78 L285.52 302.98 L287.03 302.92 L288.53 303.42 L290.03 303.08 L291.53 302.93 L293.03 302.74 L294.54 303.09 L296.04 303.26 L297.54 303.31 L299.04 303.52 L300.54 303.43 L302.05 302.92 L303.55 302.82 L305.05 303.38 L306.55 303.41 L308.05 303.16 L309.56 303.45 L311.06 303.2 L312.56 302.95 L314.06 302.85 L315.56 302.72 L317.07 303.28 L318.57 303.51 L320.07 303.52 L321.57 303.12 L323.07 303.3 L324.58 303.54 L326.08 303.43 L327.58 303.24 L329.08 303.07 L330.58 303.17 L332.09 302.85 L333.59 302.86 L335.09 303.32 L336.59 303.59 L338.09 303.19 L339.6 303.07 L341.1 303.02 L342.6 303.11 L344.1 303.42 L345.61 303.11 L347.11 303.56 L348.61 302.84 L350.11 302.98 L351.61 303.17 L353.12 303.07 L354.62 303.47 L356.12 303.44 L357.62 303.54 L359.12 303.25 L360.63 302.73 L362.13 303.22 L363.63 303.19 L365.13 303.14 L366.63 302.95 L368.14 303.34 L369.64 303.52 L371.14 302.79 L372.64 303.3 L374.14 303.03 L375.65 303.16 L377.15 303.51 L378.65 303.56 L380.15 303.28 L381.65 302.88 L383.16 303.53 L384.66 302.86 L386.16 303.04 L387.66 303.45 L389.16 302.98 L390.67 302.94 L392.17 303.55 L393.67 303.55 L395.17 302.99 L396.67 303.05 L398.18 302.95 L399.68 302.82 L401.18 302.93 L402.68 303.58 L404.18 302.77 L405.69 302.91 L407.19 302.88 L408.69 302.77 L410.19 303.17 L411.69 303.37 L413.2 303.45 L414.7 303.27 L416.2 303.44 L417.7 302.7 L419.2 302.95 L420.71 303.57 L422.21 302.76 L423.71 302.94 L425.21 303.13 L426.72 302.94 L428.22 303.19 L429.72 302.74 L431.22 302.91 L432.72 303.56 L434.23 302.83 L435.73 303.51 L437.23 302.86 L438.73 303.59 L440.23 303.31 L441.74 303.28 L443.24 302.83 L444.74 302.75 L446.24 303.38 L447.74 302.86 L449.25 302.87 L450.75 303.44 L452.25 303.49 L453.75 302.74 L455.25 303.56 L456.76 303.18 L458.26 303.04 L459.76 302.8 L461.26 303.05 L462.76 303.59 L464.27 302.95 L465.77 302.82 L467.27 302.83 L468.77 302.81 L470.27 303.02 L471.78 303.52 L473.28 302.77 L474.78 302.87 L476.28 303.55 L477.78 303.6 L479.29 303.58 L480.79 302.92 L482.29 303.02 L483.79 303.56 L485.29 303.14 L486.8 303.33 L488.3 302.98 L489.8 302.72 L491.3 303.01 L492.8 303.37 L494.31 303.4 L495.81 303.21 L497.31 303.12 L498.81 303.18 L500.31 303.1 L501.82 303.18 L503.32 303.45 L504.82 302.88 L506.32 303.23 L507.82 303.54 L509.33 303.46 L510.83 302.86 L512.33 303.57 L513.83 303.46 L515.34 302.85 L516.84 302.94 L518.34 302.88 L519.84 302.75 L521.34 303.58 L522.85 303.07 L524.35 303.49 L525.85 302.8 L527.35 302.71 L528.85 303.48 L530.36 303.41 L531.86 303.59 L533.36 303.32 L534.86 303.17 L536.36 303.39 L537.87 302.78 L539.37 303.19 L540.87 303.1 L542.37 302.83 L543.87 303.24 L545.38 302.99 L546.88 303.16 L548.38 303.04 L549.88 302.99 L551.38 303.02 L552.89 303.24 L554.39 303.58 L555.89 303.54 L557.39 303.48 L558.89 303.45 L560.4 302.96 L561.9 303.58 L563.4 302.94 L564.9 302.81 L566.4 303.15 L567.91 303.36 L569.41 303.01 L570.91 303.28 L572.41 302.95 L573.91 303.57 L575.42 303.11 L576.92 303.13 L578.42 303.18 L579.92 303.49 L581.42 303.59 L582.93 303.18 L584.43 303.1 L585.93 303.26 L587.43 302.76 L588.93 303.08 L590.44 303.46 L591.94 303.4 L593.44 302.75 L594.94 303.47 L596.45 303.05 L597.95 303.58 L599.45 303.03 L600.95 302.89 L602.45 303.19 L603.96 303.5 L605.46 303.09 L606.96 303.48 L608.46 303.34 L609.96 303.03 L611.47 302.97 L612.97 303.15 L614.47 303.06 L615.97 303.04 L617.47 303.29 L618.98 303.49 L620.48 303.23 L621.98 302.83 L623.48 302.9 L624.98 303.03 L626.49 303.25 L627.99 302.83 L629.49 302.77 L630.99 302.99 L632.49 302.95 L634 302.73 L635.5 303.18 L637 303.15" fill="none" stroke="#f6888b" stroke-width="0.9" stroke-linejoin="round" stroke-linecap="round"/>
<path d="M46.7 306.83 L48.2 306.48 L49.7 306.66 L51.21 306.75 L52.71 306.75 L54.21 306.82 L55.71 306.4 L57.21 306.61 L58.72 306.11 L60.22 306.79 L61.72 306.34 L63.22 306.43 L64.72 306.8 L66.23 306.26 L67.73 306.17 L69.23 306.74 L70.73 306.54 L72.23 306.08 L73.74 306.03 L75.24 306.32 L76.74 306.01 L78.24 306.75 L79.74 306.17 L81.25 306.25 L82.75 306.35 L84.25 306.46 L85.75 306.39 L87.25 306.57 L88.76 306.59 L90.26 306.39 L91.76 306.09 L93.26 306.88 L94.77 306.62 L96.27 306.08 L97.77 306.4 L99.27 306.68 L100.77 306.89 L102.28 306.06 L103.78 306.01 L105.28 306.43 L106.78 306.38 L108.28 306.8 L109.79 306.74 L111.29 306.3 L112.79 306.38 L114.29 306.52 L115.79 306.8 L117.3 306.18 L118.8 306.35 L120.3 306.08 L121.8 306.58 L123.3 306.02 L124.81 306.84 L126.31 306.47 L127.81 306.52 L129.31 306.08 L130.81 306.21 L132.32 306.42 L133.82 306.77 L135.32 306.49 L136.82 306.26 L138.32 306.88 L139.83 306.6 L141.33 306.48 L142.83 306.18 L144.33 306.27 L145.83 306.81 L147.34 306.12 L148.84 306.48 L150.34 306.56 L151.84 306.32 L153.34 306.69 L154.85 306.82 L156.35 306.77 L157.85 306.66 L159.35 306.18 L160.85 306.05 L162.36 306.39 L163.86 306.28 L165.36 306.17 L166.86 306.78 L168.36 306.19 L169.87 306.74 L171.37 306.84 L172.87 306.11 L174.37 306.82 L175.88 306.36 L177.38 306.19 L178.88 306.17 L180.38 306.03 L181.88 306.45 L183.39 306.35 L184.89 306.77 L186.39 306.75 L187.89 306.05 L189.39 306.36 L190.9 306.35 L192.4 306.16 L193.9 306.23 L195.4 306.24 L196.9 306.62 L198.41 306.31 L199.91 306.1 L201.41 306.2 L202.91 306.4 L204.41 306.51 L205.92 306.22 L207.42 306.63 L208.92 306.19 L210.42 306.6 L211.92 306.55 L213.43 306.16 L214.93 306.68 L216.43 306.35 L217.93 306.49 L219.43 306.54 L220.94 306.57 L222.44 306.4 L223.94 306.05 L225.44 306.71 L226.94 306.77 L228.45 306.44 L229.95 306.52 L231.45 306.24 L232.95 306.81 L234.45 306.62 L235.96 306.2 L237.46 306.74 L238.96 306.89 L240.46 306.31 L241.96 306.9 L243.47 306.43 L244.97 306.16 L246.47 306.65 L247.97 306.3 L249.47 306.66 L250.98 306.53 L252.48 306.1 L253.98 306.48 L255.48 306.77 L256.98 306.43 L258.49 306.49 L259.99 306.78 L261.49 306.4 L262.99 306.44 L264.5 306.52 L266 306.74 L267.5 306.18 L269 306.08 L270.5 306.69 L272.01 306.5 L273.51 306.27 L275.01 306.8 L276.51 306.8 L278.01 306.49 L279.52 306.89 L281.02 306.75 L282.52 306.67 L284.02 306.26 L285.52 306.01 L287.03 306.61 L288.53 306.66 L290.03 306.32 L291.53 306.43 L293.03 306.51 L294.54 306.22 L296.04 306.63 L297.54 306.51 L299.04 306.35 L300.54 306.1 L302.05 306.5 L303.55 306.29 L305.05 306.65 L306.55 306.16 L308.05 306.35 L309.56 306.18 L311.06 306.37 L312.56 306.52 L314.06 306.1 L315.56 306.05 L317.07 306.43 L318.57 306.18 L320.07 306.45 L321.57 306.15 L323.07 306.09 L324.58 306.48 L326.08 306.83 L327.58 306.78 L329.08 306.46 L330.58 306.36 L332.09 306.06 L333.59 306.25 L335.09 306.28 L336.59 306.85 L338.09 306.11 L339.6 306.85 L341.1 306.43 L342.6 306.39 L344.1 306.24 L345.61 306.87 L347.11 306.17 L348.61 306.51 L350.11 306.46 L351.61 306.18 L353.12 306.2 L354.62 306.89 L356.12 306.71 L357.62 306.66 L359.12 306.81 L360.63 306.09 L362.13 306.63 L363.63 306.68 L365.13 306.2 L366.63 306.41 L368.14 306.88 L369.64 306.29 L371.14 306.69 L372.64 306.15 L374.14 306.6 L375.65 306.24 L377.15 306.46 L378.65 306.34 L380.15 306.78 L381.65 306.67 L383.16 306.45 L384.66 306.62 L386.16 306.38 L387.66 306.72 L389.16 306.23 L390.67 306.49 L392.17 306.53 L393.67 306.35 L395.17 306.04 L396.67 306.15 L398.18 306.58 L399.68 306.19 L401.18 306.68 L402.68 306.45 L404.18 306.86 L405.69 306.76 L407.19 306.65 L408.69 306.34 L410.19 306.04 L411.69 306.5 L413.2 306.67 L414.7 306.83 L416.2 306.18 L417.7 306.14 L419.2 306.88 L420.71 306.67 L422.21 306.44 L423.71 306.66 L425.21 306.13 L426.72 306.49 L428.22 306.6 L429.72 306.54 L431.22 306.15 L432.72 306.12 L434.23 306.56 L435.73 306.8 L437.23 306.12 L438.73 306.01 L440.23 306.07 L441.74 306.71 L443.24 306.35 L444.74 306.41 L446.24 306.89 L447.74 306.55 L449.25 306.24 L450.75 306.63 L452.25 306 L453.75 306.25 L455.25 306.63 L456.76 306.15 L458.26 306.03 L459.76 306.47 L461.26 306.3 L462.76 306.87 L464.27 306.09 L465.77 306.72 L467.27 306.35 L468.77 306.72 L470.27 306.4 L471.78 306.6 L473.28 306.29 L474.78 306.2 L476.28 306.41 L477.78 306.72 L479.29 306.31 L480.79 306.21 L482.29 306.37 L483.79 306.09 L485.29 306.28 L486.8 306.52 L488.3 306.49 L489.8 306.54 L491.3 306.26 L492.8 306.02 L494.31 306.02 L495.81 306.31 L497.31 306.18 L498.81 306.51 L500.31 306.24 L501.82 306.69 L503.32 306.54 L504.82 306.6 L506.32 306.66 L507.82 306.47 L509.33 306.38 L510.83 306.28 L512.33 306.06 L513.83 306.71 L515.34 306.45 L516.84 306.09 L518.34 306.83 L519.84 306.52 L521.34 306.56 L522.85 306.39 L524.35 306.11 L525.85 306.9 L527.35 306.15 L528.85 306.33 L530.36 306.9 L531.86 306.11 L533.36 306.45 L534.86 306.43 L536.36 306.22 L537.87 306.83 L539.37 306.37 L540.87 306.01 L542.37 306.43 L543.87 306 L545.38 306.64 L546.88 306.78 L548.38 306.82 L549.88 306.04 L551.38 306.61 L552.89 306.27 L554.39 306.43 L555.89 306.27 L557.39 306.27 L558.89 306.12 L560.4 306.56 L561.9 306.08 L563.4 306.87 L564.9 306.04 L566.4 306.87 L567.91 306.17 L569.41 306.08 L570.91 306.67 L572.41 306.48 L573.91 306.69 L575.42 306.46 L576.92 306.57 L578.42 306.07 L579.92 306.61 L581.42 306.46 L582.93 306.87 L584.43 306.01 L585.93 306.06 L587.43 306.61 L588.93 306.83 L590.44 306.38 L591.94 306.64 L593.44 306.5 L594.94 306.35 L596.45 306.42 L597.95 306.54 L599.45 306.03 L600.95 306.28 L602.45 306.66 L603.96 306.23 L605.46 306.43 L606.96 306.23 L608.46 306.32 L609.96 306.59 L611.47 306.67 L612.97 306.86 L614.47 306.43 L615.97 306.18 L617.47 306.3 L618.98 306.05 L620.48 306.22 L621.98 306.53 L623.48 306.55 L624.98 306.22 L626.49 306.16 L627.99 306.09 L629.49 306.16 L630.99 306.45 L632.49 306.23 L634 306.8 L635.5 306.51 L637 306.45" fill="none" stroke="#f6888b" stroke-width="0.9" stroke-linejoin="round" stroke-linecap="round"/>
<path d="M46.7 306.7 L154.01 306.7" fill="none" stroke="#5cb47a" stroke-width="3.3600000000000003" stroke-linejoin="round" stroke-linecap="round" stroke-linecap="butt"/>
<path d="M46.7 305.23 L48.21 305.31 L49.72 304.96 L51.23 305.58 L52.75 305.6 L54.26 305.25 L55.77 305.57 L57.28 305.17 L58.79 305.12 L60.3 305.13 L61.81 305.1 L63.33 305.47 L64.84 305.5 L66.35 305.57 L67.86 305.01 L69.37 305.61 L70.88 305.35 L72.39 305.26 L73.9 305.37 L75.42 305.31 L76.93 305.1 L78.44 305.28 L79.95 305.5 L81.46 305.56 L82.97 305.74 L84.48 305.09 L86 305.72 L87.51 305.64 L89.02 305.56 L90.53 305.8 L92.04 305.04 L93.55 305.62 L95.06 305.73 L96.58 305.03 L98.09 305.46 L99.6 305.77 L101.11 305.18 L102.62 305.69 L104.13 305.74 L105.64 305.31 L107.16 305.05 L108.67 305.11 L110.18 305.67 L111.69 305.3 L113.2 305.2 L114.71 305.32 L116.22 305.76 L117.73 305.15 L119.25 304.94 L120.76 305.77 L122.27 305.21 L123.78 305.27 L125.29 305.8 L126.8 305.17 L128.31 305 L129.83 305.72 L131.34 305.14 L132.85 305.12 L134.36 305.76 L135.87 305.13 L137.38 305.73 L138.89 305.22 L140.41 305.19 L141.92 305.11 L143.43 305.41 L144.94 305.42 L146.45 305.28 L147.96 305.38 L149.47 305.19 L150.99 305.67 L152.5 305.76 L154.01 305.37" fill="none" stroke="#5cb47a" stroke-width="0.9" stroke-linejoin="round" stroke-linecap="round"/>
<path d="M46.7 308.26 L48.21 308.32 L49.72 307.64 L51.23 307.81 L52.75 307.76 L54.26 307.72 L55.77 308.45 L57.28 308.39 L58.79 308.4 L60.3 308.08 L61.81 307.68 L63.33 307.96 L64.84 307.63 L66.35 308.39 L67.86 307.82 L69.37 307.84 L70.88 308.43 L72.39 307.76 L73.9 308.41 L75.42 307.86 L76.93 308.18 L78.44 307.68 L79.95 308.39 L81.46 307.94 L82.97 307.89 L84.48 308.17 L86 308.11 L87.51 307.81 L89.02 307.69 L90.53 308.1 L92.04 307.6 L93.55 308.36 L95.06 307.89 L96.58 307.73 L98.09 307.88 L99.6 307.68 L101.11 307.86 L102.62 308.07 L104.13 307.95 L105.64 307.88 L107.16 307.84 L108.67 308.02 L110.18 308.28 L111.69 307.97 L113.2 308.27 L114.71 308.01 L116.22 307.69 L117.73 307.73 L119.25 308.34 L120.76 308.01 L122.27 307.92 L123.78 308.04 L125.29 308.34 L126.8 307.92 L128.31 307.91 L129.83 307.91 L131.34 307.59 L132.85 308.07 L134.36 308.01 L135.87 308.03 L137.38 307.99 L138.89 308.01 L140.41 308.22 L141.92 307.75 L143.43 308.46 L144.94 307.68 L146.45 308.36 L147.96 307.74 L149.47 308.3 L150.99 307.81 L152.5 307.65 L154.01 308.03" fill="none" stroke="#5cb47a" stroke-width="0.9" stroke-linejoin="round" stroke-linecap="round"/>
<path d="M46.7 348.6 L152.11 348.8 L257.52 350.4 L362.93 352.3 L399.83 352.6 L407.2 350.6 L489.42 350.9 L637 351.4" fill="none" stroke="#f6888b" stroke-width="3.84" stroke-linejoin="round" stroke-linecap="round" stroke-linecap="butt"/>
<path d="M46.7 347.06 L48.21 347.3 L49.71 347.31 L51.22 347.34 L52.72 347.43 L54.23 346.69 L55.74 346.95 L57.24 346.74 L58.75 347.26 L60.25 347.02 L61.76 347.25 L63.26 347.3 L64.77 347.46 L66.28 347.21 L67.78 347.37 L69.29 347.11 L70.79 346.74 L72.3 347.39 L73.81 346.75 L75.31 346.75 L76.82 347.35 L78.32 346.91 L79.83 347.22 L81.33 346.72 L82.84 346.87 L84.35 347.27 L85.85 346.73 L87.36 347.12 L88.86 347.46 L90.37 346.88 L91.88 347.28 L93.38 347.31 L94.89 347.22 L96.39 347.34 L97.9 347.29 L99.41 346.74 L100.91 346.89 L102.42 347.16 L103.92 347.51 L105.43 346.91 L106.93 347.21 L108.44 346.85 L109.95 347.43 L111.45 347.11 L112.96 347.17 L114.46 347.29 L115.97 346.87 L117.48 347.35 L118.98 347.41 L120.49 347.46 L121.99 347 L123.5 346.96 L125.01 346.91 L126.51 347.5 L128.02 347.13 L129.52 347.1 L131.03 347.21 L132.53 347.35 L134.04 347.05 L135.55 347.07 L137.05 347.41 L138.56 347.43 L140.06 347.04 L141.57 346.87 L143.08 347.56 L144.58 347.4 L146.09 347.29 L147.59 347.15 L149.1 347.59 L150.6 347.17 L152.11 347 L153.62 346.93 L155.12 347.16 L156.63 347.38 L158.13 347.21 L159.64 347.7 L161.15 347.49 L162.65 347.36 L164.16 347.54 L165.66 347.52 L167.17 347.55 L168.68 347.48 L170.18 347.52 L171.69 347.52 L173.19 347.82 L174.7 347.33 L176.2 347.82 L177.71 347.46 L179.22 347.92 L180.72 347.32 L182.23 347.68 L183.73 347.66 L185.24 347.9 L186.75 347.52 L188.25 347.59 L189.76 347.51 L191.26 347.87 L192.77 347.91 L194.27 347.47 L195.78 347.64 L197.29 347.68 L198.79 348.3 L200.3 347.93 L201.8 348.04 L203.31 347.84 L204.82 348.16 L206.32 348.3 L207.83 348.21 L209.33 347.7 L210.84 348.07 L212.35 348.14 L213.85 347.8 L215.36 348.42 L216.86 348.07 L218.37 348.07 L219.87 348.36 L221.38 348.35 L222.89 348.3 L224.39 348.61 L225.9 348.37 L227.4 348.25 L228.91 348.05 L230.42 348.46 L231.92 348.33 L233.43 348.49 L234.93 348.37 L236.44 348.12 L237.95 348.16 L239.45 348.28 L240.96 348.25 L242.46 348.88 L243.97 348.69 L245.47 348.44 L246.98 348.84 L248.49 348.8 L249.99 348.37 L251.5 348.94 L253 348.54 L254.51 349.18 L256.02 348.52 L257.52 348.66 L259.03 348.66 L260.53 349.17 L262.04 349.17 L263.54 349 L265.05 348.68 L266.56 348.94 L268.06 349.18 L269.57 348.69 L271.07 349.41 L272.58 349.37 L274.09 349.47 L275.59 349.31 L277.1 349.28 L278.6 349.59 L280.11 349.05 L281.62 349.11 L283.12 348.99 L284.63 349.06 L286.13 349.58 L287.64 349.05 L289.14 349.6 L290.65 349.34 L292.16 349.76 L293.66 349.69 L295.17 349.66 L296.67 349.81 L298.18 349.2 L299.69 349.4 L301.19 349.51 L302.7 349.59 L304.2 349.81 L305.71 350 L307.22 349.92 L308.72 350.1 L310.23 349.94 L311.73 349.69 L313.24 349.84 L314.74 350.06 L316.25 350.14 L317.76 349.81 L319.26 349.83 L320.77 350.06 L322.27 349.78 L323.78 350.33 L325.29 349.65 L326.79 350.2 L328.3 350.09 L329.8 349.89 L331.31 350.22 L332.81 350.17 L334.32 350.58 L335.83 350.55 L337.33 350.34 L338.84 350.59 L340.34 350.63 L341.85 350.08 L343.36 350.64 L344.86 350.67 L346.37 350.82 L347.87 350.67 L349.38 350.4 L350.89 350.28 L352.39 350.66 L353.9 350.34 L355.4 350.8 L356.91 350.68 L358.41 350.91 L359.92 350.56 L361.43 350.55 L362.93 351.05 L364.47 350.87 L366.01 350.66 L367.54 350.82 L369.08 350.73 L370.62 350.91 L372.16 350.82 L373.69 350.65 L375.23 351.21 L376.77 351.15 L378.3 351.06 L379.84 350.69 L381.38 350.64 L382.92 351.08 L384.45 351.16 L385.99 351.04 L387.53 350.7 L389.07 351.12 L390.6 350.97 L392.14 350.87 L393.68 351.05 L395.21 350.95 L396.75 351.12 L398.29 351.22 L399.83 351.42 L401.67 350.22 L403.52 350.09 L405.36 349.89 L407.2 349.16 L408.73 349.1 L410.25 349.32 L411.77 348.67 L413.3 349.29 L414.82 349.16 L416.34 349.13 L417.86 348.92 L419.39 349.17 L420.91 348.78 L422.43 349.11 L423.95 348.9 L425.48 349.44 L427 349.35 L428.52 349.09 L430.04 349.32 L431.57 349.03 L433.09 349.14 L434.61 348.86 L436.13 349.42 L437.66 349.35 L439.18 349.35 L440.7 348.82 L442.22 349.41 L443.75 348.77 L445.27 349.22 L446.79 349.16 L448.31 348.83 L449.84 349.12 L451.36 349.5 L452.88 349.3 L454.41 349.05 L455.93 349.46 L457.45 349.1 L458.97 349.54 L460.5 349.15 L462.02 348.89 L463.54 349.61 L465.06 348.9 L466.59 349.05 L468.11 349.47 L469.63 348.95 L471.15 349.3 L472.68 349.56 L474.2 349.35 L475.72 349.16 L477.24 349.49 L478.77 349.55 L480.29 349.36 L481.81 349.4 L483.33 349.17 L484.86 349.24 L486.38 349.71 L487.9 349.7 L489.42 348.93 L490.93 349.09 L492.44 349.12 L493.94 349.58 L495.45 349.11 L496.95 349.09 L498.46 349.57 L499.97 349.1 L501.47 349.75 L502.98 349.34 L504.48 349.7 L505.99 349.64 L507.5 349.16 L509 349.62 L510.51 349.33 L512.01 349.18 L513.52 349.05 L515.02 349.58 L516.53 349.47 L518.04 349.27 L519.54 349.7 L521.05 349.19 L522.55 349.4 L524.06 349.12 L525.57 349.33 L527.07 349.77 L528.58 349.46 L530.08 349.19 L531.59 349.26 L533.1 349.59 L534.6 349.31 L536.11 349.8 L537.61 349.14 L539.12 349.79 L540.62 349.6 L542.13 349.77 L543.64 349.4 L545.14 349.17 L546.65 349.26 L548.15 349.63 L549.66 349.15 L551.17 349.23 L552.67 349.77 L554.18 349.85 L555.68 349.84 L557.19 349.83 L558.69 349.61 L560.2 349.87 L561.71 349.73 L563.21 349.63 L564.72 349.53 L566.22 349.21 L567.73 349.27 L569.24 349.4 L570.74 349.57 L572.25 349.31 L573.75 349.99 L575.26 349.68 L576.77 349.82 L578.27 349.95 L579.78 349.42 L581.28 349.95 L582.79 350.01 L584.29 349.47 L585.8 349.36 L587.31 349.9 L588.81 349.98 L590.32 349.91 L591.82 349.6 L593.33 349.76 L594.84 349.38 L596.34 349.48 L597.85 349.63 L599.35 349.9 L600.86 349.38 L602.37 350.06 L603.87 349.34 L605.38 350.1 L606.88 349.52 L608.39 349.99 L609.89 349.99 L611.4 350.11 L612.91 349.72 L614.41 349.91 L615.92 349.59 L617.42 350.03 L618.93 349.46 L620.44 350.08 L621.94 349.85 L623.45 349.43 L624.95 350.14 L626.46 349.65 L627.96 349.45 L629.47 349.61 L630.98 349.43 L632.48 349.64 L633.99 349.99 L635.49 350.22 L637 349.83" fill="none" stroke="#f6888b" stroke-width="0.9" stroke-linejoin="round" stroke-linecap="round"/>
<path d="M46.7 350.28 L48.21 350.46 L49.71 350.43 L51.22 350.35 L52.72 350.09 L54.23 349.99 L55.74 349.91 L57.24 350.23 L58.75 349.96 L60.25 350.39 L61.76 350.05 L63.26 350.26 L64.77 350.24 L66.28 350.31 L67.78 349.93 L69.29 350.02 L70.79 350.37 L72.3 349.99 L73.81 350.36 L75.31 350.6 L76.82 350.14 L78.32 350.6 L79.83 350.32 L81.33 350.59 L82.84 350.26 L84.35 350.44 L85.85 350.39 L87.36 350 L88.86 350.26 L90.37 350.32 L91.88 350.23 L93.38 350.39 L94.89 350.59 L96.39 350.5 L97.9 350.52 L99.41 349.98 L100.91 350.44 L102.42 350.38 L103.92 350.63 L105.43 349.88 L106.93 350.02 L108.44 350.67 L109.95 350.19 L111.45 350.46 L112.96 350.37 L114.46 350.22 L115.97 350.25 L117.48 350.35 L118.98 350.7 L120.49 350.34 L121.99 350.55 L123.5 350.16 L125.01 350.49 L126.51 350.41 L128.02 350.52 L129.52 350.63 L131.03 349.99 L132.53 350.71 L134.04 350.42 L135.55 350.15 L137.05 350.31 L138.56 350.02 L140.06 350.13 L141.57 350.62 L143.08 350.52 L144.58 350.65 L146.09 350.09 L147.59 350.05 L149.1 350.27 L150.6 350.36 L152.11 350.54 L153.62 350.23 L155.12 350.61 L156.63 350.51 L158.13 350.29 L159.64 350.71 L161.15 350.17 L162.65 350.6 L164.16 350.3 L165.66 350.21 L167.17 350.58 L168.68 350.64 L170.18 350.73 L171.69 350.57 L173.19 351.03 L174.7 350.94 L176.2 350.46 L177.71 350.36 L179.22 351.15 L180.72 350.73 L182.23 350.51 L183.73 350.59 L185.24 351.03 L186.75 350.64 L188.25 350.82 L189.76 351.08 L191.26 350.85 L192.77 351.11 L194.27 351.37 L195.78 351.27 L197.29 351.16 L198.79 351.18 L200.3 350.95 L201.8 351.24 L203.31 351.27 L204.82 351.24 L206.32 351.19 L207.83 351.42 L209.33 351 L210.84 351.43 L212.35 351.67 L213.85 350.94 L215.36 351.13 L216.86 351.74 L218.37 351.04 L219.87 351.65 L221.38 351.49 L222.89 351.1 L224.39 351.57 L225.9 351.1 L227.4 351.79 L228.91 351.38 L230.42 351.9 L231.92 351.9 L233.43 351.31 L234.93 351.55 L236.44 351.37 L237.95 351.88 L239.45 351.37 L240.96 351.38 L242.46 351.43 L243.97 352.05 L245.47 351.58 L246.98 351.67 L248.49 351.79 L249.99 351.9 L251.5 351.81 L253 352.26 L254.51 351.8 L256.02 351.93 L257.52 352.26 L259.03 351.79 L260.53 351.76 L262.04 352.32 L263.54 351.93 L265.05 352.42 L266.56 352.39 L268.06 352.06 L269.57 352.05 L271.07 351.9 L272.58 352.54 L274.09 352.22 L275.59 352.17 L277.1 352.06 L278.6 352.13 L280.11 352.68 L281.62 352.11 L283.12 352.48 L284.63 352.56 L286.13 352.5 L287.64 352.51 L289.14 352.46 L290.65 352.32 L292.16 352.85 L293.66 352.94 L295.17 352.7 L296.67 352.48 L298.18 353.03 L299.69 352.49 L301.19 352.49 L302.7 352.88 L304.2 353.08 L305.71 352.9 L307.22 352.55 L308.72 353.28 L310.23 352.64 L311.73 352.82 L313.24 353.36 L314.74 353.24 L316.25 353.23 L317.76 352.72 L319.26 353.36 L320.77 353.03 L322.27 352.75 L323.78 353.4 L325.29 353.54 L326.79 352.86 L328.3 353.21 L329.8 353.59 L331.31 353.17 L332.81 353.17 L334.32 353.58 L335.83 353.33 L337.33 353.81 L338.84 353.72 L340.34 353.75 L341.85 353.66 L343.36 353.27 L344.86 353.69 L346.37 353.63 L347.87 353.58 L349.38 353.68 L350.89 353.5 L352.39 353.44 L353.9 354.04 L355.4 353.63 L356.91 353.45 L358.41 354.17 L359.92 353.82 L361.43 353.98 L362.93 353.74 L364.47 353.6 L366.01 353.76 L367.54 354.17 L369.08 353.74 L370.62 354.26 L372.16 353.79 L373.69 354.28 L375.23 353.71 L376.77 353.94 L378.3 353.7 L379.84 353.73 L381.38 354.04 L382.92 353.92 L384.45 354.08 L385.99 353.83 L387.53 353.92 L389.07 353.94 L390.6 354.41 L392.14 353.77 L393.68 354.05 L395.21 354.42 L396.75 354.2 L398.29 353.96 L399.83 354.57 L401.67 353.36 L403.52 352.88 L405.36 352.28 L407.2 352.12 L408.73 352.46 L410.25 352.01 L411.77 352.02 L413.3 352.43 L414.82 351.86 L416.34 351.82 L417.86 352.34 L419.39 351.88 L420.91 352.24 L422.43 351.94 L423.95 352.31 L425.48 352.52 L427 352.2 L428.52 352.07 L430.04 352.35 L431.57 352.42 L433.09 351.91 L434.61 352.06 L436.13 352.18 L437.66 352.29 L439.18 352.11 L440.7 352.42 L442.22 352.1 L443.75 352.63 L445.27 352.19 L446.79 352.09 L448.31 351.98 L449.84 352.03 L451.36 352.1 L452.88 352.64 L454.41 352.28 L455.93 352.3 L457.45 352.72 L458.97 352.73 L460.5 352.58 L462.02 352.16 L463.54 352.24 L465.06 352.39 L466.59 352.19 L468.11 352.27 L469.63 352.17 L471.15 352.2 L472.68 352.61 L474.2 352.5 L475.72 352.38 L477.24 352.4 L478.77 352.52 L480.29 352.58 L481.81 352.06 L483.33 352.72 L484.86 352.42 L486.38 352.33 L487.9 352.83 L489.42 352.68 L490.93 352.36 L492.44 352.1 L493.94 352.44 L495.45 352.44 L496.95 352.4 L498.46 352.18 L499.97 352.57 L501.47 352.31 L502.98 352.73 L504.48 352.54 L505.99 352.36 L507.5 352.79 L509 352.49 L510.51 352.21 L512.01 352.37 L513.52 352.19 L515.02 352.5 L516.53 352.89 L518.04 352.92 L519.54 352.69 L521.05 352.3 L522.55 352.37 L524.06 352.35 L525.57 352.49 L527.07 352.71 L528.58 352.22 L530.08 352.6 L531.59 352.55 L533.1 352.75 L534.6 352.88 L536.11 352.55 L537.61 352.72 L539.12 352.46 L540.62 352.61 L542.13 352.76 L543.64 352.3 L545.14 352.67 L546.65 352.67 L548.15 352.42 L549.66 352.47 L551.17 352.94 L552.67 352.56 L554.18 352.44 L555.68 352.52 L557.19 352.72 L558.69 352.62 L560.2 352.59 L561.71 352.57 L563.21 352.49 L564.72 352.73 L566.22 352.81 L567.73 352.41 L569.24 352.81 L570.74 352.59 L572.25 353.13 L573.75 353.11 L575.26 352.47 L576.77 352.92 L578.27 352.65 L579.78 352.47 L581.28 353.08 L582.79 353.11 L584.29 353.02 L585.8 352.91 L587.31 353.18 L588.81 352.85 L590.32 352.95 L591.82 352.94 L593.33 353.11 L594.84 353.11 L596.34 352.68 L597.85 352.6 L599.35 352.88 L600.86 352.92 L602.37 352.74 L603.87 353.15 L605.38 353.14 L606.88 353.02 L608.39 352.9 L609.89 353.03 L611.4 352.64 L612.91 353.13 L614.41 352.6 L615.92 353.22 L617.42 353 L618.93 352.73 L620.44 352.67 L621.94 353 L623.45 352.9 L624.95 353.09 L626.46 352.61 L627.96 353.24 L629.47 352.89 L630.98 352.9 L632.48 353.15 L633.99 353.04 L635.49 352.92 L637 352.97" fill="none" stroke="#f6888b" stroke-width="0.9" stroke-linejoin="round" stroke-linecap="round"/>
<path d="M46.7 343.5 L48.28 347.8 L53.02 350.5 L99.41 350.7 L154.01 350.4" fill="none" stroke="#43a566" stroke-width="4.16" stroke-linejoin="round" stroke-linecap="round" stroke-linecap="butt"/>
<path d="M46.7 341.58 L48.28 346.04 L49.86 346.55 L51.44 347.65 L53.02 349.06 L54.57 348.43 L56.12 348.41 L57.66 349.1 L59.21 348.68 L60.75 348.83 L62.3 348.89 L63.85 349.01 L65.39 348.66 L66.94 349.07 L68.48 348.39 L70.03 349.16 L71.58 348.68 L73.12 348.97 L74.67 348.69 L76.22 349.09 L77.76 348.77 L79.31 348.98 L80.85 348.73 L82.4 349.2 L83.95 349.15 L85.49 348.64 L87.04 349.15 L88.58 349.32 L90.13 348.69 L91.68 348.66 L93.22 349.33 L94.77 349.37 L96.31 348.62 L97.86 349.21 L99.41 349.36 L100.92 348.75 L102.44 349.21 L103.96 348.76 L105.47 349.2 L106.99 348.94 L108.51 348.9 L110.02 348.57 L111.54 349.04 L113.06 349.08 L114.57 348.7 L116.09 348.47 L117.61 348.5 L119.12 348.65 L120.64 349.3 L122.16 349.06 L123.67 349.19 L125.19 349.05 L126.71 348.49 L128.22 348.71 L129.74 349.21 L131.26 349.11 L132.77 349.23 L134.29 349.07 L135.81 348.96 L137.32 349 L138.84 349.13 L140.36 348.68 L141.87 348.32 L143.39 348.56 L144.91 348.28 L146.42 348.51 L147.94 348.78 L149.46 348.49 L150.97 348.46 L152.49 348.31 L154.01 348.67" fill="none" stroke="#43a566" stroke-width="0.9" stroke-linejoin="round" stroke-linecap="round"/>
<path d="M46.7 345.1 L48.28 349.54 L49.86 350.51 L51.44 351.73 L53.02 351.84 L54.57 352.02 L56.12 351.86 L57.66 352.64 L59.21 352.38 L60.75 352.4 L62.3 352.55 L63.85 351.83 L65.39 352.65 L66.94 352.14 L68.48 352.41 L70.03 352.22 L71.58 352.53 L73.12 352.14 L74.67 352.12 L76.22 352.1 L77.76 352.54 L79.31 352.3 L80.85 352.04 L82.4 352.23 L83.95 352.42 L85.49 352.26 L87.04 352.46 L88.58 352.69 L90.13 352.52 L91.68 352.67 L93.22 352.23 L94.77 352.74 L96.31 352.81 L97.86 352.45 L99.41 352 L100.92 352.05 L102.44 352.64 L103.96 352.74 L105.47 352.6 L106.99 352.4 L108.51 352.42 L110.02 352.03 L111.54 352.45 L113.06 352.8 L114.57 352.08 L116.09 352.44 L117.61 352.65 L119.12 352.46 L120.64 352.18 L122.16 352.07 L123.67 352.51 L125.19 352.67 L126.71 352.62 L128.22 352.18 L129.74 352.48 L131.26 352.54 L132.77 352.13 L134.29 352.47 L135.81 352.13 L137.32 351.95 L138.84 351.76 L140.36 352.41 L141.87 352.42 L143.39 351.78 L144.91 351.79 L146.42 352.01 L147.94 351.9 L149.46 352.36 L150.97 351.87 L152.49 352.21 L154.01 352.13" fill="none" stroke="#43a566" stroke-width="0.9" stroke-linejoin="round" stroke-linecap="round"/>
<line x1="154.01" y1="306.5" x2="154.01" y2="404" stroke="#43a566" stroke-width="0.9"/>
<circle cx="154.01" cy="380.2" r="1.7" fill="#43a566"/>
<circle cx="154.01" cy="306.2" r="1.5" fill="#fff"/>
<rect x="46.7" y="294.6" width="590.3" height="109.4" fill="none" stroke="#1e1e1e" stroke-width="1.1"/>
<line x1="46.9" y1="306" x2="46.9" y2="404" stroke="#43a566" stroke-width="1.0"/>
<line x1="46.7" y1="404" x2="46.7" y2="401" stroke="#1e1e1e" stroke-width="1"/>
<text x="46.7" y="417.6" font-size="9.8" fill="#1e1e1e" stroke="#1e1e1e" stroke-width="0.25" font-weight="normal" text-anchor="middle">0</text>
<line x1="88.86" y1="404" x2="88.86" y2="401" stroke="#1e1e1e" stroke-width="1"/>
<text x="88.86" y="417.6" font-size="9.8" fill="#1e1e1e" stroke="#1e1e1e" stroke-width="0.25" font-weight="normal" text-anchor="middle">400</text>
<line x1="131.03" y1="404" x2="131.03" y2="401" stroke="#1e1e1e" stroke-width="1"/>
<text x="131.03" y="417.6" font-size="9.8" fill="#1e1e1e" stroke="#1e1e1e" stroke-width="0.25" font-weight="normal" text-anchor="middle">800</text>
<line x1="173.19" y1="404" x2="173.19" y2="401" stroke="#1e1e1e" stroke-width="1"/>
<text x="173.19" y="417.6" font-size="9.8" fill="#1e1e1e" stroke="#1e1e1e" stroke-width="0.25" font-weight="normal" text-anchor="middle">1200</text>
<line x1="215.36" y1="404" x2="215.36" y2="401" stroke="#1e1e1e" stroke-width="1"/>
<text x="215.36" y="417.6" font-size="9.8" fill="#1e1e1e" stroke="#1e1e1e" stroke-width="0.25" font-weight="normal" text-anchor="middle">1600</text>
<line x1="257.52" y1="404" x2="257.52" y2="401" stroke="#1e1e1e" stroke-width="1"/>
<text x="257.52" y="417.6" font-size="9.8" fill="#1e1e1e" stroke="#1e1e1e" stroke-width="0.25" font-weight="normal" text-anchor="middle">2000</text>
<line x1="299.69" y1="404" x2="299.69" y2="401" stroke="#1e1e1e" stroke-width="1"/>
<text x="299.69" y="417.6" font-size="9.8" fill="#1e1e1e" stroke="#1e1e1e" stroke-width="0.25" font-weight="normal" text-anchor="middle">2400</text>
<line x1="341.85" y1="404" x2="341.85" y2="401" stroke="#1e1e1e" stroke-width="1"/>
<text x="341.85" y="417.6" font-size="9.8" fill="#1e1e1e" stroke="#1e1e1e" stroke-width="0.25" font-weight="normal" text-anchor="middle">2800</text>
<line x1="384.01" y1="404" x2="384.01" y2="401" stroke="#1e1e1e" stroke-width="1"/>
<text x="384.01" y="417.6" font-size="9.8" fill="#1e1e1e" stroke="#1e1e1e" stroke-width="0.25" font-weight="normal" text-anchor="middle">3200</text>
<line x1="426.18" y1="404" x2="426.18" y2="401" stroke="#1e1e1e" stroke-width="1"/>
<text x="426.18" y="417.6" font-size="9.8" fill="#1e1e1e" stroke="#1e1e1e" stroke-width="0.25" font-weight="normal" text-anchor="middle">3600</text>
<line x1="468.34" y1="404" x2="468.34" y2="401" stroke="#1e1e1e" stroke-width="1"/>
<text x="468.34" y="417.6" font-size="9.8" fill="#1e1e1e" stroke="#1e1e1e" stroke-width="0.25" font-weight="normal" text-anchor="middle">4000</text>
<line x1="510.51" y1="404" x2="510.51" y2="401" stroke="#1e1e1e" stroke-width="1"/>
<text x="510.51" y="417.6" font-size="9.8" fill="#1e1e1e" stroke="#1e1e1e" stroke-width="0.25" font-weight="normal" text-anchor="middle">4400</text>
<line x1="552.67" y1="404" x2="552.67" y2="401" stroke="#1e1e1e" stroke-width="1"/>
<text x="552.67" y="417.6" font-size="9.8" fill="#1e1e1e" stroke="#1e1e1e" stroke-width="0.25" font-weight="normal" text-anchor="middle">4800</text>
<line x1="594.84" y1="404" x2="594.84" y2="401" stroke="#1e1e1e" stroke-width="1"/>
<text x="594.84" y="417.6" font-size="9.8" fill="#1e1e1e" stroke="#1e1e1e" stroke-width="0.25" font-weight="normal" text-anchor="middle">5200</text>
<line x1="637" y1="404" x2="637" y2="401" stroke="#1e1e1e" stroke-width="1"/>
<text x="637" y="417.6" font-size="9.8" fill="#1e1e1e" stroke="#1e1e1e" stroke-width="0.25" font-weight="normal" text-anchor="middle">5600</text>
<line x1="67.78" y1="404" x2="67.78" y2="402.4" stroke="#1e1e1e" stroke-width="1"/>
<line x1="109.95" y1="404" x2="109.95" y2="402.4" stroke="#1e1e1e" stroke-width="1"/>
<line x1="152.11" y1="404" x2="152.11" y2="402.4" stroke="#1e1e1e" stroke-width="1"/>
<line x1="194.27" y1="404" x2="194.27" y2="402.4" stroke="#1e1e1e" stroke-width="1"/>
<line x1="236.44" y1="404" x2="236.44" y2="402.4" stroke="#1e1e1e" stroke-width="1"/>
<line x1="278.6" y1="404" x2="278.6" y2="402.4" stroke="#1e1e1e" stroke-width="1"/>
<line x1="320.77" y1="404" x2="320.77" y2="402.4" stroke="#1e1e1e" stroke-width="1"/>
<line x1="362.93" y1="404" x2="362.93" y2="402.4" stroke="#1e1e1e" stroke-width="1"/>
<line x1="405.1" y1="404" x2="405.1" y2="402.4" stroke="#1e1e1e" stroke-width="1"/>
<line x1="447.26" y1="404" x2="447.26" y2="402.4" stroke="#1e1e1e" stroke-width="1"/>
<line x1="489.42" y1="404" x2="489.42" y2="402.4" stroke="#1e1e1e" stroke-width="1"/>
<line x1="531.59" y1="404" x2="531.59" y2="402.4" stroke="#1e1e1e" stroke-width="1"/>
<line x1="573.75" y1="404" x2="573.75" y2="402.4" stroke="#1e1e1e" stroke-width="1"/>
<line x1="615.92" y1="404" x2="615.92" y2="402.4" stroke="#1e1e1e" stroke-width="1"/>
<line x1="46.7" y1="404" x2="49.7" y2="404" stroke="#1e1e1e" stroke-width="1"/>
<text x="44.7" y="406.9" font-size="9.6" fill="#1e1e1e" stroke="#1e1e1e" stroke-width="0.25" font-weight="normal" text-anchor="end">0</text>
<line x1="46.7" y1="389.41" x2="49.7" y2="389.41" stroke="#1e1e1e" stroke-width="1"/>
<text x="44.7" y="392.31" font-size="9.6" fill="#1e1e1e" stroke="#1e1e1e" stroke-width="0.25" font-weight="normal" text-anchor="end">40</text>
<line x1="46.7" y1="374.83" x2="49.7" y2="374.83" stroke="#1e1e1e" stroke-width="1"/>
<text x="44.7" y="377.73" font-size="9.6" fill="#1e1e1e" stroke="#1e1e1e" stroke-width="0.25" font-weight="normal" text-anchor="end">80</text>
<line x1="46.7" y1="360.24" x2="49.7" y2="360.24" stroke="#1e1e1e" stroke-width="1"/>
<text x="44.7" y="363.14" font-size="9.6" fill="#1e1e1e" stroke="#1e1e1e" stroke-width="0.25" font-weight="normal" text-anchor="end">120</text>
<line x1="46.7" y1="345.65" x2="49.7" y2="345.65" stroke="#1e1e1e" stroke-width="1"/>
<text x="44.7" y="348.55" font-size="9.6" fill="#1e1e1e" stroke="#1e1e1e" stroke-width="0.25" font-weight="normal" text-anchor="end">160</text>
<line x1="46.7" y1="331.07" x2="49.7" y2="331.07" stroke="#1e1e1e" stroke-width="1"/>
<text x="44.7" y="333.97" font-size="9.6" fill="#1e1e1e" stroke="#1e1e1e" stroke-width="0.25" font-weight="normal" text-anchor="end">200</text>
<line x1="46.7" y1="316.48" x2="49.7" y2="316.48" stroke="#1e1e1e" stroke-width="1"/>
<text x="44.7" y="319.38" font-size="9.6" fill="#1e1e1e" stroke="#1e1e1e" stroke-width="0.25" font-weight="normal" text-anchor="end">240</text>
<line x1="46.7" y1="301.89" x2="49.7" y2="301.89" stroke="#1e1e1e" stroke-width="1"/>
<text x="44.7" y="304.79" font-size="9.6" fill="#1e1e1e" stroke="#1e1e1e" stroke-width="0.25" font-weight="normal" text-anchor="end">280</text>
<line x1="46.7" y1="396.71" x2="48.3" y2="396.71" stroke="#1e1e1e" stroke-width="1"/>
<line x1="46.7" y1="382.12" x2="48.3" y2="382.12" stroke="#1e1e1e" stroke-width="1"/>
<line x1="46.7" y1="367.53" x2="48.3" y2="367.53" stroke="#1e1e1e" stroke-width="1"/>
<line x1="46.7" y1="352.95" x2="48.3" y2="352.95" stroke="#1e1e1e" stroke-width="1"/>
<line x1="46.7" y1="338.36" x2="48.3" y2="338.36" stroke="#1e1e1e" stroke-width="1"/>
<line x1="46.7" y1="323.77" x2="48.3" y2="323.77" stroke="#1e1e1e" stroke-width="1"/>
<line x1="46.7" y1="309.19" x2="48.3" y2="309.19" stroke="#1e1e1e" stroke-width="1"/>
<line x1="637" y1="404" x2="634" y2="404" stroke="#1e1e1e" stroke-width="1"/>
<text x="639.8" y="406.9" font-size="9.6" fill="#1e1e1e" stroke="#1e1e1e" stroke-width="0.25" font-weight="normal" text-anchor="start">0</text>
<line x1="637" y1="384.11" x2="634" y2="384.11" stroke="#1e1e1e" stroke-width="1"/>
<text x="639.8" y="387.01" font-size="9.6" fill="#1e1e1e" stroke="#1e1e1e" stroke-width="0.25" font-weight="normal" text-anchor="start">20</text>
<line x1="637" y1="364.22" x2="634" y2="364.22" stroke="#1e1e1e" stroke-width="1"/>
<text x="639.8" y="367.12" font-size="9.6" fill="#1e1e1e" stroke="#1e1e1e" stroke-width="0.25" font-weight="normal" text-anchor="start">40</text>
<line x1="637" y1="344.33" x2="634" y2="344.33" stroke="#1e1e1e" stroke-width="1"/>
<text x="639.8" y="347.23" font-size="9.6" fill="#1e1e1e" stroke="#1e1e1e" stroke-width="0.25" font-weight="normal" text-anchor="start">60</text>
<line x1="637" y1="324.44" x2="634" y2="324.44" stroke="#1e1e1e" stroke-width="1"/>
<text x="639.8" y="327.34" font-size="9.6" fill="#1e1e1e" stroke="#1e1e1e" stroke-width="0.25" font-weight="normal" text-anchor="start">80</text>
<line x1="637" y1="304.55" x2="634" y2="304.55" stroke="#1e1e1e" stroke-width="1"/>
<text x="639.8" y="307.45" font-size="9.6" fill="#1e1e1e" stroke="#1e1e1e" stroke-width="0.25" font-weight="normal" text-anchor="start">100</text>
<line x1="637" y1="394.05" x2="635.4" y2="394.05" stroke="#1e1e1e" stroke-width="1"/>
<line x1="637" y1="374.16" x2="635.4" y2="374.16" stroke="#1e1e1e" stroke-width="1"/>
<line x1="637" y1="354.27" x2="635.4" y2="354.27" stroke="#1e1e1e" stroke-width="1"/>
<line x1="637" y1="334.38" x2="635.4" y2="334.38" stroke="#1e1e1e" stroke-width="1"/>
<line x1="637" y1="314.49" x2="635.4" y2="314.49" stroke="#1e1e1e" stroke-width="1"/>
<line x1="637" y1="299.57" x2="635.4" y2="299.57" stroke="#1e1e1e" stroke-width="1"/>
<text x="341.6" y="430.8" font-size="9.8" fill="#1e1e1e" stroke="#1e1e1e" stroke-width="0.25" font-weight="normal" text-anchor="middle"><tspan>Cycle number</tspan></text>
<text x="23" y="351.4" font-size="9.9" fill="#1e1e1e" stroke="#1e1e1e" stroke-width="0.25" font-weight="normal" text-anchor="middle" transform="rotate(-90 23 351.4)"><tspan>Capacity (mAh g</tspan><tspan font-size="5.94" dy="-2.97" dx="-0.3">-1</tspan><tspan dy="2.97">&#8203;</tspan><tspan>)</tspan></text>
<text x="665.2" y="351.5" font-size="9.8" fill="#1e1e1e" stroke="#1e1e1e" stroke-width="0.25" font-weight="normal" text-anchor="middle" transform="rotate(-90 665.2 351.5)"><tspan>Coulombic Efficiency (%)</tspan></text>
<text x="70.6" y="324.2" font-size="8.3" fill="#4aab6b" stroke="#4aab6b" stroke-width="0.25" font-weight="bold" text-anchor="start">Average CE: 97.09%</text>
<text x="99.6" y="364.3" font-size="8.3" fill="#4aab6b" stroke="#4aab6b" stroke-width="0.25" font-weight="bold" text-anchor="start"><tspan>147.1 mAh g</tspan><tspan font-size="4.98" dy="-2.49" dx="-0.3">-1</tspan><tspan dy="2.49">&#8203;</tspan></text>
<text x="187.3" y="331.8" font-size="9.7" fill="#4aab6b" stroke="#4aab6b" stroke-width="0.25" font-weight="bold" text-anchor="start">short circuit</text>
<line x1="184.6" y1="329" x2="158.5" y2="335.2" stroke="#43a566" stroke-width="0.9"/>
<path d="M160.66 332.72 L157.7 335.4 L161.55 336.46" fill="none" stroke="#43a566" stroke-width="0.9" stroke-linejoin="round" stroke-linecap="round"/>
<text x="63.3" y="398.5" font-size="9.3" fill="#1e1e1e" stroke="#1e1e1e" stroke-width="0.25" font-weight="bold" text-anchor="start"><tspan>2.0 A g</tspan><tspan font-size="5.58" dy="-2.79" dx="-0.3">-1</tspan><tspan dy="2.79">&#8203;</tspan></text>
<text x="549" y="318.4" font-size="8.4" fill="#f4797b" stroke="#f4797b" stroke-width="0.25" font-weight="bold" text-anchor="start">Average CE: 99.76%</text>
<text x="576.7" y="366.3" font-size="8.3" fill="#f4797b" stroke="#f4797b" stroke-width="0.25" font-weight="bold" text-anchor="start"><tspan>141.8 mAh g</tspan><tspan font-size="4.98" dy="-2.49" dx="-0.3">-1</tspan><tspan dy="2.49">&#8203;</tspan></text>
<line x1="554.6" y1="379.1" x2="578.1" y2="379.1" stroke="#f76a6e" stroke-width="0.9"/>
<circle cx="567" cy="379.1" r="1.6" fill="#f76a6e"/>
<line x1="554.6" y1="392.4" x2="578.1" y2="392.4" stroke="#43a566" stroke-width="0.9"/>
<circle cx="567" cy="392.4" r="1.6" fill="#43a566"/>
<text x="580.3" y="382.9" font-size="8.3" fill="#f4797b" stroke="#f4797b" stroke-width="0.25" font-weight="bold" text-anchor="start">Zeolite-Zn</text>
<text x="580.3" y="396.2" font-size="8.3" fill="#4aab6b" stroke="#4aab6b" stroke-width="0.25" font-weight="bold" text-anchor="start">Zn</text>
</g></svg>
</body></html>
